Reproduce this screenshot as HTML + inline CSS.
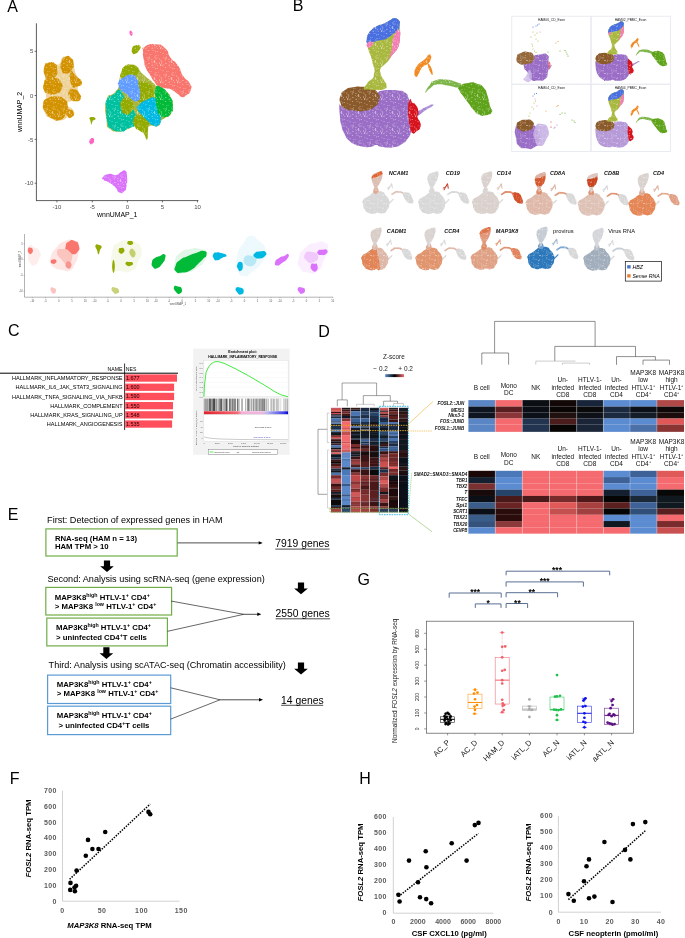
<!DOCTYPE html><html><head><meta charset="utf-8"><title>Figure</title><style>html,body{margin:0;padding:0;background:#fff;width:685px;height:938px;overflow:hidden}svg{display:block;will-change:transform}</style></head><body><svg width="685" height="938" viewBox="0 0 685 938" font-family='"Liberation Sans", sans-serif'>
<rect width="685" height="938" fill="#fff"/>
<defs><pattern id="spk" width="17" height="17" patternUnits="userSpaceOnUse"><g fill="#fff" opacity="0.85"><rect x="7.69" y="9.52" width="0.86" height="0.63"/><rect x="8.63" y="9.99" width="0.49" height="0.66"/><rect x="10.71" y="13.48" width="0.45" height="0.55"/><rect x="1.54" y="13.76" width="0.75" height="0.42"/><rect x="16.70" y="16.40" width="0.73" height="0.71"/><rect x="2.68" y="0.26" width="0.66" height="0.43"/><rect x="3.23" y="4.11" width="0.42" height="0.63"/><rect x="7.49" y="14.32" width="0.66" height="0.72"/><rect x="8.50" y="11.26" width="0.63" height="0.54"/><rect x="16.96" y="16.93" width="0.82" height="0.75"/><rect x="5.36" y="3.90" width="0.54" height="0.44"/><rect x="13.03" y="6.81" width="0.82" height="0.59"/><rect x="16.29" y="14.40" width="0.40" height="0.50"/><rect x="15.47" y="7.99" width="0.89" height="0.60"/><rect x="1.24" y="10.70" width="0.79" height="0.53"/><rect x="1.48" y="5.65" width="0.88" height="0.78"/><rect x="2.01" y="4.19" width="0.45" height="0.43"/><rect x="13.55" y="3.02" width="0.68" height="0.62"/><rect x="3.24" y="12.44" width="0.47" height="0.72"/><rect x="1.98" y="7.15" width="0.51" height="0.53"/><rect x="16.51" y="13.66" width="0.55" height="0.84"/><rect x="3.58" y="6.70" width="0.83" height="0.72"/><rect x="1.71" y="16.82" width="0.51" height="0.53"/><rect x="13.14" y="5.59" width="0.55" height="0.44"/><rect x="1.53" y="9.91" width="0.52" height="0.70"/><rect x="6.32" y="7.70" width="0.88" height="0.64"/><rect x="9.77" y="14.73" width="0.49" height="0.48"/><rect x="15.44" y="13.90" width="0.52" height="0.49"/><rect x="12.57" y="15.99" width="0.50" height="0.88"/><rect x="15.00" y="10.26" width="0.61" height="0.45"/><rect x="0.66" y="16.37" width="0.52" height="0.75"/><rect x="4.37" y="14.00" width="0.70" height="0.55"/><rect x="2.98" y="12.25" width="0.43" height="0.51"/><rect x="9.51" y="14.49" width="0.71" height="0.54"/><rect x="15.60" y="3.47" width="0.41" height="0.53"/><rect x="7.58" y="1.03" width="0.49" height="0.58"/><rect x="9.73" y="2.24" width="0.58" height="0.85"/><rect x="16.67" y="11.17" width="0.75" height="0.69"/><rect x="2.39" y="0.60" width="0.41" height="0.86"/><rect x="11.92" y="16.37" width="0.41" height="0.72"/><rect x="8.20" y="12.42" width="0.56" height="0.90"/><rect x="1.28" y="9.28" width="0.77" height="0.85"/><rect x="12.53" y="11.96" width="0.80" height="0.86"/><rect x="5.98" y="11.65" width="0.85" height="0.84"/><rect x="7.09" y="13.44" width="0.83" height="0.69"/><rect x="10.62" y="6.50" width="0.69" height="0.70"/><rect x="1.36" y="10.87" width="0.90" height="0.84"/><rect x="12.38" y="6.60" width="0.77" height="0.69"/><rect x="7.49" y="14.25" width="0.44" height="0.78"/><rect x="0.51" y="10.22" width="0.64" height="0.52"/><rect x="11.87" y="8.45" width="0.71" height="0.86"/><rect x="4.35" y="0.19" width="0.55" height="0.74"/></g></pattern>
<pattern id="spk2" width="13" height="13" patternUnits="userSpaceOnUse"><g fill="#fff" opacity="0.9"><rect x="6.17" y="8.55" width="0.58" height="0.40"/><rect x="0.14" y="4.87" width="0.45" height="0.63"/><rect x="8.98" y="7.82" width="0.55" height="0.58"/><rect x="1.89" y="5.72" width="0.41" height="0.67"/><rect x="0.76" y="10.64" width="0.38" height="0.59"/><rect x="4.38" y="5.26" width="0.64" height="0.36"/><rect x="0.79" y="11.90" width="0.53" height="0.38"/><rect x="12.83" y="12.31" width="0.39" height="0.50"/><rect x="1.76" y="4.06" width="0.57" height="0.41"/><rect x="9.06" y="0.67" width="0.41" height="0.64"/><rect x="5.21" y="5.44" width="0.56" height="0.52"/><rect x="5.00" y="0.40" width="0.60" height="0.69"/><rect x="12.69" y="8.63" width="0.47" height="0.48"/><rect x="8.97" y="8.76" width="0.39" height="0.43"/><rect x="4.72" y="6.65" width="0.63" height="0.53"/><rect x="0.37" y="10.69" width="0.50" height="0.53"/><rect x="2.89" y="5.55" width="0.49" height="0.62"/><rect x="1.33" y="7.15" width="0.41" height="0.59"/><rect x="0.48" y="3.60" width="0.47" height="0.57"/><rect x="0.68" y="5.97" width="0.42" height="0.45"/><rect x="6.19" y="12.46" width="0.52" height="0.68"/><rect x="2.18" y="12.02" width="0.48" height="0.42"/><rect x="9.73" y="11.86" width="0.35" height="0.44"/><rect x="10.02" y="4.44" width="0.43" height="0.35"/><rect x="0.52" y="8.05" width="0.69" height="0.70"/><rect x="6.55" y="0.31" width="0.46" height="0.63"/><rect x="10.82" y="8.31" width="0.43" height="0.53"/><rect x="6.21" y="8.15" width="0.44" height="0.68"/><rect x="11.63" y="2.11" width="0.45" height="0.66"/><rect x="3.62" y="12.27" width="0.53" height="0.59"/><rect x="9.16" y="2.78" width="0.45" height="0.44"/><rect x="8.88" y="9.02" width="0.40" height="0.66"/><rect x="5.46" y="3.14" width="0.50" height="0.69"/><rect x="7.28" y="8.12" width="0.67" height="0.69"/></g></pattern></defs>
<text x="7.3" y="12" font-size="16.0" text-anchor="start" font-weight="normal" font-style="normal" fill="#000" >A</text>
<text x="292.8" y="11.1" font-size="16.0" text-anchor="start" font-weight="normal" font-style="normal" fill="#000" >B</text>
<text x="8.0" y="336.4" font-size="16.0" text-anchor="start" font-weight="normal" font-style="normal" fill="#000" >C</text>
<text x="318.3" y="336.6" font-size="16.0" text-anchor="start" font-weight="normal" font-style="normal" fill="#000" >D</text>
<text x="7.8" y="520.4" font-size="16.0" text-anchor="start" font-weight="normal" font-style="normal" fill="#000" >E</text>
<text x="9.8" y="784.2" font-size="16.0" text-anchor="start" font-weight="normal" font-style="normal" fill="#000" >F</text>
<text x="357.6" y="585" font-size="16.0" text-anchor="start" font-weight="normal" font-style="normal" fill="#000" >G</text>
<text x="359.2" y="784.2" font-size="16.0" text-anchor="start" font-weight="normal" font-style="normal" fill="#000" >H</text>
<line x1="36.4" y1="23.3" x2="36.4" y2="200.6" stroke="#333" stroke-width="0.8" />
<line x1="36.0" y1="200.6" x2="198.4" y2="200.6" stroke="#333" stroke-width="0.8" />
<line x1="34.6" y1="51.3" x2="36.4" y2="51.3" stroke="#333" stroke-width="0.7" />
<text x="33.4" y="53.4" font-size="6.0" text-anchor="end" font-weight="normal" font-style="normal" fill="#4d4d4d" >5</text>
<line x1="34.6" y1="95.5" x2="36.4" y2="95.5" stroke="#333" stroke-width="0.7" />
<text x="33.4" y="97.6" font-size="6.0" text-anchor="end" font-weight="normal" font-style="normal" fill="#4d4d4d" >0</text>
<line x1="34.6" y1="139.4" x2="36.4" y2="139.4" stroke="#333" stroke-width="0.7" />
<text x="33.4" y="141.5" font-size="6.0" text-anchor="end" font-weight="normal" font-style="normal" fill="#4d4d4d" >-5</text>
<line x1="34.6" y1="183.2" x2="36.4" y2="183.2" stroke="#333" stroke-width="0.7" />
<text x="33.4" y="185.29999999999998" font-size="6.0" text-anchor="end" font-weight="normal" font-style="normal" fill="#4d4d4d" >-10</text>
<line x1="56.9" y1="200.6" x2="56.9" y2="202.4" stroke="#333" stroke-width="0.7" />
<text x="56.9" y="208.6" font-size="6.0" text-anchor="middle" font-weight="normal" font-style="normal" fill="#4d4d4d" >-10</text>
<line x1="92.3" y1="200.6" x2="92.3" y2="202.4" stroke="#333" stroke-width="0.7" />
<text x="92.3" y="208.6" font-size="6.0" text-anchor="middle" font-weight="normal" font-style="normal" fill="#4d4d4d" >-5</text>
<line x1="127.4" y1="200.6" x2="127.4" y2="202.4" stroke="#333" stroke-width="0.7" />
<text x="127.4" y="208.6" font-size="6.0" text-anchor="middle" font-weight="normal" font-style="normal" fill="#4d4d4d" >0</text>
<line x1="162.4" y1="200.6" x2="162.4" y2="202.4" stroke="#333" stroke-width="0.7" />
<text x="162.4" y="208.6" font-size="6.0" text-anchor="middle" font-weight="normal" font-style="normal" fill="#4d4d4d" >5</text>
<line x1="197.5" y1="200.6" x2="197.5" y2="202.4" stroke="#333" stroke-width="0.7" />
<text x="197.5" y="208.6" font-size="6.0" text-anchor="middle" font-weight="normal" font-style="normal" fill="#4d4d4d" >10</text>
<text x="117.2" y="217.0" font-size="6.9" text-anchor="middle" font-weight="normal" font-style="normal" fill="#000" >wnnUMAP_1</text>
<text x="0" y="0" font-size="6.9" text-anchor="middle" transform="translate(22.3,112) rotate(-90)">wnnUMAP_2</text>
<path d="M44.6,66.0 C45.4,63.0 44.5,64.2 47.0,63.0 C49.5,61.8 49.0,62.0 52.0,62.5 C55.0,63.0 53.3,64.3 56.0,64.5 C58.7,64.7 58.0,65.2 60.0,63.0 C62.0,60.8 60.0,60.2 62.0,58.0 C64.0,55.8 63.0,56.5 66.0,56.5 C69.0,56.5 68.5,55.8 71.0,58.0 C73.5,60.2 71.8,57.7 73.5,63.0 C75.2,68.3 73.2,67.5 76.0,74.0 C78.8,80.5 81.1,78.2 81.8,82.5 C82.5,86.8 78.9,83.5 78.0,87.0 C77.1,90.5 78.2,89.0 79.0,93.0 C79.8,97.0 81.8,96.2 80.5,99.0 C79.2,101.8 78.2,100.8 75.0,101.5 C71.8,102.2 73.5,99.8 71.0,101.0 C68.5,102.2 66.8,102.0 67.5,105.0 C68.2,108.0 71.0,106.3 73.0,110.0 C75.0,113.7 75.2,113.7 73.5,116.0 C71.8,118.3 71.5,115.7 68.0,117.0 C64.5,118.3 66.3,119.0 63.0,120.0 C59.7,121.0 62.3,120.7 58.0,120.0 C53.7,119.3 54.3,120.3 50.0,118.0 C45.7,115.7 47.3,117.7 45.0,113.0 C42.7,108.3 42.9,109.3 43.2,104.0 C43.5,98.7 45.7,101.7 46.0,97.0 C46.3,92.3 44.7,94.3 44.0,90.0 C43.3,85.7 43.5,88.0 43.8,84.0 C44.1,80.0 44.8,82.0 45.0,78.0 C45.2,74.0 44.6,76.0 44.5,72.0 C44.4,68.0 43.8,69.0 44.6,66.0Z" fill="#EDD39A" />
<path d="M44.6,66.0 C45.9,61.6 45.5,63.6 49.0,62.8 C52.5,62.0 52.3,61.4 55.0,63.5 C57.7,65.6 56.7,64.8 57.0,69.0 C57.3,73.2 58.3,72.8 56.0,76.0 C53.7,79.2 53.7,78.5 50.0,78.5 C46.3,78.5 46.8,80.2 45.0,76.0 C43.2,71.8 43.3,70.4 44.6,66.0Z" fill="#D39200" />
<path d="M61.5,62.0 C63.0,57.5 62.8,57.8 66.0,56.5 C69.2,55.2 68.5,55.7 71.0,58.0 C73.5,60.3 73.3,59.5 73.5,63.5 C73.7,67.5 74.0,66.7 71.5,70.0 C69.0,73.3 69.3,73.5 66.0,73.5 C62.7,73.5 63.0,73.8 61.5,70.0 C60.0,66.2 60.0,66.5 61.5,62.0Z" fill="#D39200" />
<path d="M70.5,72.0 C72.0,69.0 72.2,72.5 76.0,76.0 C79.8,79.5 81.5,79.0 81.8,82.5 C82.1,86.0 80.4,85.7 77.0,86.5 C73.6,87.3 73.7,89.8 71.5,85.0 C69.3,80.2 69.0,75.0 70.5,72.0Z" fill="#D39200" />
<path d="M43.8,84.0 C44.8,80.3 43.3,81.0 47.0,79.0 C50.7,77.0 50.3,77.0 55.0,78.0 C59.7,79.0 58.8,78.3 61.0,82.0 C63.2,85.7 63.2,85.1 61.5,89.0 C59.8,92.9 60.5,92.3 56.0,93.8 C51.5,95.3 52.0,94.8 48.0,93.5 C44.0,92.2 45.4,93.2 44.0,90.0 C42.6,86.8 42.8,87.7 43.8,84.0Z" fill="#D39200" />
<path d="M69.0,91.0 C70.3,88.1 70.7,88.6 74.0,89.3 C77.3,90.0 76.8,89.8 79.0,93.0 C81.2,96.2 81.8,96.3 80.5,99.0 C79.2,101.7 78.5,101.3 75.0,101.0 C71.5,100.7 72.0,101.3 70.0,98.0 C68.0,94.7 67.7,93.9 69.0,91.0Z" fill="#D39200" />
<path d="M43.2,104.0 C44.0,99.3 43.4,100.5 48.0,98.0 C52.6,95.5 51.7,96.2 57.0,96.5 C62.3,96.8 60.5,96.2 64.0,99.0 C67.5,101.8 66.8,100.3 67.5,105.0 C68.2,109.7 68.3,108.1 66.0,113.0 C63.7,117.9 65.2,118.0 60.5,119.8 C55.8,121.6 57.0,121.1 52.0,118.5 C47.0,115.9 48.4,116.8 45.5,112.0 C42.6,107.2 42.4,108.7 43.2,104.0Z" fill="#D39200" />
<path d="M66.5,111.0 C67.3,108.7 67.7,109.0 70.0,109.5 C72.3,110.0 72.8,110.0 73.5,112.5 C74.2,115.0 74.0,115.7 72.0,117.0 C70.0,118.3 69.3,118.5 67.5,116.5 C65.7,114.5 65.7,113.3 66.5,111.0Z" fill="#D39200" />
<path d="M106.5,100.0 C109.0,91.0 109.8,97.7 114.0,93.0 C118.2,88.3 117.2,90.7 119.0,86.0 C120.8,81.3 118.5,84.0 119.5,79.0 C120.5,74.0 119.8,75.3 122.0,71.0 C124.2,66.7 123.0,68.2 126.0,66.0 C129.0,63.8 127.3,64.3 131.0,64.5 C134.7,64.7 134.0,64.3 137.0,66.5 C140.0,68.7 137.3,67.8 140.0,71.0 C142.7,74.2 141.7,73.0 145.0,76.0 C148.3,79.0 147.0,77.5 150.0,80.0 C153.0,82.5 151.3,81.2 154.0,83.5 C156.7,85.8 154.0,84.5 158.0,87.0 C162.0,89.5 161.7,87.3 166.0,91.0 C170.3,94.7 168.7,93.0 171.0,98.0 C173.3,103.0 173.0,100.7 173.0,106.0 C173.0,111.3 173.7,110.0 171.0,114.0 C168.3,118.0 168.3,115.7 165.0,118.0 C161.7,120.3 163.3,118.3 161.0,121.0 C158.7,123.7 161.7,124.3 158.0,126.0 C154.3,127.7 153.3,124.3 150.0,126.0 C146.7,127.7 149.0,126.7 148.0,131.0 C147.0,135.3 148.5,138.3 147.0,139.0 C145.5,139.7 147.2,137.3 143.5,133.0 C139.8,128.7 141.2,127.3 136.0,126.0 C130.8,124.7 133.3,127.2 128.0,129.0 C122.7,130.8 126.0,131.5 120.0,131.5 C114.0,131.5 114.5,132.8 110.0,129.0 C105.5,125.2 107.7,129.7 106.5,120.0 C105.3,110.3 104.0,109.0 106.5,100.0Z" fill="#A9B63A" />
<path d="M143.0,51.0 C143.2,46.8 140.2,49.2 144.4,46.9 C148.6,44.6 148.6,43.7 155.5,44.2 C162.4,44.7 160.1,43.7 165.2,48.3 C170.3,52.9 166.5,52.4 170.7,58.0 C174.9,63.6 173.5,59.0 177.7,65.0 C181.9,71.0 179.3,70.1 183.2,76.1 C187.1,82.1 187.0,78.4 189.5,83.0 C192.0,87.6 192.0,85.7 190.8,89.9 C189.6,94.1 189.0,93.2 186.0,95.5 C183.0,97.8 184.6,97.4 181.8,96.9 C179.0,96.4 180.9,96.4 177.7,94.1 C174.5,91.8 175.8,91.8 172.1,89.9 C168.4,88.0 170.8,89.4 166.6,88.5 C162.4,87.6 163.8,89.5 159.6,87.2 C155.4,84.9 157.3,85.8 154.1,81.6 C150.9,77.4 152.7,79.3 149.9,74.7 C147.1,70.1 147.9,72.8 145.8,67.7 C143.7,62.6 144.6,65.0 143.7,59.4 C142.8,53.8 142.8,55.2 143.0,51.0Z" fill="#F8766D" />
<path d="M132.0,49.0 C132.8,46.5 132.3,46.5 135.0,45.5 C137.7,44.5 138.7,44.3 140.0,46.0 C141.3,47.7 140.7,47.9 139.0,50.5 C137.3,53.1 137.2,53.0 135.0,53.8 C132.8,54.6 133.5,54.6 132.5,53.0 C131.5,51.4 131.2,51.5 132.0,49.0Z" fill="#93AA00" />
<path d="M121.5,71.9 C122.7,68.4 121.3,68.7 124.3,66.4 C127.3,64.1 126.3,64.8 130.5,65.0 C134.7,65.2 134.0,64.7 136.8,67.0 C139.6,69.3 139.5,68.9 138.8,71.9 C138.1,74.9 138.8,74.3 134.7,76.1 C130.6,77.9 131.0,77.2 126.4,77.4 C121.8,77.6 122.4,78.6 120.8,76.8 C119.2,75.0 120.3,75.4 121.5,71.9Z" fill="#93AA00" />
<path d="M106.9,99.6 C109.5,94.5 109.7,97.3 113.9,94.1 C118.1,90.9 116.2,89.4 119.4,89.9 C122.6,90.4 120.8,90.4 123.6,95.5 C126.4,100.6 124.0,99.7 127.7,105.2 C131.4,110.7 131.9,106.1 134.7,112.1 C137.5,118.1 138.4,117.6 136.1,123.2 C133.8,128.8 132.8,126.0 127.7,128.8 C122.6,131.6 126.3,131.5 120.8,131.5 C115.3,131.5 115.5,131.6 111.1,128.8 C106.7,126.0 109.2,129.7 107.6,123.2 C106.0,116.7 106.4,117.2 106.2,109.3 C106.0,101.4 104.3,104.7 106.9,99.6Z" fill="#00C19F" />
<path d="M133.5,84.0 C135.7,80.2 135.2,81.9 140.0,81.6 C144.8,81.3 143.7,80.2 148.0,83.0 C152.3,85.8 151.7,84.7 153.0,90.0 C154.3,95.3 154.7,94.9 152.0,99.0 C149.3,103.1 150.0,101.7 145.0,102.4 C140.0,103.1 140.8,104.1 137.0,101.0 C133.2,97.9 134.7,98.7 133.5,93.0 C132.3,87.3 131.3,87.8 133.5,84.0Z" fill="#93AA00" />
<path d="M122.0,100.0 C124.3,96.7 124.3,96.7 128.0,98.0 C131.7,99.3 132.0,99.3 133.0,104.0 C134.0,108.7 133.7,108.7 131.0,112.0 C128.3,115.3 128.3,115.3 125.0,114.0 C121.7,112.7 122.0,112.7 121.0,108.0 C120.0,103.3 119.7,103.3 122.0,100.0Z" fill="#93AA00" />
<path d="M134.0,118.0 C135.7,114.0 135.3,115.6 140.0,114.9 C144.7,114.2 144.7,113.6 148.0,116.0 C151.3,118.4 150.0,118.0 150.0,122.0 C150.0,126.0 148.8,123.3 148.0,128.0 C147.2,132.7 148.0,132.2 147.5,136.0 C147.0,139.8 147.7,140.2 146.5,139.5 C145.3,138.8 146.2,136.8 144.0,134.0 C141.8,131.2 143.0,133.3 140.0,131.0 C137.0,128.7 137.0,131.3 135.0,127.0 C133.0,122.7 132.3,122.0 134.0,118.0Z" fill="#93AA00" />
<path d="M118.7,81.6 C120.3,78.8 119.2,79.7 123.6,77.4 C128.0,75.1 127.5,74.2 131.9,74.7 C136.3,75.2 134.5,75.1 136.8,78.8 C139.1,82.5 137.7,80.2 138.8,85.8 C139.9,91.4 140.7,90.4 140.2,95.5 C139.7,100.6 140.2,99.6 137.4,101.0 C134.6,102.4 135.6,101.9 131.9,99.6 C128.2,97.3 130.1,97.3 126.4,94.1 C122.7,90.9 123.4,92.7 120.8,89.9 C118.2,87.1 119.4,88.6 118.7,85.8 C118.0,83.0 117.1,84.4 118.7,81.6Z" fill="#619CFF" />
<path d="M138.8,105.2 C142.1,102.0 141.6,101.9 147.2,99.6 C152.8,97.3 151.4,96.4 155.5,98.3 C159.6,100.2 157.8,98.7 159.6,105.2 C161.4,111.7 161.4,111.0 161.0,117.7 C160.6,124.4 161.1,122.8 158.3,125.3 C155.5,127.8 156.4,126.9 152.7,125.3 C149.0,123.7 150.9,123.9 147.2,120.4 C143.5,116.9 144.9,118.6 141.6,114.9 C138.3,111.2 138.3,112.5 137.4,109.3 C136.5,106.1 135.5,108.4 138.8,105.2Z" fill="#00B9E3" />
<path d="M155.5,88.5 C157.3,84.8 156.4,84.9 161.0,87.2 C165.6,89.5 165.4,89.5 169.3,95.5 C173.2,101.5 172.3,99.2 172.8,105.2 C173.3,111.2 173.2,109.6 170.7,113.5 C168.2,117.4 168.9,116.5 165.2,117.0 C161.5,117.5 162.4,117.9 159.6,114.9 C156.8,111.9 158.3,113.5 156.9,108.0 C155.5,102.5 156.0,104.8 155.5,98.3 C155.0,91.8 153.7,92.2 155.5,88.5Z" fill="#00BA38" />
<path d="M103.0,177.0 C104.8,175.0 104.7,174.7 109.0,174.0 C113.3,173.3 112.0,175.7 116.0,175.0 C120.0,174.3 118.0,173.5 121.0,172.0 C124.0,170.5 123.0,169.2 125.0,170.5 C127.0,171.8 126.5,170.8 127.0,176.0 C127.5,181.2 127.5,180.8 126.5,186.0 C125.5,191.2 126.5,189.4 124.0,191.5 C121.5,193.6 122.0,193.8 119.0,192.3 C116.0,190.8 118.7,190.4 115.0,187.0 C111.3,183.6 111.8,184.3 108.0,182.0 C104.2,179.7 105.2,181.7 103.5,180.0 C101.8,178.3 101.2,179.0 103.0,177.0Z" fill="#DB72FB" />
<path d="M129.5,31.5 C129.8,30.2 130.5,30.2 131.5,31.2 C132.5,32.2 132.8,33.2 132.5,34.5 C132.2,35.8 131.5,36.2 130.5,35.2 C129.5,34.2 129.2,32.8 129.5,31.5Z" fill="#FF61C3" />
<path d="M90.0,117.5 C91.7,116.7 94.7,117.2 95.5,118.5 C96.3,119.8 93.8,119.5 92.5,121.5 C91.2,123.5 92.2,124.7 91.5,124.5 C90.8,124.3 91.0,123.3 90.5,121.0 C90.0,118.7 88.3,118.3 90.0,117.5Z" fill="#93AA00" />
<path d="M89.5,140.5 C90.3,138.7 91.0,137.8 92.5,138.0 C94.0,138.2 94.2,139.0 94.0,141.0 C93.8,143.0 93.3,143.2 92.0,144.0 C90.7,144.8 90.8,144.7 90.0,143.5 C89.2,142.3 88.7,142.3 89.5,140.5Z" fill="#FF61C3" />
<rect x="38" y="24" width="159" height="175.5" fill="url(#spk)"/>
<line x1="24.5" y1="234" x2="24.5" y2="297.2" stroke="#666" stroke-width="0.5" />
<line x1="24.5" y1="297.2" x2="333" y2="297.2" stroke="#666" stroke-width="0.5" />
<line x1="23.5" y1="243.7" x2="24.5" y2="243.7" stroke="#666" stroke-width="0.4" />
<text x="22.8" y="244.6" font-size="2.6" text-anchor="end" font-weight="normal" font-style="normal" fill="#555" >5</text>
<line x1="23.5" y1="259.5" x2="24.5" y2="259.5" stroke="#666" stroke-width="0.4" />
<text x="22.8" y="260.4" font-size="2.6" text-anchor="end" font-weight="normal" font-style="normal" fill="#555" >0</text>
<line x1="23.5" y1="275.5" x2="24.5" y2="275.5" stroke="#666" stroke-width="0.4" />
<text x="22.8" y="276.4" font-size="2.6" text-anchor="end" font-weight="normal" font-style="normal" fill="#555" >-5</text>
<line x1="23.5" y1="291.2" x2="24.5" y2="291.2" stroke="#666" stroke-width="0.4" />
<text x="22.8" y="292.09999999999997" font-size="2.6" text-anchor="end" font-weight="normal" font-style="normal" fill="#555" >-10</text>
<line x1="32.4" y1="297.2" x2="32.4" y2="298.2" stroke="#666" stroke-width="0.4" />
<line x1="45.599999999999994" y1="297.2" x2="45.599999999999994" y2="298.2" stroke="#666" stroke-width="0.4" />
<line x1="58.8" y1="297.2" x2="58.8" y2="298.2" stroke="#666" stroke-width="0.4" />
<line x1="72.0" y1="297.2" x2="72.0" y2="298.2" stroke="#666" stroke-width="0.4" />
<line x1="85.19999999999999" y1="297.2" x2="85.19999999999999" y2="298.2" stroke="#666" stroke-width="0.4" />
<line x1="94.6" y1="297.2" x2="94.6" y2="298.2" stroke="#666" stroke-width="0.4" />
<line x1="107.8" y1="297.2" x2="107.8" y2="298.2" stroke="#666" stroke-width="0.4" />
<line x1="121.0" y1="297.2" x2="121.0" y2="298.2" stroke="#666" stroke-width="0.4" />
<line x1="134.2" y1="297.2" x2="134.2" y2="298.2" stroke="#666" stroke-width="0.4" />
<line x1="147.39999999999998" y1="297.2" x2="147.39999999999998" y2="298.2" stroke="#666" stroke-width="0.4" />
<line x1="155.9" y1="297.2" x2="155.9" y2="298.2" stroke="#666" stroke-width="0.4" />
<line x1="169.1" y1="297.2" x2="169.1" y2="298.2" stroke="#666" stroke-width="0.4" />
<line x1="182.3" y1="297.2" x2="182.3" y2="298.2" stroke="#666" stroke-width="0.4" />
<line x1="195.5" y1="297.2" x2="195.5" y2="298.2" stroke="#666" stroke-width="0.4" />
<line x1="208.7" y1="297.2" x2="208.7" y2="298.2" stroke="#666" stroke-width="0.4" />
<line x1="218.0" y1="297.2" x2="218.0" y2="298.2" stroke="#666" stroke-width="0.4" />
<line x1="231.2" y1="297.2" x2="231.2" y2="298.2" stroke="#666" stroke-width="0.4" />
<line x1="244.4" y1="297.2" x2="244.4" y2="298.2" stroke="#666" stroke-width="0.4" />
<line x1="257.6" y1="297.2" x2="257.6" y2="298.2" stroke="#666" stroke-width="0.4" />
<line x1="270.8" y1="297.2" x2="270.8" y2="298.2" stroke="#666" stroke-width="0.4" />
<line x1="280.0" y1="297.2" x2="280.0" y2="298.2" stroke="#666" stroke-width="0.4" />
<line x1="293.2" y1="297.2" x2="293.2" y2="298.2" stroke="#666" stroke-width="0.4" />
<line x1="306.4" y1="297.2" x2="306.4" y2="298.2" stroke="#666" stroke-width="0.4" />
<line x1="319.6" y1="297.2" x2="319.6" y2="298.2" stroke="#666" stroke-width="0.4" />
<line x1="332.8" y1="297.2" x2="332.8" y2="298.2" stroke="#666" stroke-width="0.4" />
<text x="32.4" y="301.5" font-size="2.6" text-anchor="middle" font-weight="normal" font-style="normal" fill="#555" >-10</text>
<text x="45.599999999999994" y="301.5" font-size="2.6" text-anchor="middle" font-weight="normal" font-style="normal" fill="#555" >-5</text>
<text x="58.8" y="301.5" font-size="2.6" text-anchor="middle" font-weight="normal" font-style="normal" fill="#555" >0</text>
<text x="72.0" y="301.5" font-size="2.6" text-anchor="middle" font-weight="normal" font-style="normal" fill="#555" >5</text>
<text x="85.19999999999999" y="301.5" font-size="2.6" text-anchor="middle" font-weight="normal" font-style="normal" fill="#555" >10</text>
<text x="94.6" y="301.5" font-size="2.6" text-anchor="middle" font-weight="normal" font-style="normal" fill="#555" >-10</text>
<text x="107.8" y="301.5" font-size="2.6" text-anchor="middle" font-weight="normal" font-style="normal" fill="#555" >-5</text>
<text x="121.0" y="301.5" font-size="2.6" text-anchor="middle" font-weight="normal" font-style="normal" fill="#555" >0</text>
<text x="134.2" y="301.5" font-size="2.6" text-anchor="middle" font-weight="normal" font-style="normal" fill="#555" >5</text>
<text x="147.39999999999998" y="301.5" font-size="2.6" text-anchor="middle" font-weight="normal" font-style="normal" fill="#555" >10</text>
<text x="155.9" y="301.5" font-size="2.6" text-anchor="middle" font-weight="normal" font-style="normal" fill="#555" >-10</text>
<text x="169.1" y="301.5" font-size="2.6" text-anchor="middle" font-weight="normal" font-style="normal" fill="#555" >-5</text>
<text x="182.3" y="301.5" font-size="2.6" text-anchor="middle" font-weight="normal" font-style="normal" fill="#555" >0</text>
<text x="195.5" y="301.5" font-size="2.6" text-anchor="middle" font-weight="normal" font-style="normal" fill="#555" >5</text>
<text x="208.7" y="301.5" font-size="2.6" text-anchor="middle" font-weight="normal" font-style="normal" fill="#555" >10</text>
<text x="218.0" y="301.5" font-size="2.6" text-anchor="middle" font-weight="normal" font-style="normal" fill="#555" >-10</text>
<text x="231.2" y="301.5" font-size="2.6" text-anchor="middle" font-weight="normal" font-style="normal" fill="#555" >-5</text>
<text x="244.4" y="301.5" font-size="2.6" text-anchor="middle" font-weight="normal" font-style="normal" fill="#555" >0</text>
<text x="257.6" y="301.5" font-size="2.6" text-anchor="middle" font-weight="normal" font-style="normal" fill="#555" >5</text>
<text x="270.8" y="301.5" font-size="2.6" text-anchor="middle" font-weight="normal" font-style="normal" fill="#555" >10</text>
<text x="280.0" y="301.5" font-size="2.6" text-anchor="middle" font-weight="normal" font-style="normal" fill="#555" >-10</text>
<text x="293.2" y="301.5" font-size="2.6" text-anchor="middle" font-weight="normal" font-style="normal" fill="#555" >-5</text>
<text x="306.4" y="301.5" font-size="2.6" text-anchor="middle" font-weight="normal" font-style="normal" fill="#555" >0</text>
<text x="319.6" y="301.5" font-size="2.6" text-anchor="middle" font-weight="normal" font-style="normal" fill="#555" >5</text>
<text x="332.8" y="301.5" font-size="2.6" text-anchor="middle" font-weight="normal" font-style="normal" fill="#555" >10</text>
<text x="178" y="305" font-size="2.8" text-anchor="middle" font-weight="normal" font-style="normal" fill="#555" >wnnUMAP_1</text>
<text x="0" y="0" font-size="2.8" text-anchor="middle" fill="#555" transform="translate(20.5,259) rotate(-90)">wnnUMAP_2</text>
<path d="M29.0,246.0 C31.0,243.3 30.3,245.0 34.0,247.0 C37.7,249.0 38.3,248.0 40.0,252.0 C41.7,256.0 40.7,254.7 39.0,259.0 C37.3,263.3 38.0,263.7 35.0,265.0 C32.0,266.3 32.3,266.3 30.0,263.0 C27.7,259.7 28.3,260.7 28.0,255.0 C27.7,249.3 27.0,248.7 29.0,246.0Z" fill="#FDEEED" />
<path d="M28.0,249.0 C28.5,247.1 29.0,247.6 30.5,247.7 C32.0,247.8 32.1,247.5 32.6,249.3 C33.1,251.1 33.2,251.7 32.0,253.0 C30.8,254.3 30.3,254.6 29.0,253.3 C27.7,252.0 27.5,250.9 28.0,249.0Z" fill="#F8766D" />
<path d="M51.0,256.0 C52.7,251.0 51.7,252.8 56.0,248.0 C60.3,243.2 58.0,244.0 64.0,241.5 C70.0,239.0 69.0,239.3 74.0,240.5 C79.0,241.7 77.7,239.8 79.0,245.0 C80.3,250.2 79.3,249.7 78.0,256.0 C76.7,262.3 77.7,259.2 75.0,264.0 C72.3,268.8 74.3,268.5 70.0,270.5 C65.7,272.5 67.0,270.8 62.0,270.0 C57.0,269.2 58.7,270.3 55.0,268.0 C51.3,265.7 52.1,267.0 50.8,263.0 C49.5,259.0 49.3,261.0 51.0,256.0Z" fill="#FDE6E4" />
<path d="M65.7,246.0 C66.4,242.5 66.1,243.2 69.0,241.5 C71.9,239.8 71.2,239.7 74.5,241.0 C77.8,242.3 77.8,241.8 78.8,245.5 C79.8,249.2 79.8,249.1 77.5,252.0 C75.2,254.9 75.5,254.2 72.0,254.2 C68.5,254.2 69.1,254.7 67.0,252.0 C64.9,249.3 65.0,249.5 65.7,246.0Z" fill="#F8766D" />
<path d="M50.8,261.0 C51.1,259.6 51.3,259.7 53.0,259.4 C54.7,259.1 55.2,258.8 56.0,260.0 C56.8,261.2 56.8,261.8 55.5,263.0 C54.2,264.2 53.6,264.2 52.0,263.5 C50.4,262.8 50.5,262.4 50.8,261.0Z" fill="#F8766D" />
<path d="M57.0,252.0 C57.3,248.3 58.7,249.0 63.0,249.0 C67.3,249.0 67.0,249.0 70.0,252.0 C73.0,255.0 72.7,254.0 72.0,258.0 C71.3,262.0 71.3,263.3 68.0,264.0 C64.7,264.7 65.7,264.0 62.0,260.0 C58.3,256.0 56.7,255.7 57.0,252.0Z" fill="#FAC4BF" />
<path d="M66.0,263.0 C67.0,261.0 68.3,260.7 70.0,262.0 C71.7,263.3 72.0,265.0 71.0,267.0 C70.0,269.0 68.7,269.3 67.0,268.0 C65.3,266.7 65.0,265.0 66.0,263.0Z" fill="#F8958E" />
<path d="M50.5,288.5 C50.8,286.7 52.2,287.2 54.0,288.0 C55.8,288.8 56.3,289.2 56.0,291.0 C55.7,292.8 54.8,294.3 53.0,293.5 C51.2,292.7 50.2,290.3 50.5,288.5Z" fill="#FBC4C0" />
<path d="M95.5,245.4 C96.2,243.7 97.0,244.5 99.0,245.0 C101.0,245.5 101.3,245.3 101.6,247.0 C101.9,248.7 101.0,247.6 100.0,250.0 C99.0,252.4 99.5,254.2 98.5,254.2 C97.5,254.2 98.0,252.9 97.0,250.0 C96.0,247.1 94.8,247.1 95.5,245.4Z" fill="#93AA00" />
<path d="M112.6,250.0 C114.4,241.7 113.2,246.2 118.0,243.0 C122.8,239.8 121.3,240.8 127.0,240.5 C132.7,240.2 130.2,238.8 135.0,242.0 C139.8,245.2 140.5,243.3 141.5,250.0 C142.5,256.7 141.2,255.1 138.0,262.0 C134.8,268.9 138.0,267.8 132.0,270.8 C126.0,273.8 126.5,271.9 120.0,271.0 C113.5,270.1 115.1,275.0 112.6,268.0 C110.1,261.0 110.8,258.3 112.6,250.0Z" fill="#F6F8EA" />
<path d="M118.8,249.5 C119.1,247.7 119.3,248.2 121.0,248.0 C122.7,247.8 123.2,247.5 124.0,249.0 C124.8,250.5 124.8,251.1 123.5,252.5 C122.2,253.9 121.6,254.3 120.0,253.3 C118.4,252.3 118.5,251.3 118.8,249.5Z" fill="#93AA00" />
<path d="M127.5,242.0 C128.0,240.8 128.2,241.0 130.0,241.0 C131.8,241.0 132.1,240.8 132.8,242.0 C133.5,243.2 133.4,243.7 132.0,244.5 C130.6,245.3 130.0,245.3 128.5,244.5 C127.0,243.7 127.0,243.2 127.5,242.0Z" fill="#93AA00" />
<path d="M112.6,262.0 C113.2,259.1 113.8,259.1 114.4,262.0 C115.0,264.9 115.0,267.9 114.4,270.8 C113.8,273.7 113.2,273.7 112.6,270.8 C112.0,267.9 112.0,264.9 112.6,262.0Z" fill="#93AA00" />
<path d="M125.8,262.5 C126.5,261.3 126.7,261.8 129.0,262.0 C131.3,262.2 132.1,261.8 132.8,263.0 C133.5,264.2 132.9,264.7 131.0,265.5 C129.1,266.3 128.7,266.5 127.0,265.5 C125.3,264.5 125.1,263.7 125.8,262.5Z" fill="#93AA00" />
<path d="M130.0,250.0 C131.0,248.0 132.3,248.0 134.0,250.0 C135.7,252.0 136.0,254.0 135.0,256.0 C134.0,258.0 132.7,258.0 131.0,256.0 C129.3,254.0 129.0,252.0 130.0,250.0Z" fill="#C5CF6E" />
<path d="M111.8,288.0 C112.5,286.5 112.7,286.8 115.0,287.5 C117.3,288.2 118.1,288.0 118.8,290.0 C119.5,292.0 118.9,292.9 117.0,293.6 C115.1,294.3 114.7,293.9 113.0,292.0 C111.3,290.1 111.1,289.5 111.8,288.0Z" fill="#C9D27A" />
<path d="M152.0,262.0 C152.7,259.0 152.3,260.0 155.0,258.0 C157.7,256.0 157.0,257.3 160.0,256.0 C163.0,254.7 162.3,253.5 164.0,254.2 C165.7,254.9 165.9,254.7 165.2,258.0 C164.5,261.3 164.7,260.6 162.0,264.0 C159.3,267.4 160.0,267.2 157.0,268.2 C154.0,269.2 154.7,269.1 153.0,267.0 C151.3,264.9 151.3,265.0 152.0,262.0Z" fill="#00BA38" />
<path d="M174.8,262.0 C176.1,255.7 174.9,257.3 180.0,253.0 C185.1,248.7 183.3,250.4 190.0,249.0 C196.7,247.6 194.5,247.9 200.0,248.9 C205.5,249.9 204.7,248.3 206.4,252.0 C208.1,255.7 208.1,254.7 205.0,260.0 C201.9,265.3 203.3,263.8 197.0,268.0 C190.7,272.2 193.0,271.3 186.0,272.6 C179.0,273.9 179.7,275.5 176.0,272.0 C172.3,268.5 173.5,268.3 174.8,262.0Z" fill="#E2F6E8" />
<path d="M175.5,266.0 C176.8,262.2 175.8,263.3 180.0,260.0 C184.2,256.7 182.7,258.3 188.0,256.0 C193.3,253.7 190.7,254.7 196.0,253.0 C201.3,251.3 200.5,250.3 204.0,251.0 C207.5,251.7 206.7,252.3 206.4,255.0 C206.1,257.7 205.8,256.0 203.0,259.0 C200.2,262.0 202.0,260.3 198.0,264.0 C194.0,267.7 196.3,267.1 191.0,270.0 C185.7,272.9 187.0,272.1 182.0,272.6 C177.0,273.1 178.2,273.7 176.0,271.5 C173.8,269.3 174.2,269.8 175.5,266.0Z" fill="#00BA38" />
<path d="M174.0,287.0 C174.7,285.2 175.4,285.9 178.0,286.6 C180.6,287.3 181.1,286.7 181.8,289.0 C182.5,291.3 181.9,292.6 180.0,293.6 C178.1,294.6 178.0,294.2 176.0,292.0 C174.0,289.8 173.3,288.8 174.0,287.0Z" fill="#00BA38" />
<path d="M213.4,254.0 C214.5,252.0 214.5,252.7 217.0,252.4 C219.5,252.1 217.8,252.0 221.0,253.0 C224.2,254.0 226.2,253.8 226.5,255.5 C226.8,257.2 225.2,256.4 222.0,258.0 C218.8,259.6 219.7,260.1 217.0,260.3 C214.3,260.5 215.0,260.6 213.8,258.5 C212.6,256.4 212.3,256.0 213.4,254.0Z" fill="#00B9E3" />
<path d="M237.5,255.0 C239.2,246.3 238.8,250.3 243.0,244.0 C247.2,237.7 245.0,237.3 250.0,236.0 C255.0,234.7 252.8,235.3 258.0,240.0 C263.2,244.7 264.2,242.7 265.5,250.0 C266.8,257.3 266.5,254.7 262.0,262.0 C257.5,269.3 258.0,267.3 252.0,272.0 C246.0,276.7 248.7,276.7 244.0,276.0 C239.3,275.3 240.2,277.0 238.0,270.0 C235.8,263.0 235.8,263.7 237.5,255.0Z" fill="#EDF9FD" />
<path d="M255.0,253.0 C257.0,251.2 256.5,251.8 260.0,251.5 C263.5,251.2 264.0,250.3 265.5,252.0 C267.0,253.7 267.0,254.3 264.5,256.5 C262.0,258.7 261.5,258.3 258.0,258.5 C254.5,258.7 255.0,258.8 254.0,257.0 C253.0,255.2 253.0,254.8 255.0,253.0Z" fill="#00B9E3" />
<path d="M237.5,264.0 C238.5,261.7 239.2,261.3 241.0,262.0 C242.8,262.7 242.8,263.1 242.8,266.0 C242.8,268.9 242.6,269.8 241.0,270.8 C239.4,271.8 239.2,271.3 238.0,269.0 C236.8,266.7 236.5,266.3 237.5,264.0Z" fill="#00B9E3" />
<path d="M244.0,258.0 C245.3,254.7 248.0,254.7 252.0,256.0 C256.0,257.3 257.3,258.7 256.0,262.0 C254.7,265.3 252.0,267.3 248.0,266.0 C244.0,264.7 242.7,261.3 244.0,258.0Z" fill="#B8E8F6" />
<path d="M236.0,288.0 C237.0,286.5 237.4,286.7 240.0,287.5 C242.6,288.3 243.4,288.2 243.7,290.5 C244.0,292.8 243.2,294.0 241.0,294.5 C238.8,295.0 238.7,294.2 237.0,292.0 C235.3,289.8 235.0,289.5 236.0,288.0Z" fill="#00B9E3" />
<path d="M275.2,262.0 C275.9,259.5 276.1,260.0 279.0,258.0 C281.9,256.0 280.9,257.3 284.0,256.0 C287.1,254.7 287.3,253.2 288.3,254.2 C289.3,255.2 289.1,256.1 287.0,259.0 C284.9,261.9 285.3,260.8 282.0,263.0 C278.7,265.2 279.3,265.8 277.0,265.5 C274.7,265.2 274.5,264.5 275.2,262.0Z" fill="#DB72FB" />
<path d="M298.8,258.0 C300.5,251.3 299.6,253.0 305.0,248.0 C310.4,243.0 308.3,244.7 315.0,243.0 C321.7,241.3 320.8,240.7 325.0,243.0 C329.2,245.3 328.0,244.3 327.7,250.0 C327.4,255.7 327.2,253.0 324.0,260.0 C320.8,267.0 323.3,266.8 318.0,271.0 C312.7,275.2 314.0,273.6 308.0,272.6 C302.0,271.6 303.1,272.9 300.0,268.0 C296.9,263.1 297.1,264.7 298.8,258.0Z" fill="#FBEEFE" />
<path d="M318.0,251.0 C319.3,249.6 319.0,250.1 322.0,249.8 C325.0,249.5 325.6,248.6 326.9,250.0 C328.2,251.4 328.0,252.3 326.0,254.0 C324.0,255.7 323.7,255.0 321.0,255.0 C318.3,255.0 319.0,255.3 318.0,254.0 C317.0,252.7 316.7,252.4 318.0,251.0Z" fill="#DB72FB" />
<path d="M311.0,265.0 C311.7,262.9 311.9,263.8 314.0,263.8 C316.1,263.8 316.4,262.7 317.2,265.0 C318.0,267.3 318.2,269.1 316.5,270.8 C314.8,272.5 313.8,271.9 312.0,270.0 C310.2,268.1 310.3,267.1 311.0,265.0Z" fill="#DB72FB" />
<path d="M305.0,254.0 C306.7,251.0 307.7,251.3 312.0,252.0 C316.3,252.7 317.3,252.7 318.0,256.0 C318.7,259.3 317.7,260.3 314.0,262.0 C310.3,263.7 310.0,263.7 307.0,261.0 C304.0,258.3 303.3,257.0 305.0,254.0Z" fill="#F0C8FC" />
<path d="M298.0,288.0 C299.0,286.5 299.7,286.8 302.0,287.5 C304.3,288.2 304.8,288.0 305.0,290.0 C305.2,292.0 304.5,292.9 302.5,293.6 C300.5,294.3 300.5,293.9 299.0,292.0 C297.5,290.1 297.0,289.5 298.0,288.0Z" fill="#DB72FB" />
<path d="M339.6,104.0 C339.2,107.0 339.2,107.7 339.8,115.0 C340.4,122.3 339.9,119.7 341.5,126.0 C343.1,132.3 342.0,129.2 344.5,134.0 C347.0,138.8 345.5,137.0 349.0,140.5 C352.5,144.0 350.7,142.5 355.0,144.5 C359.3,146.5 357.0,145.7 362.0,146.5 C367.0,147.3 365.3,147.5 370.0,147.0 C374.7,146.5 372.7,145.2 376.0,145.0 C379.3,144.8 376.3,145.7 380.0,146.5 C383.7,147.3 382.0,147.3 387.0,147.5 C392.0,147.7 390.0,148.2 395.0,147.0 C400.0,145.8 397.8,146.7 402.0,144.0 C406.2,141.3 404.5,143.0 407.5,139.0 C410.5,135.0 409.4,137.0 411.0,132.0 C412.6,127.0 412.1,129.7 412.3,124.0 C412.5,118.3 412.3,121.0 411.5,115.0 C410.7,109.0 411.0,111.7 410.0,106.0 C409.0,100.3 410.2,102.5 408.5,98.0 C406.8,93.5 408.5,95.0 405.0,92.5 C401.5,90.0 403.0,91.3 398.0,90.5 C393.0,89.7 395.0,90.0 390.0,90.0 C385.0,90.0 387.3,89.5 383.0,90.5 C378.7,91.5 380.7,90.2 377.0,93.0 C373.3,95.8 376.0,95.2 372.0,99.0 C368.0,102.8 370.7,101.0 365.0,104.5 C359.3,108.0 361.3,108.2 355.0,109.5 C348.7,110.8 350.7,109.7 346.0,108.5 C341.3,107.3 343.1,107.5 341.0,106.0 C338.9,104.5 340.0,101.0 339.6,104.0Z" fill="#9A6EC6" />
<path d="M408.0,116.0 C410.7,112.7 411.3,114.3 418.0,111.0 C424.7,107.7 423.3,108.2 428.0,106.0 C432.7,103.8 430.5,104.5 432.0,104.5 C433.5,104.5 434.5,104.2 432.5,106.0 C430.5,107.8 430.8,106.7 426.0,110.0 C421.2,113.3 423.3,112.3 418.0,116.0 C412.7,119.7 413.3,121.0 410.0,121.0 C406.7,121.0 405.3,119.3 408.0,116.0Z" fill="#A88AD6" />
<path d="M340.5,96.0 C342.0,91.7 340.8,92.9 345.0,90.0 C349.2,87.1 347.3,88.3 353.0,87.2 C358.7,86.1 356.0,86.4 362.0,86.8 C368.0,87.2 365.7,86.4 371.0,88.5 C376.3,90.6 375.3,89.2 378.0,93.0 C380.7,96.8 380.0,95.5 379.0,100.0 C378.0,104.5 379.3,103.0 375.0,106.5 C370.7,110.0 372.7,109.1 366.0,110.5 C359.3,111.9 362.0,111.5 355.0,110.8 C348.0,110.1 349.8,111.1 345.0,108.5 C340.2,105.9 342.0,107.2 340.5,103.0 C339.0,98.8 339.0,100.3 340.5,96.0Z" fill="#8B5A2B" />
<path d="M409.7,99.8 C411.1,97.2 410.3,100.7 412.3,102.4 C414.3,104.1 413.7,101.8 415.8,105.0 C417.9,108.2 417.9,107.9 418.5,112.0 C419.1,116.1 417.0,113.8 417.6,117.3 C418.2,120.8 419.3,119.1 420.2,122.6 C421.1,126.1 421.4,124.9 420.2,127.8 C419.0,130.7 419.3,129.5 416.7,131.3 C414.1,133.1 414.6,134.8 412.3,133.1 C410.0,131.4 410.9,130.8 409.7,126.1 C408.5,121.4 409.4,124.4 408.8,119.1 C408.2,113.8 407.7,116.7 408.0,110.3 C408.3,103.9 408.3,102.4 409.7,99.8Z" fill="#D7141E" />
<path d="M366.9,38.5 C367.2,34.7 366.7,37.0 368.3,34.1 C369.9,31.2 368.9,32.4 371.8,29.7 C374.7,27.0 373.0,28.2 377.1,26.1 C381.2,24.0 379.8,25.5 384.2,23.5 C388.6,21.5 386.9,21.8 390.4,20.0 C393.9,18.2 391.9,17.9 394.8,18.2 C397.7,18.5 397.6,19.0 399.2,20.8 C400.8,22.6 399.3,20.4 399.6,23.5 C399.9,26.6 399.9,25.6 400.1,30.0 C400.3,34.4 400.4,32.2 400.1,36.8 C399.8,41.4 400.4,39.4 399.2,43.8 C398.0,48.2 399.0,46.2 396.6,50.0 C394.2,53.8 394.8,51.8 392.1,55.3 C389.4,58.8 391.2,57.4 388.6,60.6 C386.0,63.8 386.9,62.3 384.2,65.0 C381.5,67.7 381.8,65.9 380.6,68.6 C379.4,71.3 380.0,70.2 380.5,73.0 C381.0,75.8 380.7,74.3 382.0,77.0 C383.3,79.7 383.0,78.2 384.5,81.0 C386.0,83.8 386.6,82.8 386.5,85.5 C386.4,88.2 387.7,87.5 384.2,89.0 C380.7,90.5 381.4,89.8 376.0,90.0 C370.6,90.2 372.1,89.9 368.0,89.5 C363.9,89.1 364.3,90.6 363.8,88.9 C363.3,87.2 364.7,87.1 366.5,84.5 C368.3,81.9 367.0,83.1 369.1,81.0 C371.2,78.9 371.1,80.7 372.7,78.3 C374.3,75.9 373.4,76.8 374.0,73.9 C374.6,71.0 374.8,72.5 374.5,69.5 C374.2,66.5 374.1,68.8 373.1,65.0 C372.1,61.2 372.7,62.4 371.4,58.0 C370.1,53.6 370.4,55.9 369.1,51.8 C367.8,47.7 368.1,50.0 367.4,45.6 C366.7,41.2 366.6,42.3 366.9,38.5Z" fill="#A9B83F" />
<path d="M366.9,38.5 C367.2,35.5 366.7,37.0 368.3,34.1 C369.9,31.2 368.9,32.4 371.8,29.7 C374.7,27.0 373.0,28.2 377.1,26.1 C381.2,24.0 379.8,25.5 384.2,23.5 C388.6,21.5 386.9,21.8 390.4,20.0 C393.9,18.2 391.9,17.9 394.8,18.2 C397.7,18.5 397.6,18.7 399.2,20.8 C400.8,22.9 399.9,21.4 399.6,24.4 C399.3,27.4 400.5,26.5 398.3,29.7 C396.1,32.9 396.8,31.2 393.0,34.1 C389.2,37.0 391.2,36.4 386.8,38.5 C382.4,40.6 384.5,39.1 379.8,40.3 C375.1,41.5 376.8,41.2 372.7,42.1 C368.6,43.0 369.3,44.2 367.4,43.0 C365.5,41.8 366.6,41.5 366.9,38.5Z" fill="#4A6FE0" />
<path d="M398.3,29.7 C399.7,29.7 399.5,29.6 400.1,32.0 C400.7,34.4 400.4,32.9 400.1,36.8 C399.8,40.7 400.4,39.4 399.2,43.8 C398.0,48.2 399.0,46.2 396.6,50.0 C394.2,53.8 394.6,52.1 392.1,55.3 C389.6,58.5 389.5,59.9 389.0,59.5 C388.5,59.1 389.5,57.8 390.5,54.0 C391.5,50.2 391.3,52.0 392.0,48.0 C392.7,44.0 391.8,46.0 392.5,42.0 C393.2,38.0 392.8,39.3 394.0,36.0 C395.2,32.7 394.6,34.1 396.0,32.0 C397.4,29.9 396.9,29.7 398.3,29.7Z" fill="#F47FB6" />
<path d="M367.4,43.0 C369.0,41.2 371.2,41.3 372.7,42.1 C374.2,42.9 373.6,43.7 372.0,45.5 C370.4,47.3 369.5,48.3 368.0,47.5 C366.5,46.7 365.8,44.8 367.4,43.0Z" fill="#F47FB6" />
<path d="M414.5,72.0 C414.8,68.4 415.5,68.8 417.0,66.0 C418.5,63.2 417.2,65.2 419.0,63.5 C420.8,61.8 420.2,62.8 422.5,61.0 C424.8,59.2 424.0,60.1 426.0,58.0 C428.0,55.9 426.9,55.6 428.5,54.8 C430.1,54.0 430.1,53.8 430.8,55.5 C431.5,57.2 431.6,57.2 430.5,60.0 C429.4,62.8 429.7,62.0 427.5,64.0 C425.3,66.0 426.2,64.3 424.0,66.0 C421.8,67.7 422.8,66.3 421.0,69.0 C419.2,71.7 420.2,71.4 418.5,74.0 C416.8,76.6 417.3,77.5 416.0,76.8 C414.7,76.1 414.2,75.6 414.5,72.0Z" fill="#F28A24" />
<path d="M427.5,64.0 C427.0,61.0 427.8,61.8 429.5,64.5 C431.2,67.2 432.0,69.0 432.5,72.0 C433.0,75.0 432.7,76.2 431.0,73.5 C429.3,70.8 428.0,67.0 427.5,64.0Z" fill="#F28A24" />
<path d="M425.4,92.6 C425.1,91.6 426.8,88.5 430.0,84.5 C433.2,80.5 429.8,82.2 435.0,80.6 C440.2,79.0 438.5,79.1 445.5,79.6 C452.5,80.1 450.7,80.3 456.0,82.0 C461.3,83.7 460.5,82.9 461.3,84.7 C462.1,86.5 463.2,87.2 458.5,87.5 C453.8,87.8 454.5,86.6 447.3,85.6 C440.1,84.6 442.4,83.9 437.0,84.5 C431.6,85.1 434.9,84.8 431.0,87.5 C427.1,90.2 425.7,93.6 425.4,92.6Z" fill="#7DB548" />
<path d="M459.6,86.4 C462.5,83.8 462.5,83.8 468.3,82.9 C474.1,82.0 471.8,82.0 477.1,83.8 C482.4,85.6 480.6,84.1 484.1,88.2 C487.6,92.3 485.6,90.0 487.6,96.1 C489.6,102.2 488.7,101.4 490.2,106.6 C491.7,111.8 493.5,108.9 492.0,111.8 C490.5,114.7 490.2,114.4 485.8,115.3 C481.4,116.2 482.9,116.2 478.8,114.5 C474.7,112.8 477.1,113.9 473.6,110.1 C470.1,106.3 471.8,107.8 468.3,103.1 C464.8,98.4 466.0,100.2 463.1,96.1 C460.2,92.0 460.8,94.0 459.6,90.8 C458.4,87.6 456.7,89.0 459.6,86.4Z" fill="#5FA31B" />
<rect x="336" y="14" width="160" height="136" fill="url(#spk)"/>
<rect x="511.8" y="16.2" width="79" height="68" fill="none" stroke="#E6E9EF" stroke-width="0.9"/>
<rect x="591.2" y="16.2" width="79.2" height="68" fill="none" stroke="#E6E9EF" stroke-width="0.9"/>
<rect x="511.8" y="84.2" width="79" height="67.3" fill="none" stroke="#E6E9EF" stroke-width="0.9"/>
<rect x="591.2" y="84.2" width="79.2" height="67.3" fill="none" stroke="#E6E9EF" stroke-width="0.9"/>
<text x="551.5" y="20.8" font-size="3.3" text-anchor="middle" font-weight="normal" font-style="normal" fill="#222" >HAM06_CD_Exon</text>
<text x="630.5" y="20.8" font-size="3.3" text-anchor="middle" font-weight="normal" font-style="normal" fill="#222" >HAM02_PBMC_Exon</text>
<text x="551.5" y="88.6" font-size="3.3" text-anchor="middle" font-weight="normal" font-style="normal" fill="#222" >HAM04_CD_Exon</text>
<text x="630.5" y="88.6" font-size="3.3" text-anchor="middle" font-weight="normal" font-style="normal" fill="#222" >HAM04_PBMC_Exon</text>
<path d="M526.0,60.0 C528.7,56.5 527.3,58.3 532.0,56.5 C536.7,54.7 534.8,55.0 540.0,54.5 C545.2,54.0 544.7,52.5 547.5,55.0 C550.3,57.5 548.3,56.3 548.5,62.0 C548.7,67.7 549.2,66.3 548.0,72.0 C546.8,77.7 548.3,76.2 545.0,79.0 C541.7,81.8 542.7,80.3 538.0,80.5 C533.3,80.7 534.3,82.0 531.0,79.5 C527.7,77.0 530.3,77.2 528.0,73.0 C525.7,68.8 524.7,71.3 524.0,67.0 C523.3,62.7 523.3,63.5 526.0,60.0Z" fill="#9A6EC6" />
<path d="M516.8,57.0 C517.5,53.5 517.3,54.7 521.0,53.0 C524.7,51.3 523.8,51.3 528.0,52.0 C532.2,52.7 531.8,52.0 533.5,55.0 C535.2,58.0 535.2,58.0 533.0,61.0 C530.8,64.0 531.7,63.2 527.0,64.0 C522.3,64.8 522.4,65.8 519.0,63.5 C515.6,61.2 516.1,60.5 516.8,57.0Z" fill="#96693C" />
<path d="M548.5,63.0 C548.8,60.8 549.3,61.2 550.0,62.5 C550.7,63.8 550.8,64.8 550.5,67.0 C550.2,69.2 549.7,70.3 549.0,69.0 C548.3,67.7 548.2,65.2 548.5,63.0Z" fill="#D7141E" opacity="0.6"/>
<polyline points="545,73 552,65" stroke="#9A6EC6" stroke-width="0.9" fill="none"/>
<circle cx="536" cy="26" r="0.55" fill="#4A6FE0"/>
<circle cx="537.5" cy="25" r="0.55" fill="#4A6FE0"/>
<circle cx="539" cy="24" r="0.55" fill="#4A6FE0"/>
<circle cx="533" cy="32" r="0.55" fill="#A9B83F"/>
<circle cx="535" cy="35" r="0.55" fill="#A9B83F"/>
<circle cx="537" cy="33" r="0.55" fill="#A9B83F"/>
<circle cx="536" cy="39" r="0.55" fill="#A9B83F"/>
<circle cx="538" cy="41" r="0.55" fill="#A9B83F"/>
<circle cx="531" cy="37" r="0.55" fill="#A9B83F"/>
<circle cx="540" cy="32" r="0.55" fill="#F47FB6"/>
<circle cx="533" cy="49" r="0.55" fill="#A9B83F"/>
<circle cx="534.5" cy="51" r="0.55" fill="#A9B83F"/>
<circle cx="536" cy="52.5" r="0.55" fill="#A9B83F"/>
<circle cx="532.5" cy="46" r="0.55" fill="#A9B83F"/>
<circle cx="533" cy="27" r="0.55" fill="#4A6FE0"/>
<circle cx="532" cy="44" r="0.55" fill="#A9B83F"/>
<circle cx="533" cy="96" r="0.55" fill="#4A6FE0"/>
<circle cx="534.5" cy="94" r="0.55" fill="#4A6FE0"/>
<circle cx="536.5" cy="93.5" r="0.55" fill="#4A6FE0"/>
<circle cx="535" cy="99" r="0.55" fill="#F47FB6"/>
<circle cx="534" cy="103" r="0.55" fill="#A9B83F"/>
<circle cx="535.5" cy="101" r="0.55" fill="#A9B83F"/>
<circle cx="532" cy="107" r="0.55" fill="#A9B83F"/>
<circle cx="533.5" cy="109" r="0.55" fill="#A9B83F"/>
<circle cx="530" cy="113" r="0.55" fill="#A9B83F"/>
<circle cx="529" cy="116" r="0.55" fill="#A9B83F"/>
<circle cx="537" cy="106" r="0.55" fill="#F47FB6"/>
<circle cx="546" cy="111" r="0.55" fill="#F28A24"/>
<circle cx="557" cy="106.5" r="0.55" fill="#F28A24"/>
<circle cx="558" cy="105.5" r="0.55" fill="#F28A24"/>
<circle cx="560" cy="114.5" r="0.55" fill="#5FA31B"/>
<circle cx="562" cy="113" r="0.55" fill="#5FA31B"/>
<circle cx="565" cy="113" r="0.55" fill="#5FA31B"/>
<circle cx="572" cy="120" r="0.55" fill="#5FA31B"/>
<circle cx="574" cy="121" r="0.55" fill="#5FA31B"/>
<circle cx="575" cy="122.5" r="0.55" fill="#5FA31B"/>
<circle cx="556" cy="43" r="0.55" fill="#F28A24"/>
<circle cx="558" cy="41.5" r="0.55" fill="#F28A24"/>
<circle cx="548" cy="52" r="0.55" fill="#5FA31B"/>
<circle cx="560" cy="51" r="0.55" fill="#5FA31B"/>
<circle cx="565" cy="50.5" r="0.55" fill="#5FA31B"/>
<circle cx="566" cy="52" r="0.55" fill="#5FA31B"/>
<circle cx="568" cy="56" r="0.55" fill="#5FA31B"/>
<circle cx="567" cy="54" r="0.55" fill="#5FA31B"/>
<circle cx="551" cy="122" r="0.55" fill="#D7141E"/>
<circle cx="551" cy="127" r="0.55" fill="#D7141E"/>
<circle cx="554" cy="128" r="0.55" fill="#9A6EC6"/>
<circle cx="555" cy="127" r="0.55" fill="#9A6EC6"/>
<circle cx="557" cy="125" r="0.55" fill="#9A6EC6"/>
<path d="M530.0,70.0 C528.3,68.5 528.0,72.7 526.0,76.0 C524.0,79.3 522.3,78.5 524.0,80.0 C525.7,81.5 529.0,83.8 531.0,80.5 C533.0,77.2 531.7,71.5 530.0,70.0Z" fill="#C9B5E6" opacity="0.8"/>
<path d="M595.5,60.8 C595.3,62.2 595.3,62.5 595.6,65.9 C595.9,69.2 595.7,68.0 596.4,70.9 C597.1,73.8 596.6,72.4 597.8,74.6 C599.0,76.8 598.3,76.0 599.9,77.6 C601.6,79.2 600.7,78.5 602.7,79.4 C604.8,80.4 603.7,80.0 606.0,80.4 C608.4,80.7 607.6,80.8 609.8,80.6 C612.0,80.4 611.0,79.7 612.6,79.7 C614.2,79.6 612.8,80.0 614.5,80.4 C616.2,80.7 615.4,80.7 617.8,80.8 C620.1,80.9 619.2,81.1 621.5,80.6 C623.9,80.0 622.9,80.4 624.8,79.2 C626.8,78.0 626.0,78.7 627.4,76.9 C628.8,75.1 628.3,76.0 629.1,73.7 C629.8,71.4 629.6,72.6 629.7,70.0 C629.7,67.4 629.7,68.6 629.3,65.9 C628.9,63.1 629.1,64.3 628.6,61.7 C628.1,59.1 628.7,60.1 627.9,58.0 C627.1,56.0 627.9,56.7 626.2,55.5 C624.6,54.4 625.3,55.0 622.9,54.6 C620.6,54.2 621.5,54.4 619.2,54.4 C616.8,54.4 617.9,54.1 615.9,54.6 C613.9,55.1 614.8,54.4 613.1,55.7 C611.4,57.0 612.6,56.7 610.7,58.5 C608.8,60.3 610.1,59.4 607.4,61.0 C604.8,62.6 605.7,62.7 602.7,63.3 C599.8,63.9 600.7,63.4 598.5,62.9 C596.3,62.3 597.2,62.4 596.2,61.7 C595.2,61.0 595.7,59.4 595.5,60.8Z" fill="#9A6EC6" />
<path d="M627.6,66.3 C628.9,64.8 629.2,65.6 632.3,64.0 C635.5,62.5 634.9,62.7 637.0,61.7 C639.2,60.7 638.2,61.0 638.9,61.0 C639.6,61.0 640.1,60.9 639.2,61.7 C638.2,62.6 638.4,62.0 636.1,63.6 C633.8,65.1 634.9,64.6 632.3,66.3 C629.8,68.0 630.2,68.6 628.6,68.6 C627.0,68.6 626.4,67.9 627.6,66.3Z" fill="#A88AD6" />
<path d="M595.9,57.1 C596.6,55.1 596.1,55.7 598.0,54.4 C600.0,53.0 599.1,53.6 601.8,53.1 C604.5,52.6 603.2,52.7 606.0,52.9 C608.8,53.1 607.8,52.7 610.3,53.7 C612.8,54.6 612.3,54.0 613.5,55.7 C614.8,57.5 614.5,56.9 614.0,59.0 C613.5,61.0 614.2,60.3 612.1,62.0 C610.1,63.6 611.0,63.1 607.9,63.8 C604.8,64.5 606.0,64.2 602.7,63.9 C599.4,63.6 600.3,64.1 598.0,62.9 C595.8,61.7 596.6,62.3 595.9,60.3 C595.2,58.4 595.2,59.1 595.9,57.1Z" fill="#8B5A2B" />
<path d="M628.4,58.9 C629.1,57.7 628.7,59.3 629.7,60.1 C630.6,60.9 630.3,59.8 631.3,61.3 C632.3,62.7 632.3,62.6 632.6,64.5 C632.9,66.4 631.9,65.3 632.2,66.9 C632.4,68.5 633.0,67.8 633.4,69.4 C633.8,71.0 633.9,70.4 633.4,71.8 C632.8,73.1 633.0,72.6 631.7,73.4 C630.5,74.2 630.8,75.0 629.7,74.2 C628.6,73.4 629.0,73.1 628.4,71.0 C627.9,68.8 628.3,70.2 628.0,67.8 C627.8,65.3 627.5,66.7 627.6,63.7 C627.8,60.7 627.8,60.1 628.4,58.9Z" fill="#D7141E" />
<path d="M608.3,30.7 C608.5,28.9 608.2,30.0 609.0,28.7 C609.8,27.3 609.3,27.9 610.6,26.6 C612.0,25.4 611.2,25.9 613.1,25.0 C615.1,24.0 614.4,24.7 616.5,23.8 C618.5,22.8 617.7,23.0 619.4,22.2 C621.0,21.4 620.1,21.2 621.4,21.3 C622.8,21.5 622.8,21.7 623.5,22.5 C624.3,23.3 623.6,22.4 623.7,23.8 C623.8,25.2 623.9,24.7 623.9,26.8 C624.0,28.8 624.1,27.8 623.9,29.9 C623.8,32.0 624.1,31.1 623.5,33.1 C623.0,35.1 623.4,34.2 622.3,36.0 C621.2,37.7 621.4,36.8 620.2,38.4 C618.9,40.0 619.8,39.4 618.5,40.8 C617.3,42.3 617.7,41.6 616.5,42.9 C615.2,44.1 615.3,43.3 614.8,44.5 C614.2,45.7 614.5,45.3 614.7,46.5 C614.9,47.8 614.8,47.2 615.4,48.4 C616.1,49.6 615.9,48.9 616.6,50.2 C617.3,51.5 617.6,51.1 617.5,52.3 C617.5,53.5 618.1,53.2 616.5,53.9 C614.8,54.6 615.1,54.3 612.6,54.4 C610.1,54.4 610.8,54.3 608.8,54.1 C606.9,54.0 607.1,54.6 606.9,53.9 C606.6,53.1 607.3,53.0 608.1,51.8 C609.0,50.6 608.4,51.2 609.4,50.2 C610.3,49.3 610.3,50.1 611.1,49.0 C611.8,47.9 611.4,48.3 611.7,47.0 C612.0,45.6 612.0,46.3 611.9,44.9 C611.8,43.6 611.7,44.6 611.2,42.9 C610.8,41.1 611.1,41.7 610.4,39.6 C609.8,37.6 610.0,38.7 609.4,36.8 C608.7,34.9 608.9,36.0 608.6,33.9 C608.2,31.9 608.2,32.4 608.3,30.7Z" fill="#A9B83F" />
<path d="M608.3,30.7 C608.5,29.3 608.2,30.0 609.0,28.7 C609.8,27.3 609.3,27.9 610.6,26.6 C612.0,25.4 611.2,25.9 613.1,25.0 C615.1,24.0 614.4,24.7 616.5,23.8 C618.5,22.8 617.7,23.0 619.4,22.2 C621.0,21.4 620.1,21.2 621.4,21.3 C622.8,21.5 622.8,21.6 623.5,22.5 C624.3,23.5 623.8,22.8 623.7,24.2 C623.6,25.6 624.1,25.1 623.1,26.6 C622.1,28.1 622.4,27.3 620.6,28.7 C618.8,30.0 619.8,29.7 617.7,30.7 C615.6,31.6 616.6,31.0 614.4,31.5 C612.2,32.1 613.0,31.9 611.1,32.3 C609.1,32.7 609.5,33.3 608.6,32.7 C607.7,32.2 608.2,32.0 608.3,30.7Z" fill="#4A6FE0" />
<path d="M623.1,26.6 C623.7,26.6 623.7,26.6 623.9,27.7 C624.2,28.8 624.1,28.1 623.9,29.9 C623.8,31.7 624.1,31.1 623.5,33.1 C623.0,35.1 623.4,34.2 622.3,36.0 C621.2,37.7 621.4,36.9 620.2,38.4 C619.0,39.9 619.0,40.5 618.7,40.3 C618.5,40.1 619.0,39.6 619.4,37.8 C619.9,36.0 619.8,36.9 620.1,35.0 C620.4,33.2 620.0,34.1 620.4,32.3 C620.7,30.4 620.5,31.1 621.1,29.5 C621.6,28.0 621.3,28.7 622.0,27.7 C622.7,26.7 622.4,26.6 623.1,26.6Z" fill="#F47FB6" />
<path d="M608.6,32.7 C609.3,31.9 610.3,31.9 611.1,32.3 C611.8,32.7 611.5,33.1 610.7,33.9 C610.0,34.7 609.6,35.2 608.8,34.8 C608.1,34.4 607.8,33.6 608.6,32.7Z" fill="#F47FB6" />
<path d="M630.7,46.1 C630.9,44.4 631.2,44.6 631.9,43.3 C632.6,42.0 632.0,42.9 632.8,42.2 C633.7,41.4 633.4,41.9 634.5,41.0 C635.6,40.2 635.2,40.6 636.1,39.6 C637.0,38.7 636.5,38.6 637.3,38.2 C638.0,37.8 638.1,37.7 638.4,38.5 C638.7,39.3 638.7,39.3 638.2,40.6 C637.7,41.9 637.8,41.5 636.8,42.4 C635.8,43.3 636.2,42.6 635.2,43.3 C634.1,44.1 634.6,43.5 633.8,44.7 C632.9,45.9 633.4,45.8 632.6,47.0 C631.8,48.2 632.0,48.6 631.4,48.3 C630.8,48.0 630.5,47.7 630.7,46.1Z" fill="#F28A24" />
<path d="M636.8,42.4 C636.6,41.0 637.0,41.4 637.8,42.6 C638.5,43.9 638.9,44.7 639.2,46.1 C639.4,47.5 639.2,48.0 638.5,46.8 C637.7,45.5 637.0,43.8 636.8,42.4Z" fill="#F28A24" />
<path d="M635.8,55.6 C635.7,55.1 636.5,53.7 638.0,51.8 C639.5,50.0 637.9,50.8 640.3,50.0 C642.8,49.3 642.0,49.4 645.3,49.6 C648.6,49.8 647.7,49.9 650.2,50.7 C652.7,51.5 652.3,51.1 652.7,51.9 C653.1,52.8 653.6,53.1 651.4,53.2 C649.2,53.4 649.5,52.8 646.1,52.3 C642.8,51.9 643.8,51.5 641.3,51.8 C638.7,52.1 640.3,52.0 638.5,53.2 C636.6,54.5 636.0,56.0 635.8,55.6Z" fill="#7DB548" />
<path d="M651.9,52.7 C653.3,51.5 653.2,51.5 656.0,51.1 C658.7,50.7 657.6,50.7 660.1,51.5 C662.6,52.3 661.8,51.7 663.4,53.5 C665.1,55.4 664.1,54.4 665.1,57.2 C666.0,60.0 665.6,59.6 666.3,62.0 C667.0,64.4 667.8,63.1 667.1,64.4 C666.4,65.7 666.3,65.6 664.2,66.0 C662.1,66.4 662.8,66.4 660.9,65.6 C659.0,64.8 660.1,65.4 658.5,63.6 C656.8,61.9 657.6,62.5 656.0,60.4 C654.3,58.2 654.9,59.1 653.5,57.2 C652.2,55.3 652.4,56.2 651.9,54.7 C651.4,53.2 650.5,53.9 651.9,52.7Z" fill="#5FA31B" />
<path d="M515.5,128.0 C516.8,123.2 515.8,125.1 520.0,123.5 C524.2,121.9 523.0,122.5 528.0,123.3 C533.0,124.1 531.7,123.1 535.0,126.0 C538.3,128.9 536.3,127.3 538.0,132.0 C539.7,136.7 541.3,134.8 540.0,140.0 C538.7,145.2 538.7,144.7 534.0,147.5 C529.3,150.3 531.0,148.8 526.0,148.3 C521.0,147.8 522.3,149.4 519.0,146.0 C515.7,142.6 517.2,144.0 516.0,138.0 C514.8,132.0 514.2,132.8 515.5,128.0Z" fill="#9A6EC6" />
<path d="M535.0,128.0 C537.3,122.7 537.5,123.3 542.0,124.0 C546.5,124.7 547.1,124.7 548.4,130.0 C549.7,135.3 548.8,134.7 546.0,140.0 C543.2,145.3 543.7,146.0 540.0,146.0 C536.3,146.0 536.7,146.0 535.0,140.0 C533.3,134.0 532.7,133.3 535.0,128.0Z" fill="#C7B0E3" opacity="0.9"/>
<path d="M516.8,125.0 C516.8,122.0 516.9,122.7 520.0,121.0 C523.1,119.3 522.0,119.8 526.0,119.8 C530.0,119.8 529.6,118.9 532.0,121.0 C534.4,123.1 534.5,122.8 533.2,126.0 C531.9,129.2 532.4,129.3 528.0,130.6 C523.6,131.9 523.7,131.9 520.0,130.0 C516.3,128.1 516.8,128.0 516.8,125.0Z" fill="#8B5A2B" />
<path d="M595.5,127.9 C595.3,129.3 595.3,129.6 595.6,132.9 C595.9,136.2 595.7,135.0 596.4,137.8 C597.1,140.7 596.6,139.3 597.8,141.4 C599.0,143.6 598.3,142.8 599.9,144.4 C601.6,145.9 600.7,145.3 602.7,146.2 C604.8,147.1 603.7,146.7 606.0,147.1 C608.4,147.4 607.6,147.5 609.8,147.3 C612.0,147.1 611.0,146.5 612.6,146.4 C614.2,146.3 612.8,146.7 614.5,147.1 C616.2,147.4 615.4,147.4 617.8,147.5 C620.1,147.6 619.2,147.8 621.5,147.3 C623.9,146.8 622.9,147.1 624.8,145.9 C626.8,144.7 626.0,145.5 627.4,143.7 C628.8,141.9 628.3,142.8 629.1,140.5 C629.8,138.3 629.6,139.5 629.7,136.9 C629.7,134.4 629.7,135.6 629.3,132.9 C628.9,130.2 629.1,131.4 628.6,128.8 C628.1,126.3 628.7,127.3 627.9,125.2 C627.1,123.2 627.9,123.9 626.2,122.8 C624.6,121.6 625.3,122.2 622.9,121.9 C620.6,121.5 621.5,121.6 619.2,121.6 C616.8,121.6 617.9,121.4 615.9,121.9 C613.9,122.3 614.8,121.7 613.1,123.0 C611.4,124.3 612.6,124.0 610.7,125.7 C608.8,127.4 610.1,126.6 607.4,128.2 C604.8,129.7 605.7,129.8 602.7,130.4 C599.8,131.0 600.7,130.5 598.5,130.0 C596.3,129.4 597.2,129.5 596.2,128.8 C595.2,128.2 595.7,126.6 595.5,127.9Z" fill="#B69AD8" />
<path d="M595.9,124.3 C596.6,122.4 596.1,123.0 598.0,121.6 C600.0,120.3 599.1,120.9 601.8,120.4 C604.5,119.9 603.2,120.0 606.0,120.2 C608.8,120.4 607.8,120.0 610.3,121.0 C612.8,121.9 612.3,121.3 613.5,123.0 C614.8,124.7 614.5,124.1 614.0,126.1 C613.5,128.2 614.2,127.5 612.1,129.1 C610.1,130.6 611.0,130.2 607.9,130.9 C604.8,131.5 606.0,131.3 602.7,131.0 C599.4,130.7 600.3,131.1 598.0,130.0 C595.8,128.8 596.6,129.4 595.9,127.5 C595.2,125.6 595.2,126.3 595.9,124.3Z" fill="#8B5A2B" />
<path d="M628.4,126.1 C629.1,124.9 628.7,126.4 629.7,127.2 C630.6,128.0 630.3,127.0 631.3,128.4 C632.3,129.8 632.3,129.7 632.6,131.5 C632.9,133.4 631.9,132.3 632.2,133.9 C632.4,135.5 633.0,134.7 633.4,136.3 C633.8,137.9 633.9,137.3 633.4,138.7 C632.8,140.0 633.0,139.4 631.7,140.2 C630.5,141.0 630.8,141.8 629.7,141.0 C628.6,140.3 629.0,140.0 628.4,137.9 C627.9,135.8 628.3,137.1 628.0,134.7 C627.8,132.4 627.5,133.7 627.6,130.8 C627.8,127.9 627.8,127.2 628.4,126.1Z" fill="#D7141E" />
<path d="M608.3,98.5 C608.5,96.7 608.2,97.8 609.0,96.5 C609.8,95.2 609.3,95.7 610.6,94.5 C612.0,93.3 611.2,93.8 613.1,92.9 C615.1,92.0 614.4,92.6 616.5,91.7 C618.5,90.8 617.7,90.9 619.4,90.1 C621.0,89.4 620.1,89.2 621.4,89.3 C622.8,89.5 622.8,89.7 623.5,90.5 C624.3,91.3 623.6,90.3 623.7,91.7 C623.8,93.1 623.9,92.7 623.9,94.6 C624.0,96.6 624.1,95.6 623.9,97.7 C623.8,99.8 624.1,98.9 623.5,100.9 C623.0,102.8 623.4,101.9 622.3,103.6 C621.2,105.4 621.4,104.4 620.2,106.0 C618.9,107.6 619.8,107.0 618.5,108.4 C617.3,109.9 617.7,109.2 616.5,110.4 C615.2,111.6 615.3,110.8 614.8,112.0 C614.2,113.2 614.5,112.7 614.7,114.0 C614.9,115.3 614.8,114.6 615.4,115.8 C616.1,117.0 615.9,116.3 616.6,117.6 C617.3,118.9 617.6,118.4 617.5,119.6 C617.5,120.8 618.1,120.5 616.5,121.2 C614.8,121.9 615.1,121.6 612.6,121.6 C610.1,121.7 610.8,121.6 608.8,121.4 C606.9,121.3 607.1,121.9 606.9,121.2 C606.6,120.4 607.3,120.4 608.1,119.2 C609.0,118.0 608.4,118.5 609.4,117.6 C610.3,116.7 610.3,117.4 611.1,116.4 C611.8,115.3 611.4,115.7 611.7,114.4 C612.0,113.1 612.0,113.8 611.9,112.4 C611.8,111.1 611.7,112.1 611.2,110.4 C610.8,108.7 611.1,109.2 610.4,107.2 C609.8,105.3 610.0,106.3 609.4,104.5 C608.7,102.6 608.9,103.7 608.6,101.7 C608.2,99.7 608.2,100.2 608.3,98.5Z" fill="#A9B83F" />
<path d="M608.3,98.5 C608.5,97.1 608.2,97.8 609.0,96.5 C609.8,95.2 609.3,95.7 610.6,94.5 C612.0,93.3 611.2,93.8 613.1,92.9 C615.1,92.0 614.4,92.6 616.5,91.7 C618.5,90.8 617.7,90.9 619.4,90.1 C621.0,89.4 620.1,89.2 621.4,89.3 C622.8,89.5 622.8,89.6 623.5,90.5 C624.3,91.4 623.8,90.8 623.7,92.1 C623.6,93.5 624.1,93.1 623.1,94.5 C622.1,96.0 622.4,95.2 620.6,96.5 C618.8,97.8 619.8,97.5 617.7,98.5 C615.6,99.4 616.6,98.7 614.4,99.3 C612.2,99.8 613.0,99.7 611.1,100.1 C609.1,100.5 609.5,101.0 608.6,100.5 C607.7,100.0 608.2,99.8 608.3,98.5Z" fill="#4A6FE0" />
<path d="M623.1,94.5 C623.7,94.5 623.7,94.5 623.9,95.5 C624.2,96.6 624.1,95.9 623.9,97.7 C623.8,99.5 624.1,98.9 623.5,100.9 C623.0,102.8 623.4,101.9 622.3,103.6 C621.2,105.4 621.4,104.6 620.2,106.0 C619.0,107.5 619.0,108.1 618.7,107.9 C618.5,107.7 619.0,107.2 619.4,105.4 C619.9,103.7 619.8,104.5 620.1,102.7 C620.4,100.9 620.0,101.8 620.4,100.0 C620.7,98.2 620.5,98.8 621.1,97.3 C621.6,95.8 621.3,96.5 622.0,95.5 C622.7,94.6 622.4,94.5 623.1,94.5Z" fill="#F47FB6" />
<path d="M630.7,113.5 C630.9,111.9 631.2,112.1 631.9,110.8 C632.6,109.6 632.0,110.5 632.8,109.7 C633.7,109.0 633.4,109.4 634.5,108.6 C635.6,107.8 635.2,108.2 636.1,107.2 C637.0,106.3 636.5,106.2 637.3,105.8 C638.0,105.4 638.1,105.3 638.4,106.1 C638.7,106.9 638.7,106.9 638.2,108.1 C637.7,109.4 637.8,109.0 636.8,109.9 C635.8,110.8 636.2,110.1 635.2,110.8 C634.1,111.6 634.6,111.0 633.8,112.2 C632.9,113.4 633.4,113.3 632.6,114.4 C631.8,115.6 632.0,116.0 631.4,115.7 C630.8,115.4 630.5,115.2 630.7,113.5Z" fill="#F28A24" />
<path d="M636.8,109.9 C636.6,108.6 637.0,109.0 637.8,110.2 C638.5,111.4 638.9,112.2 639.2,113.5 C639.4,114.9 639.2,115.4 638.5,114.2 C637.7,113.0 637.0,111.3 636.8,109.9Z" fill="#F28A24" />
<path d="M635.8,122.8 C635.7,122.4 636.5,121.0 638.0,119.2 C639.5,117.4 637.9,118.2 640.3,117.4 C642.8,116.7 642.0,116.8 645.3,117.0 C648.6,117.2 647.7,117.3 650.2,118.0 C652.7,118.8 652.3,118.4 652.7,119.3 C653.1,120.1 653.6,120.4 651.4,120.5 C649.2,120.7 649.5,120.1 646.1,119.7 C642.8,119.2 643.8,118.9 641.3,119.2 C638.7,119.5 640.3,119.3 638.5,120.5 C636.6,121.7 636.0,123.3 635.8,122.8Z" fill="#7DB548" />
<path d="M651.9,120.0 C653.3,118.8 653.2,118.8 656.0,118.5 C658.7,118.1 657.6,118.1 660.1,118.9 C662.6,119.7 661.8,119.0 663.4,120.8 C665.1,122.7 664.1,121.6 665.1,124.4 C666.0,127.2 665.6,126.8 666.3,129.1 C667.0,131.5 667.8,130.2 667.1,131.5 C666.4,132.8 666.3,132.6 664.2,133.0 C662.1,133.4 662.8,133.5 660.9,132.7 C659.0,131.9 660.1,132.4 658.5,130.7 C656.8,129.0 657.6,129.6 656.0,127.5 C654.3,125.4 654.9,126.2 653.5,124.4 C652.2,122.5 652.4,123.5 651.9,122.0 C651.4,120.6 650.5,121.2 651.9,120.0Z" fill="#5FA31B" />
<rect x="512.5" y="23" width="78" height="60.5" fill="url(#spk2)"/>
<rect x="592" y="23" width="78" height="60.5" fill="url(#spk2)"/>
<rect x="512.5" y="91" width="78" height="59.5" fill="url(#spk2)"/>
<rect x="592" y="91" width="78" height="59.5" fill="url(#spk2)"/>
<polyline points="388.0,204.5 393.0,199.5" fill="none" stroke="#D8D8D8" stroke-width="1.3" stroke-linecap="round" stroke-linejoin="round"/>
<polyline points="388.2,189.6 391.7,183.7 392.4,188.0" fill="none" stroke="#D8D8D8" stroke-width="1.1" stroke-linecap="round" stroke-linejoin="round"/>
<polyline points="389.6,186.9 387.4,188.0" fill="none" stroke="#D8D8D8" stroke-width="1.0" stroke-linecap="round" stroke-linejoin="round"/>
<polyline points="392.1,194.3 396.1,191.7 400.8,192.0 403.8,193.6" fill="none" stroke="#E0C4B8" stroke-width="1.7" stroke-linecap="round" stroke-linejoin="round"/>
<path d="M403.3,193.4 C404.4,191.7 405.0,192.3 407.4,192.6 C409.8,192.9 408.9,192.6 410.4,194.2 C411.9,195.8 411.0,194.7 412.0,197.4 C413.0,200.1 414.0,200.3 413.3,202.3 C412.6,204.3 412.1,203.7 409.8,203.3 C407.5,202.9 408.3,203.1 406.4,201.2 C404.5,199.3 405.1,200.2 404.1,197.6 C403.1,195.0 402.2,195.1 403.3,193.4Z" fill="#D8D8D8" />
<path d="M368.1,196.5 C370.9,194.5 369.4,195.4 371.6,193.8 C373.8,192.2 372.9,192.4 374.8,191.6 C376.7,190.8 374.6,191.1 377.3,191.3 C380.0,191.5 380.3,191.0 382.9,192.1 C385.5,193.2 383.3,192.4 385.2,194.7 C387.1,197.0 387.2,195.9 388.6,199.1 C390.0,202.3 389.7,200.7 389.3,204.3 C388.9,207.9 389.3,206.8 387.3,209.8 C385.3,212.8 386.7,212.3 383.3,213.3 C379.9,214.3 380.0,212.7 377.2,212.8 C374.4,212.9 377.6,213.5 375.0,213.6 C372.4,213.7 372.7,214.5 369.3,213.2 C365.9,211.9 367.0,212.8 364.9,209.8 C362.8,206.8 363.7,207.6 363.1,204.3 C362.5,201.0 361.5,202.5 363.2,199.9 C364.9,197.3 365.3,198.5 368.1,196.5Z" fill="#D8D8D8" />
<path d="M374.4,188.0 C375.6,186.2 376.0,186.0 377.3,187.5 C378.6,189.0 379.4,190.7 378.2,192.5 C377.0,194.3 374.9,194.3 373.6,192.8 C372.3,191.3 373.2,189.8 374.4,188.0Z" fill="#E0A68E" />
<path d="M381.6,171.3 C380.3,170.9 380.9,171.2 378.8,171.8 C376.7,172.4 377.3,172.0 375.3,173.0 C373.3,174.0 374.0,173.3 372.8,174.8 C371.6,176.3 372.0,175.4 371.7,177.5 C371.4,179.6 371.5,178.6 372.0,181.0 C372.5,183.4 372.5,182.5 373.3,184.8 C374.1,187.1 373.8,185.9 374.4,187.8 C375.0,189.7 374.2,189.6 375.0,190.5 C375.8,191.4 376.0,191.5 376.8,190.5 C377.6,189.5 376.6,189.7 377.4,187.5 C378.2,185.3 378.1,186.3 379.3,184.0 C380.5,181.7 380.1,183.1 381.1,180.5 C382.1,177.9 381.9,178.8 382.4,176.3 C382.9,173.8 382.9,174.7 382.6,173.0 C382.3,171.3 382.9,171.7 381.6,171.3Z" fill="#DCBEB2" />
<path d="M381.6,171.5 C380.7,171.2 381.3,171.2 379.4,171.9 C377.5,172.6 378.2,172.4 375.9,173.7 C373.6,175.0 373.8,174.4 372.4,175.9 C371.0,177.4 370.7,177.7 371.8,178.2 C372.9,178.7 373.1,178.2 375.8,177.3 C378.5,176.4 377.7,176.6 379.8,175.6 C381.9,174.6 381.4,175.3 382.2,174.4 C383.0,173.5 382.4,173.8 382.2,172.8 C382.0,171.8 382.5,171.8 381.6,171.5Z" fill="#E0642F" />
<polyline points="443.8,204.6 448.8,199.6" fill="none" stroke="#D8D8D8" stroke-width="1.3" stroke-linecap="round" stroke-linejoin="round"/>
<polyline points="444.0,189.7 447.5,183.8 448.2,188.1" fill="none" stroke="#C83A2A" stroke-width="1.1" stroke-linecap="round" stroke-linejoin="round"/>
<polyline points="445.4,187.0 443.2,188.1" fill="none" stroke="#C83A2A" stroke-width="1.0" stroke-linecap="round" stroke-linejoin="round"/>
<polyline points="447.9,194.4 451.9,191.8 456.6,192.1 459.6,193.7" fill="none" stroke="#D8D8D8" stroke-width="1.7" stroke-linecap="round" stroke-linejoin="round"/>
<path d="M459.1,193.5 C460.2,191.8 460.8,192.4 463.2,192.7 C465.6,193.0 464.7,192.7 466.2,194.3 C467.7,195.9 466.8,194.8 467.8,197.5 C468.8,200.2 469.8,200.4 469.1,202.4 C468.4,204.4 467.9,203.8 465.6,203.4 C463.3,203.0 464.1,203.2 462.2,201.3 C460.3,199.4 460.9,200.3 459.9,197.7 C458.9,195.1 458.0,195.2 459.1,193.5Z" fill="#D8D8D8" />
<path d="M423.9,196.6 C426.7,194.6 425.2,195.5 427.4,193.9 C429.6,192.3 428.7,192.5 430.6,191.7 C432.5,190.9 430.4,191.2 433.1,191.4 C435.8,191.6 436.1,191.1 438.7,192.2 C441.3,193.3 439.1,192.5 441.0,194.8 C442.9,197.1 443.0,196.0 444.4,199.2 C445.8,202.4 445.5,200.8 445.1,204.4 C444.7,208.0 445.1,206.9 443.1,209.9 C441.1,212.9 442.5,212.4 439.1,213.4 C435.7,214.4 435.8,212.8 433.0,212.9 C430.2,213.0 433.4,213.6 430.8,213.7 C428.2,213.8 428.5,214.6 425.1,213.3 C421.7,212.0 422.8,212.9 420.7,209.9 C418.6,206.9 419.5,207.7 418.9,204.4 C418.3,201.1 417.3,202.6 419.0,200.0 C420.7,197.4 421.1,198.6 423.9,196.6Z" fill="#D8D8D8" />
<path d="M430.2,188.1 C431.4,186.3 431.8,186.1 433.1,187.6 C434.4,189.1 435.2,190.8 434.0,192.6 C432.8,194.4 430.7,194.4 429.4,192.9 C428.1,191.4 429.0,189.9 430.2,188.1Z" fill="#D8D8D8" />
<path d="M437.4,171.4 C436.1,171.0 436.7,171.3 434.6,171.9 C432.5,172.5 433.1,172.1 431.1,173.1 C429.1,174.1 429.8,173.4 428.6,174.9 C427.4,176.4 427.8,175.5 427.5,177.6 C427.2,179.7 427.3,178.7 427.8,181.1 C428.3,183.5 428.3,182.6 429.1,184.9 C429.9,187.2 429.6,186.0 430.2,187.9 C430.8,189.8 430.0,189.7 430.8,190.6 C431.6,191.5 431.8,191.6 432.6,190.6 C433.4,189.6 432.4,189.8 433.2,187.6 C434.0,185.4 433.9,186.4 435.1,184.1 C436.3,181.8 435.9,183.2 436.9,180.6 C437.9,178.0 437.7,178.9 438.2,176.4 C438.7,173.9 438.7,174.8 438.4,173.1 C438.1,171.4 438.7,171.8 437.4,171.4Z" fill="#D8D8D8" />
<polyline points="497.6,204.6 502.6,199.6" fill="none" stroke="#D8D8D8" stroke-width="1.3" stroke-linecap="round" stroke-linejoin="round"/>
<polyline points="497.8,189.7 501.3,183.8 502.0,188.1" fill="none" stroke="#DEC0B2" stroke-width="1.1" stroke-linecap="round" stroke-linejoin="round"/>
<polyline points="499.2,187.0 497.0,188.1" fill="none" stroke="#DEC0B2" stroke-width="1.0" stroke-linecap="round" stroke-linejoin="round"/>
<polyline points="501.7,194.4 505.7,191.8 510.4,192.1 513.4,193.7" fill="none" stroke="#E08A68" stroke-width="1.7" stroke-linecap="round" stroke-linejoin="round"/>
<path d="M512.9,193.5 C514.0,191.8 514.6,192.4 517.0,192.7 C519.4,193.0 518.5,192.7 520.0,194.3 C521.5,195.9 520.6,194.8 521.6,197.5 C522.6,200.2 523.6,200.4 522.9,202.4 C522.2,204.4 521.7,203.8 519.4,203.4 C517.1,203.0 517.9,203.2 516.0,201.3 C514.1,199.4 514.7,200.3 513.7,197.7 C512.7,195.1 511.8,195.2 512.9,193.5Z" fill="#D2502A" />
<path d="M477.7,196.6 C480.5,194.6 479.0,195.5 481.2,193.9 C483.4,192.3 482.5,192.5 484.4,191.7 C486.3,190.9 484.2,191.2 486.9,191.4 C489.6,191.6 489.9,191.1 492.5,192.2 C495.1,193.3 492.9,192.5 494.8,194.8 C496.7,197.1 496.8,196.0 498.2,199.2 C499.6,202.4 499.3,200.8 498.9,204.4 C498.5,208.0 498.9,206.9 496.9,209.9 C494.9,212.9 496.3,212.4 492.9,213.4 C489.5,214.4 489.6,212.8 486.8,212.9 C484.0,213.0 487.2,213.6 484.6,213.7 C482.0,213.8 482.3,214.6 478.9,213.3 C475.5,212.0 476.6,212.9 474.5,209.9 C472.4,206.9 473.3,207.7 472.7,204.4 C472.1,201.1 471.1,202.6 472.8,200.0 C474.5,197.4 474.9,198.6 477.7,196.6Z" fill="#DAD0CC" />
<path d="M484.0,188.1 C485.2,186.3 485.6,186.1 486.9,187.6 C488.2,189.1 489.0,190.8 487.8,192.6 C486.6,194.4 484.5,194.4 483.2,192.9 C481.9,191.4 482.8,189.9 484.0,188.1Z" fill="#D8D8D8" />
<path d="M491.2,171.4 C489.9,171.0 490.5,171.3 488.4,171.9 C486.3,172.5 486.9,172.1 484.9,173.1 C482.9,174.1 483.6,173.4 482.4,174.9 C481.2,176.4 481.6,175.5 481.3,177.6 C481.0,179.7 481.1,178.7 481.6,181.1 C482.1,183.5 482.1,182.6 482.9,184.9 C483.7,187.2 483.4,186.0 484.0,187.9 C484.6,189.8 483.8,189.7 484.6,190.6 C485.4,191.5 485.6,191.6 486.4,190.6 C487.2,189.6 486.2,189.8 487.0,187.6 C487.8,185.4 487.7,186.4 488.9,184.1 C490.1,181.8 489.7,183.2 490.7,180.6 C491.7,178.0 491.5,178.9 492.0,176.4 C492.5,173.9 492.5,174.8 492.2,173.1 C491.9,171.4 492.5,171.8 491.2,171.4Z" fill="#D9D1CE" />
<polyline points="551.2,205.5 556.2,200.5" fill="none" stroke="#D8D8D8" stroke-width="1.3" stroke-linecap="round" stroke-linejoin="round"/>
<polyline points="551.4,190.6 554.9,184.7 555.6,189.0" fill="none" stroke="#DEB4A4" stroke-width="1.1" stroke-linecap="round" stroke-linejoin="round"/>
<polyline points="552.8,187.9 550.6,189.0" fill="none" stroke="#DEB4A4" stroke-width="1.0" stroke-linecap="round" stroke-linejoin="round"/>
<polyline points="555.3,195.3 559.3,192.7 564.0,193.0 567.0,194.6" fill="none" stroke="#DF9A7E" stroke-width="1.7" stroke-linecap="round" stroke-linejoin="round"/>
<path d="M566.5,194.4 C567.6,192.7 568.2,193.3 570.6,193.6 C573.0,193.9 572.1,193.6 573.6,195.2 C575.1,196.8 574.2,195.7 575.2,198.4 C576.2,201.1 577.2,201.3 576.5,203.3 C575.8,205.3 575.3,204.7 573.0,204.3 C570.7,203.9 571.5,204.1 569.6,202.2 C567.7,200.3 568.3,201.2 567.3,198.6 C566.3,196.0 565.4,196.1 566.5,194.4Z" fill="#D8D8D8" />
<path d="M531.3,197.5 C534.1,195.5 532.6,196.4 534.8,194.8 C537.0,193.2 536.1,193.4 538.0,192.6 C539.9,191.8 537.8,192.1 540.5,192.3 C543.2,192.5 543.5,192.0 546.1,193.1 C548.7,194.2 546.5,193.4 548.4,195.7 C550.3,198.0 550.4,196.9 551.8,200.1 C553.2,203.3 552.9,201.7 552.5,205.3 C552.1,208.9 552.5,207.8 550.5,210.8 C548.5,213.8 549.9,213.3 546.5,214.3 C543.1,215.3 543.2,213.7 540.4,213.8 C537.6,213.9 540.8,214.5 538.2,214.6 C535.6,214.7 535.9,215.5 532.5,214.2 C529.1,212.9 530.2,213.8 528.1,210.8 C526.0,207.8 526.9,208.6 526.3,205.3 C525.7,202.0 524.7,203.5 526.4,200.9 C528.1,198.3 528.5,199.5 531.3,197.5Z" fill="#DFBAAA" />
<path d="M537.6,189.0 C538.8,187.2 539.2,187.0 540.5,188.5 C541.8,190.0 542.6,191.7 541.4,193.5 C540.2,195.3 538.1,195.3 536.8,193.8 C535.5,192.3 536.4,190.8 537.6,189.0Z" fill="#DE8E6C" />
<path d="M544.8,172.3 C543.5,171.9 544.1,172.2 542.0,172.8 C539.9,173.4 540.5,173.0 538.5,174.0 C536.5,175.0 537.2,174.3 536.0,175.8 C534.8,177.3 535.2,176.4 534.9,178.5 C534.6,180.6 534.7,179.6 535.2,182.0 C535.7,184.4 535.7,183.5 536.5,185.8 C537.3,188.1 537.0,186.9 537.6,188.8 C538.2,190.7 537.4,190.6 538.2,191.5 C539.0,192.4 539.2,192.5 540.0,191.5 C540.8,190.5 539.8,190.7 540.6,188.5 C541.4,186.3 541.3,187.3 542.5,185.0 C543.7,182.7 543.3,184.1 544.3,181.5 C545.3,178.9 545.1,179.8 545.6,177.3 C546.1,174.8 546.1,175.7 545.8,174.0 C545.5,172.3 546.1,172.7 544.8,172.3Z" fill="#DEB0A0" />
<path d="M535.3,178.8 C536.5,177.5 536.4,178.7 539.0,178.0 C541.6,177.3 540.9,177.1 543.0,176.6 C545.1,176.1 544.8,175.0 545.3,176.6 C545.8,178.2 545.5,178.8 544.6,181.5 C543.7,184.2 544.3,183.2 542.5,184.8 C540.7,186.4 541.2,186.1 539.2,186.2 C537.2,186.3 537.9,186.6 536.6,185.2 C535.3,183.8 535.8,184.1 535.4,182.0 C535.0,179.9 534.1,180.1 535.3,178.8Z" fill="#D65A30" />
<polyline points="603.3,206.3 608.3,201.3" fill="none" stroke="#D8D8D8" stroke-width="1.3" stroke-linecap="round" stroke-linejoin="round"/>
<polyline points="603.5,191.4 607.0,185.5 607.7,189.8" fill="none" stroke="#D8D8D8" stroke-width="1.1" stroke-linecap="round" stroke-linejoin="round"/>
<polyline points="604.9,188.7 602.7,189.8" fill="none" stroke="#D8D8D8" stroke-width="1.0" stroke-linecap="round" stroke-linejoin="round"/>
<polyline points="607.4,196.1 611.4,193.5 616.1,193.8 619.1,195.4" fill="none" stroke="#E08E6E" stroke-width="1.7" stroke-linecap="round" stroke-linejoin="round"/>
<path d="M618.6,195.2 C619.7,193.5 620.3,194.1 622.7,194.4 C625.1,194.7 624.2,194.4 625.7,196.0 C627.2,197.6 626.3,196.5 627.3,199.2 C628.3,201.9 629.3,202.1 628.6,204.1 C627.9,206.1 627.4,205.5 625.1,205.1 C622.8,204.7 623.6,204.9 621.7,203.0 C619.8,201.1 620.4,202.0 619.4,199.4 C618.4,196.8 617.5,196.9 618.6,195.2Z" fill="#D8D8D8" />
<path d="M583.4,198.3 C586.2,196.3 584.7,197.2 586.9,195.6 C589.1,194.0 588.2,194.2 590.1,193.4 C592.0,192.6 589.9,192.9 592.6,193.1 C595.3,193.3 595.6,192.8 598.2,193.9 C600.8,195.0 598.6,194.2 600.5,196.5 C602.4,198.8 602.5,197.7 603.9,200.9 C605.3,204.1 605.0,202.5 604.6,206.1 C604.2,209.7 604.6,208.6 602.6,211.6 C600.6,214.6 602.0,214.1 598.6,215.1 C595.2,216.1 595.3,214.5 592.5,214.6 C589.7,214.7 592.9,215.3 590.3,215.4 C587.7,215.5 588.0,216.3 584.6,215.0 C581.2,213.7 582.3,214.6 580.2,211.6 C578.1,208.6 579.0,209.4 578.4,206.1 C577.8,202.8 576.8,204.3 578.5,201.7 C580.2,199.1 580.6,200.3 583.4,198.3Z" fill="#DEC2B6" />
<path d="M589.7,189.8 C590.9,188.0 591.3,187.8 592.6,189.3 C593.9,190.8 594.7,192.5 593.5,194.3 C592.3,196.1 590.2,196.1 588.9,194.6 C587.6,193.1 588.5,191.6 589.7,189.8Z" fill="#DE9478" />
<path d="M596.9,173.1 C595.6,172.7 596.2,173.0 594.1,173.6 C592.0,174.2 592.6,173.8 590.6,174.8 C588.6,175.8 589.3,175.1 588.1,176.6 C586.9,178.1 587.3,177.2 587.0,179.3 C586.7,181.4 586.8,180.4 587.3,182.8 C587.8,185.2 587.8,184.3 588.6,186.6 C589.4,188.9 589.1,187.7 589.7,189.6 C590.3,191.5 589.5,191.4 590.3,192.3 C591.1,193.2 591.3,193.3 592.1,192.3 C592.9,191.3 591.9,191.5 592.7,189.3 C593.5,187.1 593.4,188.1 594.6,185.8 C595.8,183.5 595.4,184.9 596.4,182.3 C597.4,179.7 597.2,180.6 597.7,178.1 C598.2,175.6 598.2,176.5 597.9,174.8 C597.6,173.1 598.2,173.5 596.9,173.1Z" fill="#DCC6BE" />
<path d="M587.4,179.6 C588.6,178.3 588.5,179.5 591.1,178.8 C593.7,178.1 593.0,177.9 595.1,177.4 C597.2,176.9 596.9,175.8 597.4,177.4 C597.9,179.0 597.6,179.6 596.7,182.3 C595.8,185.0 596.4,184.0 594.6,185.6 C592.8,187.2 593.3,186.9 591.3,187.0 C589.3,187.1 590.0,187.4 588.7,186.0 C587.4,184.6 587.9,184.9 587.5,182.8 C587.1,180.7 586.2,180.9 587.4,179.6Z" fill="#C9441F" />
<polyline points="654.1,206.3 659.1,201.3" fill="none" stroke="#D8D8D8" stroke-width="1.3" stroke-linecap="round" stroke-linejoin="round"/>
<polyline points="654.3,191.4 657.8,185.5 658.5,189.8" fill="none" stroke="#E0B6A4" stroke-width="1.1" stroke-linecap="round" stroke-linejoin="round"/>
<polyline points="655.7,188.7 653.5,189.8" fill="none" stroke="#E0B6A4" stroke-width="1.0" stroke-linecap="round" stroke-linejoin="round"/>
<polyline points="658.2,196.1 662.2,193.5 666.9,193.8 669.9,195.4" fill="none" stroke="#E2A688" stroke-width="1.7" stroke-linecap="round" stroke-linejoin="round"/>
<path d="M669.4,195.2 C670.5,193.5 671.1,194.1 673.5,194.4 C675.9,194.7 675.0,194.4 676.5,196.0 C678.0,197.6 677.1,196.5 678.1,199.2 C679.1,201.9 680.1,202.1 679.4,204.1 C678.7,206.1 678.2,205.5 675.9,205.1 C673.6,204.7 674.4,204.9 672.5,203.0 C670.6,201.1 671.2,202.0 670.2,199.4 C669.2,196.8 668.3,196.9 669.4,195.2Z" fill="#E2A086" />
<path d="M634.2,198.3 C637.0,196.3 635.5,197.2 637.7,195.6 C639.9,194.0 639.0,194.2 640.9,193.4 C642.8,192.6 640.7,192.9 643.4,193.1 C646.1,193.3 646.4,192.8 649.0,193.9 C651.6,195.0 649.4,194.2 651.3,196.5 C653.2,198.8 653.3,197.7 654.7,200.9 C656.1,204.1 655.8,202.5 655.4,206.1 C655.0,209.7 655.4,208.6 653.4,211.6 C651.4,214.6 652.8,214.1 649.4,215.1 C646.0,216.1 646.1,214.5 643.3,214.6 C640.5,214.7 643.7,215.3 641.1,215.4 C638.5,215.5 638.8,216.3 635.4,215.0 C632.0,213.7 633.1,214.6 631.0,211.6 C628.9,208.6 629.8,209.4 629.2,206.1 C628.6,202.8 627.6,204.3 629.3,201.7 C631.0,199.1 631.4,200.3 634.2,198.3Z" fill="#E48656" />
<path d="M640.5,189.8 C641.7,188.0 642.1,187.8 643.4,189.3 C644.7,190.8 645.5,192.5 644.3,194.3 C643.1,196.1 641.0,196.1 639.7,194.6 C638.4,193.1 639.3,191.6 640.5,189.8Z" fill="#E0A88E" />
<path d="M647.7,173.1 C646.4,172.7 647.0,173.0 644.9,173.6 C642.8,174.2 643.4,173.8 641.4,174.8 C639.4,175.8 640.1,175.1 638.9,176.6 C637.7,178.1 638.1,177.2 637.8,179.3 C637.5,181.4 637.6,180.4 638.1,182.8 C638.6,185.2 638.6,184.3 639.4,186.6 C640.2,188.9 639.9,187.7 640.5,189.6 C641.1,191.5 640.3,191.4 641.1,192.3 C641.9,193.2 642.1,193.3 642.9,192.3 C643.7,191.3 642.7,191.5 643.5,189.3 C644.3,187.1 644.2,188.1 645.4,185.8 C646.6,183.5 646.2,184.9 647.2,182.3 C648.2,179.7 648.0,180.6 648.5,178.1 C649.0,175.6 649.0,176.5 648.7,174.8 C648.4,173.1 649.0,173.5 647.7,173.1Z" fill="#DAD2CF" />
<polyline points="386.9,260.8 391.9,255.8" fill="none" stroke="#D8D8D8" stroke-width="1.3" stroke-linecap="round" stroke-linejoin="round"/>
<polyline points="387.1,245.9 390.6,240.0 391.3,244.3" fill="none" stroke="#D8D8D8" stroke-width="1.1" stroke-linecap="round" stroke-linejoin="round"/>
<polyline points="388.5,243.2 386.3,244.3" fill="none" stroke="#D8D8D8" stroke-width="1.0" stroke-linecap="round" stroke-linejoin="round"/>
<polyline points="391.0,250.6 395.0,248.0 399.7,248.3 402.7,249.9" fill="none" stroke="#E0B4A0" stroke-width="1.7" stroke-linecap="round" stroke-linejoin="round"/>
<path d="M402.2,249.7 C403.3,248.0 403.9,248.6 406.3,248.9 C408.7,249.2 407.8,248.9 409.3,250.5 C410.8,252.1 409.9,251.0 410.9,253.7 C411.9,256.4 412.9,256.6 412.2,258.6 C411.5,260.6 411.0,260.0 408.7,259.6 C406.4,259.2 407.2,259.4 405.3,257.5 C403.4,255.6 404.0,256.5 403.0,253.9 C402.0,251.3 401.1,251.4 402.2,249.7Z" fill="#D8D8D8" />
<path d="M367.0,252.8 C369.8,250.8 368.3,251.7 370.5,250.1 C372.7,248.5 371.8,248.7 373.7,247.9 C375.6,247.1 373.5,247.4 376.2,247.6 C378.9,247.8 379.2,247.3 381.8,248.4 C384.4,249.5 382.2,248.7 384.1,251.0 C386.0,253.3 386.1,252.2 387.5,255.4 C388.9,258.6 388.6,257.0 388.2,260.6 C387.8,264.2 388.2,263.1 386.2,266.1 C384.2,269.1 385.6,268.6 382.2,269.6 C378.8,270.6 378.9,269.0 376.1,269.1 C373.3,269.2 376.5,269.8 373.9,269.9 C371.3,270.0 371.6,270.8 368.2,269.5 C364.8,268.2 365.9,269.1 363.8,266.1 C361.7,263.1 362.6,263.9 362.0,260.6 C361.4,257.3 360.4,258.8 362.1,256.2 C363.8,253.6 364.2,254.8 367.0,252.8Z" fill="#DDB8A8" />
<path d="M367.0,252.8 C369.8,250.8 368.3,251.7 370.5,250.1 C372.7,248.5 371.8,248.3 373.7,247.9 C375.6,247.5 374.9,246.7 376.2,248.8 C377.5,250.9 376.7,250.1 377.7,254.3 C378.7,258.5 378.5,256.3 379.2,261.3 C379.9,266.3 380.7,266.8 379.7,269.4 C378.7,272.0 378.0,268.9 376.1,269.1 C374.2,269.3 376.5,269.8 373.9,269.9 C371.3,270.0 371.6,270.8 368.2,269.5 C364.8,268.2 365.9,269.1 363.8,266.1 C361.7,263.1 362.6,263.9 362.0,260.6 C361.4,257.3 360.4,258.8 362.1,256.2 C363.8,253.6 364.2,254.8 367.0,252.8Z" fill="#E18558" />
<path d="M373.3,244.3 C374.5,242.5 374.9,242.3 376.2,243.8 C377.5,245.3 378.3,247.0 377.1,248.8 C375.9,250.6 373.8,250.6 372.5,249.1 C371.2,247.6 372.1,246.1 373.3,244.3Z" fill="#E0B8A6" />
<path d="M380.5,227.6 C379.2,227.2 379.8,227.5 377.7,228.1 C375.6,228.7 376.2,228.3 374.2,229.3 C372.2,230.3 372.9,229.6 371.7,231.1 C370.5,232.6 370.9,231.7 370.6,233.8 C370.3,235.9 370.4,234.9 370.9,237.3 C371.4,239.7 371.4,238.8 372.2,241.1 C373.0,243.4 372.7,242.2 373.3,244.1 C373.9,246.0 373.1,245.9 373.9,246.8 C374.7,247.7 374.9,247.8 375.7,246.8 C376.5,245.8 375.5,246.0 376.3,243.8 C377.1,241.6 377.0,242.6 378.2,240.3 C379.4,238.0 379.0,239.4 380.0,236.8 C381.0,234.2 380.8,235.1 381.3,232.6 C381.8,230.1 381.8,231.0 381.5,229.3 C381.2,227.6 381.8,228.0 380.5,227.6Z" fill="#D9CDC8" />
<polyline points="440.9,260.8 445.9,255.8" fill="none" stroke="#D8D8D8" stroke-width="1.3" stroke-linecap="round" stroke-linejoin="round"/>
<polyline points="441.1,245.9 444.6,240.0 445.3,244.3" fill="none" stroke="#D8D8D8" stroke-width="1.1" stroke-linecap="round" stroke-linejoin="round"/>
<polyline points="442.5,243.2 440.3,244.3" fill="none" stroke="#D8D8D8" stroke-width="1.0" stroke-linecap="round" stroke-linejoin="round"/>
<polyline points="445.0,250.6 449.0,248.0 453.7,248.3 456.7,249.9" fill="none" stroke="#E0B8A6" stroke-width="1.7" stroke-linecap="round" stroke-linejoin="round"/>
<path d="M456.2,249.7 C457.3,248.0 457.9,248.6 460.3,248.9 C462.7,249.2 461.8,248.9 463.3,250.5 C464.8,252.1 463.9,251.0 464.9,253.7 C465.9,256.4 466.9,256.6 466.2,258.6 C465.5,260.6 465.0,260.0 462.7,259.6 C460.4,259.2 461.2,259.4 459.3,257.5 C457.4,255.6 458.0,256.5 457.0,253.9 C456.0,251.3 455.1,251.4 456.2,249.7Z" fill="#D8D8D8" />
<path d="M421.0,252.8 C423.8,250.8 422.3,251.7 424.5,250.1 C426.7,248.5 425.8,248.7 427.7,247.9 C429.6,247.1 427.5,247.4 430.2,247.6 C432.9,247.8 433.2,247.3 435.8,248.4 C438.4,249.5 436.2,248.7 438.1,251.0 C440.0,253.3 440.1,252.2 441.5,255.4 C442.9,258.6 442.6,257.0 442.2,260.6 C441.8,264.2 442.2,263.1 440.2,266.1 C438.2,269.1 439.6,268.6 436.2,269.6 C432.8,270.6 432.9,269.0 430.1,269.1 C427.3,269.2 430.5,269.8 427.9,269.9 C425.3,270.0 425.6,270.8 422.2,269.5 C418.8,268.2 419.9,269.1 417.8,266.1 C415.7,263.1 416.6,263.9 416.0,260.6 C415.4,257.3 414.4,258.8 416.1,256.2 C417.8,253.6 418.2,254.8 421.0,252.8Z" fill="#E1956E" />
<path d="M427.3,244.3 C428.5,242.5 428.9,242.3 430.2,243.8 C431.5,245.3 432.3,247.0 431.1,248.8 C429.9,250.6 427.8,250.6 426.5,249.1 C425.2,247.6 426.1,246.1 427.3,244.3Z" fill="#E0A88E" />
<path d="M434.5,227.6 C433.2,227.2 433.8,227.5 431.7,228.1 C429.6,228.7 430.2,228.3 428.2,229.3 C426.2,230.3 426.9,229.6 425.7,231.1 C424.5,232.6 424.9,231.7 424.6,233.8 C424.3,235.9 424.4,234.9 424.9,237.3 C425.4,239.7 425.4,238.8 426.2,241.1 C427.0,243.4 426.7,242.2 427.3,244.1 C427.9,246.0 427.1,245.9 427.9,246.8 C428.7,247.7 428.9,247.8 429.7,246.8 C430.5,245.8 429.5,246.0 430.3,243.8 C431.1,241.6 431.0,242.6 432.2,240.3 C433.4,238.0 433.0,239.4 434.0,236.8 C435.0,234.2 434.8,235.1 435.3,232.6 C435.8,230.1 435.8,231.0 435.5,229.3 C435.2,227.6 435.8,228.0 434.5,227.6Z" fill="#D9D3D1" />
<polyline points="496.2,260.3 501.2,255.3" fill="none" stroke="#D8D8D8" stroke-width="1.3" stroke-linecap="round" stroke-linejoin="round"/>
<polyline points="496.4,245.4 499.9,239.5 500.6,243.8" fill="none" stroke="#E2A080" stroke-width="1.1" stroke-linecap="round" stroke-linejoin="round"/>
<polyline points="497.8,242.7 495.6,243.8" fill="none" stroke="#E2A080" stroke-width="1.0" stroke-linecap="round" stroke-linejoin="round"/>
<polyline points="500.3,250.1 504.3,247.5 509.0,247.8 512.0,249.4" fill="none" stroke="#E0926E" stroke-width="1.7" stroke-linecap="round" stroke-linejoin="round"/>
<path d="M511.5,249.2 C512.6,247.5 513.2,248.1 515.6,248.4 C518.0,248.7 517.1,248.4 518.6,250.0 C520.1,251.6 519.2,250.5 520.2,253.2 C521.2,255.9 522.2,256.1 521.5,258.1 C520.8,260.1 520.3,259.5 518.0,259.1 C515.7,258.7 516.5,258.9 514.6,257.0 C512.7,255.1 513.3,256.0 512.3,253.4 C511.3,250.8 510.4,250.9 511.5,249.2Z" fill="#E28460" />
<path d="M476.3,252.3 C479.1,250.3 477.6,251.2 479.8,249.6 C482.0,248.0 481.1,248.2 483.0,247.4 C484.9,246.6 482.8,246.9 485.5,247.1 C488.2,247.3 488.5,246.8 491.1,247.9 C493.7,249.0 491.5,248.2 493.4,250.5 C495.3,252.8 495.4,251.7 496.8,254.9 C498.2,258.1 497.9,256.5 497.5,260.1 C497.1,263.7 497.5,262.6 495.5,265.6 C493.5,268.6 494.9,268.1 491.5,269.1 C488.1,270.1 488.2,268.5 485.4,268.6 C482.6,268.7 485.8,269.3 483.2,269.4 C480.6,269.5 480.9,270.3 477.5,269.0 C474.1,267.7 475.2,268.6 473.1,265.6 C471.0,262.6 471.9,263.4 471.3,260.1 C470.7,256.8 469.7,258.3 471.4,255.7 C473.1,253.1 473.5,254.3 476.3,252.3Z" fill="#E0A286" />
<path d="M482.6,243.8 C483.8,242.0 484.2,241.8 485.5,243.3 C486.8,244.8 487.6,246.5 486.4,248.3 C485.2,250.1 483.1,250.1 481.8,248.6 C480.5,247.1 481.4,245.6 482.6,243.8Z" fill="#E08860" />
<path d="M489.8,227.1 C488.5,226.7 489.1,227.0 487.0,227.6 C484.9,228.2 485.5,227.8 483.5,228.8 C481.5,229.8 482.2,229.1 481.0,230.6 C479.8,232.1 480.2,231.2 479.9,233.3 C479.6,235.4 479.7,234.4 480.2,236.8 C480.7,239.2 480.7,238.3 481.5,240.6 C482.3,242.9 482.0,241.7 482.6,243.6 C483.2,245.5 482.4,245.4 483.2,246.3 C484.0,247.2 484.2,247.3 485.0,246.3 C485.8,245.3 484.8,245.5 485.6,243.3 C486.4,241.1 486.3,242.1 487.5,239.8 C488.7,237.5 488.3,238.9 489.3,236.3 C490.3,233.7 490.1,234.6 490.6,232.1 C491.1,229.6 491.1,230.5 490.8,228.8 C490.5,227.1 491.1,227.5 489.8,227.1Z" fill="#E0977A" />
<path d="M489.8,227.3 C488.9,227.0 489.5,227.0 487.6,227.7 C485.7,228.4 486.4,228.2 484.1,229.5 C481.8,230.8 482.0,230.2 480.6,231.7 C479.2,233.2 478.9,233.5 480.0,234.0 C481.1,234.5 481.3,234.0 484.0,233.1 C486.7,232.2 485.9,232.4 488.0,231.4 C490.1,230.4 489.6,231.1 490.4,230.2 C491.2,229.3 490.6,229.6 490.4,228.6 C490.2,227.6 490.7,227.6 489.8,227.3Z" fill="#E07248" />
<polyline points="552.9,259.9 557.9,254.9" fill="none" stroke="#3A82C0" stroke-width="1.3" stroke-linecap="round" stroke-linejoin="round"/>
<polyline points="553.1,245.0 556.6,239.1 557.3,243.4" fill="none" stroke="#A0B8D2" stroke-width="1.1" stroke-linecap="round" stroke-linejoin="round"/>
<polyline points="554.5,242.3 552.3,243.4" fill="none" stroke="#A0B8D2" stroke-width="1.0" stroke-linecap="round" stroke-linejoin="round"/>
<polyline points="557.0,249.7 561.0,247.1 565.7,247.4 568.7,249.0" fill="none" stroke="#7EA6D0" stroke-width="1.7" stroke-linecap="round" stroke-linejoin="round"/>
<path d="M568.2,248.8 C569.3,247.1 569.9,247.7 572.3,248.0 C574.7,248.3 573.8,248.0 575.3,249.6 C576.8,251.2 575.9,250.1 576.9,252.8 C577.9,255.5 578.9,255.7 578.2,257.7 C577.5,259.7 577.0,259.1 574.7,258.7 C572.4,258.3 573.2,258.5 571.3,256.6 C569.4,254.7 570.0,255.6 569.0,253.0 C568.0,250.4 567.1,250.5 568.2,248.8Z" fill="#D8D8D8" />
<path d="M533.0,251.9 C535.8,249.9 534.3,250.8 536.5,249.2 C538.7,247.6 537.8,247.8 539.7,247.0 C541.6,246.2 539.5,246.5 542.2,246.7 C544.9,246.9 545.2,246.4 547.8,247.5 C550.4,248.6 548.2,247.8 550.1,250.1 C552.0,252.4 552.1,251.3 553.5,254.5 C554.9,257.7 554.6,256.1 554.2,259.7 C553.8,263.3 554.2,262.2 552.2,265.2 C550.2,268.2 551.6,267.7 548.2,268.7 C544.8,269.7 544.9,268.1 542.1,268.2 C539.3,268.3 542.5,268.9 539.9,269.0 C537.3,269.1 537.6,269.9 534.2,268.6 C530.8,267.3 531.9,268.2 529.8,265.2 C527.7,262.2 528.6,263.0 528.0,259.7 C527.4,256.4 526.4,257.9 528.1,255.3 C529.8,252.7 530.2,253.9 533.0,251.9Z" fill="#2C78BA" />
<path d="M539.3,243.4 C540.5,241.6 540.9,241.4 542.2,242.9 C543.5,244.4 544.3,246.1 543.1,247.9 C541.9,249.7 539.8,249.7 538.5,248.2 C537.2,246.7 538.1,245.2 539.3,243.4Z" fill="#6A98C8" />
<path d="M546.5,226.7 C545.2,226.3 545.8,226.6 543.7,227.2 C541.6,227.8 542.2,227.4 540.2,228.4 C538.2,229.4 538.9,228.7 537.7,230.2 C536.5,231.7 536.9,230.8 536.6,232.9 C536.3,235.0 536.4,234.0 536.9,236.4 C537.4,238.8 537.4,237.9 538.2,240.2 C539.0,242.5 538.7,241.3 539.3,243.2 C539.9,245.1 539.1,245.0 539.9,245.9 C540.7,246.8 540.9,246.9 541.7,245.9 C542.5,244.9 541.5,245.1 542.3,242.9 C543.1,240.7 543.0,241.7 544.2,239.4 C545.4,237.1 545.0,238.5 546.0,235.9 C547.0,233.3 546.8,234.2 547.3,231.7 C547.8,229.2 547.8,230.1 547.5,228.4 C547.2,226.7 547.8,227.1 546.5,226.7Z" fill="#C6CCD4" />
<polyline points="608.9,261.2 613.9,256.2" fill="none" stroke="#D8D8D8" stroke-width="1.3" stroke-linecap="round" stroke-linejoin="round"/>
<polyline points="609.1,246.3 612.6,240.4 613.3,244.7" fill="none" stroke="#D8D8D8" stroke-width="1.1" stroke-linecap="round" stroke-linejoin="round"/>
<polyline points="610.5,243.6 608.3,244.7" fill="none" stroke="#D8D8D8" stroke-width="1.0" stroke-linecap="round" stroke-linejoin="round"/>
<polyline points="613.0,251.0 617.0,248.4 621.7,248.7 624.7,250.3" fill="none" stroke="#C4CCD4" stroke-width="1.7" stroke-linecap="round" stroke-linejoin="round"/>
<path d="M624.2,250.1 C625.3,248.4 625.9,249.0 628.3,249.3 C630.7,249.6 629.8,249.3 631.3,250.9 C632.8,252.5 631.9,251.4 632.9,254.1 C633.9,256.8 634.9,257.0 634.2,259.0 C633.5,261.0 633.0,260.4 630.7,260.0 C628.4,259.6 629.2,259.8 627.3,257.9 C625.4,256.0 626.0,256.9 625.0,254.3 C624.0,251.7 623.1,251.8 624.2,250.1Z" fill="#D8D8D8" />
<path d="M589.0,253.2 C591.8,251.2 590.3,252.1 592.5,250.5 C594.7,248.9 593.8,249.1 595.7,248.3 C597.6,247.5 595.5,247.8 598.2,248.0 C600.9,248.2 601.2,247.7 603.8,248.8 C606.4,249.9 604.2,249.1 606.1,251.4 C608.0,253.7 608.1,252.6 609.5,255.8 C610.9,259.0 610.6,257.4 610.2,261.0 C609.8,264.6 610.2,263.5 608.2,266.5 C606.2,269.5 607.6,269.0 604.2,270.0 C600.8,271.0 600.9,269.4 598.1,269.5 C595.3,269.6 598.5,270.2 595.9,270.3 C593.3,270.4 593.6,271.2 590.2,269.9 C586.8,268.6 587.9,269.5 585.8,266.5 C583.7,263.5 584.6,264.3 584.0,261.0 C583.4,257.7 582.4,259.2 584.1,256.6 C585.8,254.0 586.2,255.2 589.0,253.2Z" fill="#A2AEBC" />
<path d="M595.3,244.7 C596.5,242.9 596.9,242.7 598.2,244.2 C599.5,245.7 600.3,247.4 599.1,249.2 C597.9,251.0 595.8,251.0 594.5,249.5 C593.2,248.0 594.1,246.5 595.3,244.7Z" fill="#B8C0CA" />
<path d="M602.5,228.0 C601.2,227.6 601.8,227.9 599.7,228.5 C597.6,229.1 598.2,228.7 596.2,229.7 C594.2,230.7 594.9,230.0 593.7,231.5 C592.5,233.0 592.9,232.1 592.6,234.2 C592.3,236.3 592.4,235.3 592.9,237.7 C593.4,240.1 593.4,239.2 594.2,241.5 C595.0,243.8 594.7,242.6 595.3,244.5 C595.9,246.4 595.1,246.3 595.9,247.2 C596.7,248.1 596.9,248.2 597.7,247.2 C598.5,246.2 597.5,246.4 598.3,244.2 C599.1,242.0 599.0,243.0 600.2,240.7 C601.4,238.4 601.0,239.8 602.0,237.2 C603.0,234.6 602.8,235.5 603.3,233.0 C603.8,230.5 603.8,231.4 603.5,229.7 C603.2,228.0 603.8,228.4 602.5,228.0Z" fill="#D4D6DA" />
<rect x="355" y="165" width="330" height="110" fill="url(#spk2)"/>
<text x="388.7" y="174.6" font-size="5.57" text-anchor="start" font-weight="bold" font-style="italic" fill="#111" >NCAM1</text>
<text x="445.7" y="174.6" font-size="5.57" text-anchor="start" font-weight="bold" font-style="italic" fill="#111" >CD19</text>
<text x="496.8" y="174.6" font-size="5.57" text-anchor="start" font-weight="bold" font-style="italic" fill="#111" >CD14</text>
<text x="550.0" y="174.6" font-size="5.57" text-anchor="start" font-weight="bold" font-style="italic" fill="#111" >CD8A</text>
<text x="604.1" y="174.6" font-size="5.57" text-anchor="start" font-weight="bold" font-style="italic" fill="#111" >CD8B</text>
<text x="652.9" y="174.6" font-size="5.57" text-anchor="start" font-weight="bold" font-style="italic" fill="#111" >CD4</text>
<text x="386.7" y="232.8" font-size="5.57" text-anchor="start" font-weight="bold" font-style="italic" fill="#111" >CADM1</text>
<text x="444.2" y="232.8" font-size="5.57" text-anchor="start" font-weight="bold" font-style="italic" fill="#111" >CCR4</text>
<text x="495.8" y="232.8" font-size="5.57" text-anchor="start" font-weight="bold" font-style="italic" fill="#111" >MAP3K8</text>
<text x="553.1" y="232.8" font-size="5.77" text-anchor="start" font-weight="normal" font-style="normal" fill="#111" >provirus</text>
<text x="608.2" y="232.8" font-size="5.77" text-anchor="start" font-weight="normal" font-style="normal" fill="#111" >Virus RNA</text>
<rect x="625.3" y="261.5" width="36.3" height="19.6" fill="#fff" stroke="#111" stroke-width="0.7"/>
<rect x="627.2" y="265.2" width="3.4" height="3.3" fill="#4472C4" />
<rect x="627.2" y="274.2" width="3.4" height="3.3" fill="#ED7D31" />
<text x="632.4" y="268.9" font-size="5.23" text-anchor="start" font-weight="normal" font-style="italic" fill="#000" >HBZ</text>
<text x="632.4" y="277.9" font-size="5.23" text-anchor="start" font-weight="normal" font-style="italic" fill="#000" >Sense RNA</text>
<line x1="0" y1="373.2" x2="178" y2="373.2" stroke="#000" stroke-width="1.0" />
<line x1="124.6" y1="363.5" x2="124.6" y2="430" stroke="#000" stroke-width="0.8" />
<text x="122.6" y="370.8" font-size="5.2" text-anchor="end" font-weight="normal" font-style="normal" fill="#000" >NAME</text>
<text x="125.7" y="370.8" font-size="5.2" text-anchor="start" font-weight="normal" font-style="normal" fill="#000" >NES</text>
<rect x="125.2" y="374.4" width="51.8" height="7.3" fill="#FF4F5C" />
<text x="122.6" y="380.09999999999997" font-size="5.57" text-anchor="end" font-weight="normal" font-style="normal" fill="#000" >HALLMARK_INFLAMMATORY_RESPONSE</text>
<text x="125.9" y="380.0" font-size="5.45" text-anchor="start" font-weight="normal" font-style="normal" fill="#220000" >1.677</text>
<rect x="125.2" y="383.59999999999997" width="48.89999999999999" height="7.3" fill="#FF4F5C" />
<text x="122.6" y="389.29999999999995" font-size="5.57" text-anchor="end" font-weight="normal" font-style="normal" fill="#000" >HALLMARK_IL6_JAK_STAT3_SIGNALING</text>
<text x="125.9" y="389.2" font-size="5.45" text-anchor="start" font-weight="normal" font-style="normal" fill="#220000" >1.600</text>
<rect x="125.2" y="392.79999999999995" width="48.89999999999999" height="7.3" fill="#FF4F5C" />
<text x="122.6" y="398.49999999999994" font-size="5.57" text-anchor="end" font-weight="normal" font-style="normal" fill="#000" >HALLMARK_TNFA_SIGNALING_VIA_NFKB</text>
<text x="125.9" y="398.4" font-size="5.45" text-anchor="start" font-weight="normal" font-style="normal" fill="#220000" >1.590</text>
<rect x="125.2" y="402.0" width="47.8" height="7.3" fill="#FF4F5C" />
<text x="122.6" y="407.7" font-size="5.57" text-anchor="end" font-weight="normal" font-style="normal" fill="#000" >HALLMARK_COMPLEMENT</text>
<text x="125.9" y="407.6" font-size="5.45" text-anchor="start" font-weight="normal" font-style="normal" fill="#220000" >1.550</text>
<rect x="125.2" y="411.2" width="47.8" height="7.3" fill="#FF4F5C" />
<text x="122.6" y="416.9" font-size="5.57" text-anchor="end" font-weight="normal" font-style="normal" fill="#000" >HALLMARK_KRAS_SIGNALING_UP</text>
<text x="125.9" y="416.8" font-size="5.45" text-anchor="start" font-weight="normal" font-style="normal" fill="#220000" >1.548</text>
<rect x="125.2" y="420.4" width="46.89999999999999" height="7.3" fill="#FF4F5C" />
<text x="122.6" y="426.09999999999997" font-size="5.57" text-anchor="end" font-weight="normal" font-style="normal" fill="#000" >HALLMARK_ANGIOGENESIS</text>
<text x="125.9" y="426.0" font-size="5.45" text-anchor="start" font-weight="normal" font-style="normal" fill="#220000" >1.535</text>
<rect x="193.2" y="348.6" width="96.5" height="106.2" fill="#F2F2F2" />
<text x="242.6" y="353.2" font-size="3.6" text-anchor="middle" font-weight="bold" font-style="normal" fill="#000" >Enrichment plot:</text>
<text x="242.8" y="357.8" font-size="3.4" text-anchor="middle" font-weight="bold" font-style="normal" fill="#000" >HALLMARK_INFLAMMATORY_RESPONSE</text>
<rect x="203.9" y="360.3" width="84.2" height="36.5" fill="#fff" stroke="#ccc" stroke-width="0.3"/>
<line x1="203.9" y1="392.0" x2="288.1" y2="392.0" stroke="#eee" stroke-width="0.3" />
<line x1="203.9" y1="387.2" x2="288.1" y2="387.2" stroke="#eee" stroke-width="0.3" />
<line x1="203.9" y1="382.40000000000003" x2="288.1" y2="382.40000000000003" stroke="#eee" stroke-width="0.3" />
<line x1="203.9" y1="377.6" x2="288.1" y2="377.6" stroke="#eee" stroke-width="0.3" />
<line x1="203.9" y1="372.8" x2="288.1" y2="372.8" stroke="#eee" stroke-width="0.3" />
<line x1="203.9" y1="368.0" x2="288.1" y2="368.0" stroke="#eee" stroke-width="0.3" />
<line x1="203.9" y1="363.2" x2="288.1" y2="363.2" stroke="#eee" stroke-width="0.3" />
<polyline points="203.9,396.8 204.5,385.0 206.0,372.7 208.5,367.0 211.0,364.0 213.4,362.3 216.0,361.6 219.2,361.8 224.0,363.3 228.0,365.2 236.0,369.0 248.4,375.7 260.0,382.5 270.3,388.8 275.0,391.8 280.5,394.6 284.0,395.6 288.1,396.8" fill="none" stroke="#2EE82E" stroke-width="0.9"/>
<text x="202.8" y="397.6" font-size="2.4" text-anchor="end" font-weight="normal" font-style="normal" fill="#555" >0.0</text>
<text x="202.8" y="392.8" font-size="2.4" text-anchor="end" font-weight="normal" font-style="normal" fill="#555" >0.1</text>
<text x="202.8" y="388.0" font-size="2.4" text-anchor="end" font-weight="normal" font-style="normal" fill="#555" >0.2</text>
<text x="202.8" y="383.20000000000005" font-size="2.4" text-anchor="end" font-weight="normal" font-style="normal" fill="#555" >0.3</text>
<text x="202.8" y="378.40000000000003" font-size="2.4" text-anchor="end" font-weight="normal" font-style="normal" fill="#555" >0.4</text>
<text x="202.8" y="373.6" font-size="2.4" text-anchor="end" font-weight="normal" font-style="normal" fill="#555" >0.5</text>
<text x="202.8" y="368.8" font-size="2.4" text-anchor="end" font-weight="normal" font-style="normal" fill="#555" >0.6</text>
<text x="202.8" y="364.0" font-size="2.4" text-anchor="end" font-weight="normal" font-style="normal" fill="#555" >0.7</text>
<text x="0" y="0" font-size="2.4" text-anchor="middle" fill="#444" transform="translate(197.3,378.5) rotate(-90)">Enrichment score (ES)</text>
<rect x="203.9" y="398.7" width="84.2" height="12.7" fill="#fff" />
<line x1="204.2" y1="398.7" x2="204.2" y2="411.0" stroke="rgb(59,59,59)" stroke-width="0.39" />
<line x1="204.97" y1="398.7" x2="204.97" y2="411.0" stroke="rgb(72,72,72)" stroke-width="0.38" />
<line x1="205.73" y1="398.7" x2="205.73" y2="411.0" stroke="rgb(20,20,20)" stroke-width="0.4" />
<line x1="206.95" y1="398.7" x2="206.95" y2="411.0" stroke="rgb(39,39,39)" stroke-width="0.66" />
<line x1="207.97" y1="398.7" x2="207.97" y2="411.0" stroke="rgb(0,0,0)" stroke-width="0.37" />
<line x1="208.94" y1="398.7" x2="208.94" y2="411.0" stroke="rgb(94,94,94)" stroke-width="0.42" />
<line x1="209.46" y1="398.7" x2="209.46" y2="411.0" stroke="rgb(46,46,46)" stroke-width="0.64" />
<line x1="210.29" y1="398.7" x2="210.29" y2="411.0" stroke="rgb(18,18,18)" stroke-width="0.62" />
<line x1="210.78" y1="398.7" x2="210.78" y2="411.0" stroke="rgb(54,54,54)" stroke-width="0.56" />
<line x1="211.42" y1="398.7" x2="211.42" y2="411.0" stroke="rgb(91,91,91)" stroke-width="0.58" />
<line x1="212.92" y1="398.7" x2="212.92" y2="411.0" stroke="rgb(4,4,4)" stroke-width="0.79" />
<line x1="213.81" y1="398.7" x2="213.81" y2="411.0" stroke="rgb(24,24,24)" stroke-width="0.84" />
<line x1="214.33" y1="398.7" x2="214.33" y2="411.0" stroke="rgb(45,45,45)" stroke-width="0.59" />
<line x1="214.8" y1="398.7" x2="214.8" y2="411.0" stroke="rgb(25,25,25)" stroke-width="0.73" />
<line x1="216.23" y1="398.7" x2="216.23" y2="411.0" stroke="rgb(9,9,9)" stroke-width="0.58" />
<line x1="217.92" y1="398.7" x2="217.92" y2="411.0" stroke="rgb(24,24,24)" stroke-width="0.38" />
<line x1="218.79" y1="398.7" x2="218.79" y2="411.0" stroke="rgb(116,116,116)" stroke-width="0.49" />
<line x1="219.47" y1="398.7" x2="219.47" y2="411.0" stroke="rgb(49,49,49)" stroke-width="0.36" />
<line x1="220.2" y1="398.7" x2="220.2" y2="411.0" stroke="rgb(62,62,62)" stroke-width="0.73" />
<line x1="220.73" y1="398.7" x2="220.73" y2="411.0" stroke="rgb(62,62,62)" stroke-width="0.55" />
<line x1="221.7" y1="398.7" x2="221.7" y2="411.0" stroke="rgb(13,13,13)" stroke-width="0.79" />
<line x1="223.26" y1="398.7" x2="223.26" y2="411.0" stroke="rgb(71,71,71)" stroke-width="0.53" />
<line x1="224.78" y1="398.7" x2="224.78" y2="411.0" stroke="rgb(62,62,62)" stroke-width="0.59" />
<line x1="225.58" y1="398.7" x2="225.58" y2="411.0" stroke="rgb(86,86,86)" stroke-width="0.35" />
<line x1="226.29" y1="398.7" x2="226.29" y2="411.0" stroke="rgb(0,0,0)" stroke-width="0.7" />
<line x1="227.04" y1="398.7" x2="227.04" y2="411.0" stroke="rgb(27,27,27)" stroke-width="0.69" />
<line x1="229.37" y1="398.7" x2="229.37" y2="411.0" stroke="rgb(53,53,53)" stroke-width="0.67" />
<line x1="229.86" y1="398.7" x2="229.86" y2="411.0" stroke="rgb(76,76,76)" stroke-width="0.45" />
<line x1="230.41" y1="398.7" x2="230.41" y2="411.0" stroke="rgb(68,68,68)" stroke-width="0.43" />
<line x1="230.92" y1="398.7" x2="230.92" y2="411.0" stroke="rgb(68,68,68)" stroke-width="0.36" />
<line x1="231.89" y1="398.7" x2="231.89" y2="411.0" stroke="rgb(85,85,85)" stroke-width="0.52" />
<line x1="232.56" y1="398.7" x2="232.56" y2="411.0" stroke="rgb(92,92,92)" stroke-width="0.77" />
<line x1="233.61" y1="398.7" x2="233.61" y2="411.0" stroke="rgb(57,57,57)" stroke-width="0.4" />
<line x1="234.26" y1="398.7" x2="234.26" y2="411.0" stroke="rgb(74,74,74)" stroke-width="0.76" />
<line x1="234.81" y1="398.7" x2="234.81" y2="411.0" stroke="rgb(114,114,114)" stroke-width="0.42" />
<line x1="235.59" y1="398.7" x2="235.59" y2="411.0" stroke="rgb(62,62,62)" stroke-width="0.61" />
<line x1="237.49" y1="398.7" x2="237.49" y2="411.0" stroke="rgb(63,63,63)" stroke-width="0.74" />
<line x1="238.91" y1="398.7" x2="238.91" y2="411.0" stroke="rgb(95,95,95)" stroke-width="0.76" />
<line x1="241.78" y1="398.7" x2="241.78" y2="411.0" stroke="rgb(51,51,51)" stroke-width="0.36" />
<line x1="242.24" y1="398.7" x2="242.24" y2="411.0" stroke="rgb(81,81,81)" stroke-width="0.48" />
<line x1="245.54" y1="398.7" x2="245.54" y2="411.0" stroke="rgb(92,92,92)" stroke-width="0.45" />
<line x1="247.32" y1="398.7" x2="247.32" y2="411.0" stroke="rgb(114,114,114)" stroke-width="0.68" />
<line x1="248.25" y1="398.7" x2="248.25" y2="411.0" stroke="rgb(52,52,52)" stroke-width="0.74" />
<line x1="249.15" y1="398.7" x2="249.15" y2="411.0" stroke="rgb(29,29,29)" stroke-width="0.44" />
<line x1="250.07" y1="398.7" x2="250.07" y2="411.0" stroke="rgb(125,125,125)" stroke-width="0.55" />
<line x1="251.65" y1="398.7" x2="251.65" y2="411.0" stroke="rgb(9,9,9)" stroke-width="0.41" />
<line x1="253.12" y1="398.7" x2="253.12" y2="411.0" stroke="rgb(145,145,145)" stroke-width="0.68" />
<line x1="253.78" y1="398.7" x2="253.78" y2="411.0" stroke="rgb(14,14,14)" stroke-width="0.42" />
<line x1="255.08" y1="398.7" x2="255.08" y2="411.0" stroke="rgb(137,137,137)" stroke-width="0.79" />
<line x1="256.03" y1="398.7" x2="256.03" y2="411.0" stroke="rgb(89,89,89)" stroke-width="0.48" />
<line x1="256.65" y1="398.7" x2="256.65" y2="411.0" stroke="rgb(81,81,81)" stroke-width="0.56" />
<line x1="257.84" y1="398.7" x2="257.84" y2="411.0" stroke="rgb(92,92,92)" stroke-width="0.64" />
<line x1="258.84" y1="398.7" x2="258.84" y2="411.0" stroke="rgb(144,144,144)" stroke-width="0.62" />
<line x1="259.6" y1="398.7" x2="259.6" y2="411.0" stroke="rgb(89,89,89)" stroke-width="0.57" />
<line x1="260.16" y1="398.7" x2="260.16" y2="411.0" stroke="rgb(116,116,116)" stroke-width="0.59" />
<line x1="261.04" y1="398.7" x2="261.04" y2="411.0" stroke="rgb(90,90,90)" stroke-width="0.51" />
<line x1="261.81" y1="398.7" x2="261.81" y2="411.0" stroke="rgb(116,116,116)" stroke-width="0.63" />
<line x1="262.4" y1="398.7" x2="262.4" y2="411.0" stroke="rgb(97,97,97)" stroke-width="0.74" />
<line x1="263.16" y1="398.7" x2="263.16" y2="411.0" stroke="rgb(119,119,119)" stroke-width="0.57" />
<line x1="263.98" y1="398.7" x2="263.98" y2="411.0" stroke="rgb(38,38,38)" stroke-width="0.61" />
<line x1="264.84" y1="398.7" x2="264.84" y2="411.0" stroke="rgb(77,77,77)" stroke-width="0.82" />
<line x1="266.73" y1="398.7" x2="266.73" y2="411.0" stroke="rgb(111,111,111)" stroke-width="0.63" />
<line x1="268.28" y1="398.7" x2="268.28" y2="411.0" stroke="rgb(109,109,109)" stroke-width="0.47" />
<line x1="271.08" y1="398.7" x2="271.08" y2="411.0" stroke="rgb(130,130,130)" stroke-width="0.79" />
<line x1="272.11" y1="398.7" x2="272.11" y2="411.0" stroke="rgb(161,161,161)" stroke-width="0.59" />
<line x1="273.7" y1="398.7" x2="273.7" y2="411.0" stroke="rgb(119,119,119)" stroke-width="0.61" />
<line x1="274.35" y1="398.7" x2="274.35" y2="411.0" stroke="rgb(107,107,107)" stroke-width="0.36" />
<line x1="275.14" y1="398.7" x2="275.14" y2="411.0" stroke="rgb(182,182,182)" stroke-width="0.36" />
<line x1="276.54" y1="398.7" x2="276.54" y2="411.0" stroke="rgb(195,195,195)" stroke-width="0.84" />
<line x1="277.05" y1="398.7" x2="277.05" y2="411.0" stroke="rgb(128,128,128)" stroke-width="0.37" />
<line x1="277.97" y1="398.7" x2="277.97" y2="411.0" stroke="rgb(160,160,160)" stroke-width="0.81" />
<line x1="278.91" y1="398.7" x2="278.91" y2="411.0" stroke="rgb(163,163,163)" stroke-width="0.42" />
<line x1="280.79" y1="398.7" x2="280.79" y2="411.0" stroke="rgb(189,189,189)" stroke-width="0.56" />
<line x1="283.82" y1="398.7" x2="283.82" y2="411.0" stroke="rgb(162,162,162)" stroke-width="0.63" />
<line x1="284.83" y1="398.7" x2="284.83" y2="411.0" stroke="rgb(174,174,174)" stroke-width="0.47" />
<line x1="285.34" y1="398.7" x2="285.34" y2="411.0" stroke="rgb(177,177,177)" stroke-width="0.38" />
<line x1="285.91" y1="398.7" x2="285.91" y2="411.0" stroke="rgb(127,127,127)" stroke-width="0.49" />
<line x1="286.66" y1="398.7" x2="286.66" y2="411.0" stroke="rgb(200,200,200)" stroke-width="0.52" />
<line x1="287.13" y1="398.7" x2="287.13" y2="411.0" stroke="rgb(200,200,200)" stroke-width="0.63" />
<line x1="287.69" y1="398.7" x2="287.69" y2="411.0" stroke="rgb(155,155,155)" stroke-width="0.82" />
<defs><linearGradient id="gsbar" x1="0" x2="1" y1="0" y2="0"><stop offset="0" stop-color="#E0202A"/><stop offset="0.4" stop-color="#F36A75"/><stop offset="0.45" stop-color="#F3B0D8"/><stop offset="0.7" stop-color="#EDB8E0"/><stop offset="0.75" stop-color="#B8B8F0"/><stop offset="0.95" stop-color="#4040E8"/><stop offset="1" stop-color="#0000D0"/></linearGradient></defs>
<rect x="203.9" y="411.3" width="84.2" height="3.0" fill="url(#gsbar)" />
<text x="205" y="416.6" font-size="1.9" text-anchor="start" font-weight="normal" font-style="normal" fill="#E03030" >'HAM' (positively correlated)</text>
<rect x="203.9" y="414.8" width="84.2" height="26.6" fill="#fff" stroke="#ccc" stroke-width="0.3"/>
<text x="202.8" y="438.8" font-size="2.2" text-anchor="end" font-weight="normal" font-style="normal" fill="#555" >0</text>
<text x="202.8" y="433.2" font-size="2.2" text-anchor="end" font-weight="normal" font-style="normal" fill="#555" >20</text>
<text x="202.8" y="427.6" font-size="2.2" text-anchor="end" font-weight="normal" font-style="normal" fill="#555" >40</text>
<text x="202.8" y="422.0" font-size="2.2" text-anchor="end" font-weight="normal" font-style="normal" fill="#555" >60</text>
<polyline points="204,437 210,438.2 220,439 240,439.5 288,439.8" fill="none" stroke="#999" stroke-width="0.5"/>
<text x="262" y="438.2" font-size="2.0" text-anchor="middle" font-weight="normal" font-style="normal" fill="#4040C0" >Zero score at 9345</text>
<text x="263" y="427.8" font-size="2.0" text-anchor="middle" font-weight="normal" font-style="normal" fill="#333" >Zero cross at 9345</text>
<text x="0" y="0" font-size="2.2" text-anchor="middle" fill="#444" transform="translate(197.3,428) rotate(-90)">Ranked list metric (Diff_of_Classes)</text>
<text x="204.0" y="444.0" font-size="2.0" text-anchor="middle" font-weight="normal" font-style="normal" fill="#555" >0</text>
<text x="217.2" y="444.0" font-size="2.0" text-anchor="middle" font-weight="normal" font-style="normal" fill="#555" >2,500</text>
<text x="230.4" y="444.0" font-size="2.0" text-anchor="middle" font-weight="normal" font-style="normal" fill="#555" >5,000</text>
<text x="243.6" y="444.0" font-size="2.0" text-anchor="middle" font-weight="normal" font-style="normal" fill="#555" >7,500</text>
<text x="256.8" y="444.0" font-size="2.0" text-anchor="middle" font-weight="normal" font-style="normal" fill="#555" >10,000</text>
<text x="270.0" y="444.0" font-size="2.0" text-anchor="middle" font-weight="normal" font-style="normal" fill="#555" >12,500</text>
<text x="283.2" y="444.0" font-size="2.0" text-anchor="middle" font-weight="normal" font-style="normal" fill="#555" >15,000</text>
<text x="246" y="447.3" font-size="2.3" text-anchor="middle" font-weight="normal" font-style="normal" fill="#333" >Rank in Ordered Dataset</text>
<rect x="208.2" y="449.8" width="69.4" height="4.4" fill="#fff" stroke="#666" stroke-width="0.4"/>
<line x1="209.5" y1="452" x2="213.5" y2="452" stroke="#2EE82E" stroke-width="0.8" />
<text x="214.5" y="452.8" font-size="1.9" text-anchor="start" font-weight="normal" font-style="normal" fill="#444" >Enrichment profile</text>
<text x="236" y="452.8" font-size="1.9" text-anchor="start" font-weight="normal" font-style="normal" fill="#444" >Hits</text>
<text x="252" y="452.8" font-size="1.9" text-anchor="start" font-weight="normal" font-style="normal" fill="#444" >Ranking metric scores</text>
<text x="393.9" y="358.9" font-size="6.37" text-anchor="middle" font-weight="normal" font-style="normal" fill="#222" >Z-score</text>
<text x="380.6" y="371.0" font-size="6.44" text-anchor="middle" font-weight="normal" font-style="normal" fill="#222" >− 0.2</text>
<text x="405.6" y="371.0" font-size="6.44" text-anchor="middle" font-weight="normal" font-style="normal" fill="#222" >+ 0.2</text>
<defs><linearGradient id="zbar" x1="0" x2="1"><stop offset="0" stop-color="#5A8AD0"/><stop offset="0.5" stop-color="#000"/><stop offset="1" stop-color="#F26A6E"/></linearGradient></defs>
<rect x="385.2" y="374.2" width="18.8" height="2.9" fill="url(#zbar)" />
<polyline points="342.1,399.9 342.1,383.0 376.6,383.0 376.6,395.6" fill="none" stroke="#444" stroke-width="0.5"/>
<polyline points="337.3,406.3 337.3,399.9 347.3,399.9 347.3,406.3" fill="none" stroke="#444" stroke-width="0.5"/>
<polyline points="363.3,404.5 363.3,395.6 390.3,395.6 390.3,401.2" fill="none" stroke="#444" stroke-width="0.5"/>
<polyline points="356.6,406.3 356.6,404.3 374.2,404.3 374.2,406.3" fill="none" stroke="#999" stroke-width="0.5"/>
<polyline points="383.6,406.3 383.6,401.2 397.5,401.2 397.5,403.5" fill="none" stroke="#444" stroke-width="0.5"/>
<polyline points="393.5,406.3 393.5,403.5 403.5,403.5 403.5,406.3" fill="none" stroke="#999" stroke-width="0.5"/>
<polyline points="327.3,429.3 318.0,429.3 318.0,494.3 327.3,494.3" fill="none" stroke="#444" stroke-width="0.5"/>
<polyline points="329.5,413.0 327.3,413.0 327.3,442.4 329.5,442.4" fill="none" stroke="#888" stroke-width="0.4"/>
<polyline points="329.5,450.0 327.5,450.0 327.5,508.0 329.5,508.0" fill="none" stroke="#999" stroke-width="0.4"/>
<rect x="331.0" y="407.8" width="10.2" height="2.25" fill="#D05050" />
<rect x="331.0" y="410" width="10.2" height="1.85" fill="#E06060" />
<rect x="331.0" y="411.8" width="10.2" height="1.25" fill="#3A1414" />
<rect x="331.0" y="413" width="10.2" height="1.25" fill="#C84C50" />
<rect x="331.0" y="414.2" width="10.2" height="1.25" fill="#201018" />
<rect x="331.0" y="415.4" width="10.2" height="1.25" fill="#203050" />
<rect x="331.0" y="416.6" width="10.2" height="1.85" fill="#1E2E48" />
<rect x="331.0" y="418.4" width="10.2" height="3.05" fill="#4A74B0" />
<rect x="331.0" y="421.4" width="10.2" height="1.25" fill="#1E2E48" />
<rect x="331.0" y="422.6" width="10.2" height="1.25" fill="#5A88C8" />
<rect x="331.0" y="423.8" width="10.2" height="1.75" fill="#14181E" />
<rect x="331.0" y="425.5" width="10.2" height="2.55" fill="#203050" />
<rect x="331.0" y="428" width="10.2" height="1.75" fill="#1E2E48" />
<rect x="331.0" y="429.7" width="10.2" height="2.45" fill="#4A74B0" />
<rect x="331.0" y="432.1" width="10.2" height="3.05" fill="#101820" />
<rect x="331.0" y="435.1" width="10.2" height="1.85" fill="#6A2828" />
<rect x="331.0" y="436.9" width="10.2" height="1.85" fill="#C84C50" />
<rect x="331.0" y="438.7" width="10.2" height="0.55" fill="#6A4A5A" />
<rect x="331.0" y="439.2" width="10.2" height="2.45" fill="#3A1414" />
<rect x="331.0" y="441.6" width="10.2" height="1.85" fill="#14181E" />
<rect x="331.0" y="443.4" width="10.2" height="1.85" fill="#3A1414" />
<rect x="331.0" y="445.2" width="10.2" height="2.45" fill="#4A74B0" />
<rect x="331.0" y="447.6" width="10.2" height="1.85" fill="#14181E" />
<rect x="331.0" y="449.4" width="10.2" height="1.85" fill="#8A3434" />
<rect x="331.0" y="451.2" width="10.2" height="1.25" fill="#3A1414" />
<rect x="331.0" y="452.4" width="10.2" height="1.85" fill="#E06060" />
<rect x="331.0" y="454.2" width="10.2" height="3.05" fill="#101820" />
<rect x="331.0" y="457.2" width="10.2" height="2.35" fill="#1E2E48" />
<rect x="331.0" y="459.5" width="10.2" height="2.45" fill="#3A1414" />
<rect x="331.0" y="461.9" width="10.2" height="1.85" fill="#0A0A0C" />
<rect x="331.0" y="463.7" width="10.2" height="3.05" fill="#4A1818" />
<rect x="331.0" y="466.7" width="10.2" height="1.85" fill="#8A3434" />
<rect x="331.0" y="468.5" width="10.2" height="1.85" fill="#1E2E48" />
<rect x="331.0" y="470.3" width="10.2" height="2.45" fill="#14181E" />
<rect x="331.0" y="472.7" width="10.2" height="2.55" fill="#4A74B0" />
<rect x="331.0" y="475.2" width="10.2" height="3.65" fill="#7A2C2C" />
<rect x="331.0" y="478.8" width="10.2" height="4.85" fill="#C85050" />
<rect x="331.0" y="483.6" width="10.2" height="2.45" fill="#3A1414" />
<rect x="331.0" y="486" width="10.2" height="3.65" fill="#6A2828" />
<rect x="331.0" y="489.6" width="10.2" height="2.45" fill="#4A1818" />
<rect x="331.0" y="492" width="10.2" height="2.35" fill="#141C28" />
<rect x="331.0" y="494.3" width="10.2" height="3.65" fill="#180C0C" />
<rect x="331.0" y="497.9" width="10.2" height="1.85" fill="#1E2E48" />
<rect x="331.0" y="499.7" width="10.2" height="5.45" fill="#0A0A0C" />
<rect x="331.0" y="505.1" width="10.2" height="1.85" fill="#1E2E48" />
<rect x="331.0" y="506.9" width="10.2" height="1.85" fill="#3A1414" />
<rect x="331.0" y="508.7" width="10.2" height="3.65" fill="#A04040" />
<rect x="341.8" y="407.8" width="8.7" height="1.65" fill="#1A1418" />
<rect x="341.8" y="409.4" width="8.7" height="1.85" fill="#401818" />
<rect x="341.8" y="411.2" width="8.7" height="2.45" fill="#6A2828" />
<rect x="341.8" y="413.6" width="8.7" height="2.45" fill="#401818" />
<rect x="341.8" y="416" width="8.7" height="2.45" fill="#101828" />
<rect x="341.8" y="418.4" width="8.7" height="3.05" fill="#8A3434" />
<rect x="341.8" y="421.4" width="8.7" height="6.65" fill="#F26A6E" />
<rect x="341.8" y="428" width="8.7" height="1.75" fill="#D05858" />
<rect x="341.8" y="429.7" width="8.7" height="1.85" fill="#F26A6E" />
<rect x="341.8" y="431.5" width="8.7" height="3.65" fill="#C05050" />
<rect x="341.8" y="435.1" width="8.7" height="6.55" fill="#F26A6E" />
<rect x="341.8" y="441.6" width="8.7" height="1.85" fill="#D05050" />
<rect x="341.8" y="443.4" width="8.7" height="1.85" fill="#F26A6E" />
<rect x="341.8" y="445.2" width="8.7" height="1.85" fill="#E06060" />
<rect x="341.8" y="447" width="8.7" height="2.45" fill="#F26A6E" />
<rect x="341.8" y="449.4" width="8.7" height="1.85" fill="#D05858" />
<rect x="341.8" y="451.2" width="8.7" height="1.25" fill="#C04848" />
<rect x="341.8" y="452.4" width="8.7" height="4.85" fill="#5A88C8" />
<rect x="341.8" y="457.2" width="8.7" height="1.15" fill="#4E7CBC" />
<rect x="341.8" y="458.3" width="8.7" height="9.05" fill="#5A88C8" />
<rect x="341.8" y="467.3" width="8.7" height="2.45" fill="#142030" />
<rect x="341.8" y="469.7" width="8.7" height="5.55" fill="#4A78B8" />
<rect x="341.8" y="475.2" width="8.7" height="8.45" fill="#5A88C8" />
<rect x="341.8" y="483.6" width="8.7" height="2.45" fill="#3A5888" />
<rect x="341.8" y="486" width="8.7" height="8.35" fill="#5A88C8" />
<rect x="341.8" y="494.3" width="8.7" height="2.45" fill="#3A5888" />
<rect x="341.8" y="496.7" width="8.7" height="8.45" fill="#5A88C8" />
<rect x="341.8" y="505.1" width="8.7" height="2.45" fill="#142030" />
<rect x="341.8" y="507.5" width="8.7" height="4.85" fill="#2A4468" />
<rect x="351.0" y="407.8" width="9.1" height="1.65" fill="#3A1818" />
<rect x="351.0" y="409.4" width="9.1" height="1.85" fill="#14181E" />
<rect x="351.0" y="411.2" width="9.1" height="4.85" fill="#4A74B0" />
<rect x="351.0" y="416" width="9.1" height="2.45" fill="#2A4468" />
<rect x="351.0" y="418.4" width="9.1" height="3.65" fill="#3A6094" />
<rect x="351.0" y="422" width="9.1" height="1.85" fill="#2A4468" />
<rect x="351.0" y="423.8" width="9.1" height="2.35" fill="#14181E" />
<rect x="351.0" y="426.1" width="9.1" height="1.95" fill="#4A74B0" />
<rect x="351.0" y="428" width="9.1" height="3.55" fill="#141C28" />
<rect x="351.0" y="431.5" width="9.1" height="2.45" fill="#101418" />
<rect x="351.0" y="433.9" width="9.1" height="1.25" fill="#203050" />
<rect x="351.0" y="435.1" width="9.1" height="3.65" fill="#101418" />
<rect x="351.0" y="438.7" width="9.1" height="1.15" fill="#1E2E48" />
<rect x="351.0" y="439.8" width="9.1" height="4.25" fill="#180C0C" />
<rect x="351.0" y="444" width="9.1" height="3.05" fill="#7A2C2C" />
<rect x="351.0" y="447" width="9.1" height="1.85" fill="#3A1414" />
<rect x="351.0" y="448.8" width="9.1" height="2.45" fill="#A04040" />
<rect x="351.0" y="451.2" width="9.1" height="3.05" fill="#14181E" />
<rect x="351.0" y="454.2" width="9.1" height="2.45" fill="#141C28" />
<rect x="351.0" y="456.6" width="9.1" height="2.95" fill="#3A1414" />
<rect x="351.0" y="459.5" width="9.1" height="2.45" fill="#8A3434" />
<rect x="351.0" y="461.9" width="9.1" height="2.45" fill="#A04040" />
<rect x="351.0" y="464.3" width="9.1" height="3.05" fill="#4A1818" />
<rect x="351.0" y="467.3" width="9.1" height="2.15" fill="#3A6094" />
<rect x="351.0" y="469.4" width="9.1" height="3.35" fill="#3A1414" />
<rect x="351.0" y="472.7" width="9.1" height="2.55" fill="#8A3434" />
<rect x="351.0" y="475.2" width="9.1" height="6.05" fill="#C04848" />
<rect x="351.0" y="481.2" width="9.1" height="3.65" fill="#8A3434" />
<rect x="351.0" y="484.8" width="9.1" height="3.65" fill="#B04848" />
<rect x="351.0" y="488.4" width="9.1" height="3.65" fill="#8A3434" />
<rect x="351.0" y="492" width="9.1" height="4.75" fill="#D05858" />
<rect x="351.0" y="496.7" width="9.1" height="4.85" fill="#C04848" />
<rect x="351.0" y="501.5" width="9.1" height="4.85" fill="#8A3434" />
<rect x="351.0" y="506.3" width="9.1" height="6.05" fill="#B04848" />
<rect x="360.6" y="407.8" width="8.7" height="3.45" fill="#1E2E48" />
<rect x="360.6" y="411.2" width="8.7" height="3.65" fill="#2A4468" />
<rect x="360.6" y="414.8" width="8.7" height="3.65" fill="#1E2E48" />
<rect x="360.6" y="418.4" width="8.7" height="3.65" fill="#3A6094" />
<rect x="360.6" y="422" width="8.7" height="2.95" fill="#1E2E48" />
<rect x="360.6" y="424.9" width="8.7" height="1.65" fill="#141C28" />
<rect x="360.6" y="426.5" width="8.7" height="1.05" fill="#2A4468" />
<rect x="360.6" y="427.5" width="8.7" height="2.05" fill="#141C28" />
<rect x="360.6" y="429.5" width="8.7" height="1.05" fill="#2A4468" />
<rect x="360.6" y="430.5" width="8.7" height="8.25" fill="#141C28" />
<rect x="360.6" y="438.7" width="8.7" height="1.15" fill="#2A4468" />
<rect x="360.6" y="439.8" width="8.7" height="1.85" fill="#3A6094" />
<rect x="360.6" y="441.6" width="8.7" height="1.85" fill="#1E2E48" />
<rect x="360.6" y="443.4" width="8.7" height="1.85" fill="#2A4468" />
<rect x="360.6" y="445.2" width="8.7" height="3.65" fill="#3A1414" />
<rect x="360.6" y="448.8" width="8.7" height="2.45" fill="#6A2828" />
<rect x="360.6" y="451.2" width="8.7" height="4.85" fill="#180C0C" />
<rect x="360.6" y="456" width="8.7" height="5.95" fill="#3A1414" />
<rect x="360.6" y="461.9" width="8.7" height="5.45" fill="#5A2020" />
<rect x="360.6" y="467.3" width="8.7" height="2.15" fill="#2A4468" />
<rect x="360.6" y="469.4" width="8.7" height="5.85" fill="#3A1414" />
<rect x="360.6" y="475.2" width="8.7" height="6.05" fill="#8A3434" />
<rect x="360.6" y="481.2" width="8.7" height="4.85" fill="#6A2828" />
<rect x="360.6" y="486" width="8.7" height="3.65" fill="#4A1818" />
<rect x="360.6" y="489.6" width="8.7" height="4.75" fill="#7A2C2C" />
<rect x="360.6" y="494.3" width="8.7" height="7.25" fill="#8A3434" />
<rect x="360.6" y="501.5" width="8.7" height="4.85" fill="#6A2828" />
<rect x="360.6" y="506.3" width="8.7" height="6.05" fill="#A04040" />
<rect x="369.9" y="407.8" width="9.0" height="2.25" fill="#101418" />
<rect x="369.9" y="410" width="9.0" height="2.45" fill="#1E2E48" />
<rect x="369.9" y="412.4" width="9.0" height="3.65" fill="#2A4468" />
<rect x="369.9" y="416" width="9.0" height="6.05" fill="#1E2E48" />
<rect x="369.9" y="422" width="9.0" height="4.05" fill="#101418" />
<rect x="369.9" y="426" width="9.0" height="2.05" fill="#1E2E48" />
<rect x="369.9" y="428" width="9.0" height="10.05" fill="#101418" />
<rect x="369.9" y="438" width="9.0" height="3.65" fill="#1E2E48" />
<rect x="369.9" y="441.6" width="9.0" height="3.65" fill="#141C28" />
<rect x="369.9" y="445.2" width="9.0" height="6.05" fill="#2A1010" />
<rect x="369.9" y="451.2" width="9.0" height="6.05" fill="#180C0C" />
<rect x="369.9" y="457.2" width="9.0" height="9.55" fill="#3A1414" />
<rect x="369.9" y="466.7" width="9.0" height="2.75" fill="#1E2E48" />
<rect x="369.9" y="469.4" width="9.0" height="5.85" fill="#0A0A0C" />
<rect x="369.9" y="475.2" width="9.0" height="6.05" fill="#6A2828" />
<rect x="369.9" y="481.2" width="9.0" height="9.65" fill="#4A1818" />
<rect x="369.9" y="490.8" width="9.0" height="10.75" fill="#5A2020" />
<rect x="369.9" y="501.5" width="9.0" height="4.85" fill="#3A1414" />
<rect x="369.9" y="506.3" width="9.0" height="6.05" fill="#8A3434" />
<rect x="379.7" y="407.8" width="8.7" height="1.05" fill="#C04848" />
<rect x="379.7" y="408.8" width="8.7" height="1.85" fill="#D05050" />
<rect x="379.7" y="410.6" width="8.7" height="1.25" fill="#14181E" />
<rect x="379.7" y="411.8" width="8.7" height="1.85" fill="#C04848" />
<rect x="379.7" y="413.6" width="8.7" height="1.85" fill="#3A1414" />
<rect x="379.7" y="415.4" width="8.7" height="1.85" fill="#8A3434" />
<rect x="379.7" y="417.2" width="8.7" height="4.85" fill="#1E2E48" />
<rect x="379.7" y="422" width="8.7" height="2.35" fill="#3A6094" />
<rect x="379.7" y="424.3" width="8.7" height="3.75" fill="#1E2E48" />
<rect x="379.7" y="428" width="8.7" height="3.55" fill="#14181E" />
<rect x="379.7" y="431.5" width="8.7" height="3.65" fill="#2A4468" />
<rect x="379.7" y="435.1" width="8.7" height="2.95" fill="#141C28" />
<rect x="379.7" y="438" width="8.7" height="3.65" fill="#2A4468" />
<rect x="379.7" y="441.6" width="8.7" height="2.45" fill="#14181E" />
<rect x="379.7" y="444" width="8.7" height="2.45" fill="#3A1414" />
<rect x="379.7" y="446.4" width="8.7" height="1.85" fill="#1E2E48" />
<rect x="379.7" y="448.2" width="8.7" height="3.05" fill="#3A6094" />
<rect x="379.7" y="451.2" width="8.7" height="3.05" fill="#3A1414" />
<rect x="379.7" y="454.2" width="8.7" height="3.05" fill="#7A2C2C" />
<rect x="379.7" y="457.2" width="8.7" height="4.75" fill="#B04848" />
<rect x="379.7" y="461.9" width="8.7" height="5.45" fill="#C85050" />
<rect x="379.7" y="467.3" width="8.7" height="2.15" fill="#3A1414" />
<rect x="379.7" y="469.4" width="8.7" height="3.35" fill="#1E2E48" />
<rect x="379.7" y="472.7" width="8.7" height="3.75" fill="#7A2C2C" />
<rect x="379.7" y="476.4" width="8.7" height="3.65" fill="#B04848" />
<rect x="379.7" y="480" width="8.7" height="3.65" fill="#D85A5A" />
<rect x="379.7" y="483.6" width="8.7" height="3.65" fill="#B04848" />
<rect x="379.7" y="487.2" width="8.7" height="4.85" fill="#7A2C2C" />
<rect x="379.7" y="492" width="8.7" height="2.35" fill="#14181E" />
<rect x="379.7" y="494.3" width="8.7" height="4.85" fill="#6A2828" />
<rect x="379.7" y="499.1" width="8.7" height="3.65" fill="#A04040" />
<rect x="379.7" y="502.7" width="8.7" height="3.65" fill="#3A1414" />
<rect x="379.7" y="506.3" width="8.7" height="2.45" fill="#7A2C2C" />
<rect x="379.7" y="508.7" width="8.7" height="3.65" fill="#2A3A58" />
<rect x="389.0" y="407.8" width="9.0" height="1.65" fill="#1A1010" />
<rect x="389.0" y="409.4" width="9.0" height="1.85" fill="#3A1414" />
<rect x="389.0" y="411.2" width="9.0" height="3.05" fill="#6A2828" />
<rect x="389.0" y="414.2" width="9.0" height="1.85" fill="#3A1414" />
<rect x="389.0" y="416" width="9.0" height="3.65" fill="#5A2020" />
<rect x="389.0" y="419.6" width="9.0" height="2.45" fill="#3A1414" />
<rect x="389.0" y="422" width="9.0" height="1.85" fill="#4A74B0" />
<rect x="389.0" y="423.8" width="9.0" height="7.75" fill="#1E2E48" />
<rect x="389.0" y="431.5" width="9.0" height="4.25" fill="#4A74B0" />
<rect x="389.0" y="435.7" width="9.0" height="2.35" fill="#2A4468" />
<rect x="389.0" y="438" width="9.0" height="3.05" fill="#4A74B0" />
<rect x="389.0" y="441" width="9.0" height="2.45" fill="#2A4468" />
<rect x="389.0" y="443.4" width="9.0" height="3.05" fill="#1E2E48" />
<rect x="389.0" y="446.4" width="9.0" height="4.85" fill="#3A6094" />
<rect x="389.0" y="451.2" width="9.0" height="2.45" fill="#3A1414" />
<rect x="389.0" y="453.6" width="9.0" height="3.65" fill="#7A2C2C" />
<rect x="389.0" y="457.2" width="9.0" height="4.75" fill="#6A2828" />
<rect x="389.0" y="461.9" width="9.0" height="4.85" fill="#8A3434" />
<rect x="389.0" y="466.7" width="9.0" height="2.25" fill="#F06060" />
<rect x="389.0" y="468.9" width="9.0" height="3.85" fill="#6A2828" />
<rect x="389.0" y="472.7" width="9.0" height="2.55" fill="#7A2C2C" />
<rect x="389.0" y="475.2" width="9.0" height="4.85" fill="#101418" />
<rect x="389.0" y="480" width="9.0" height="6.05" fill="#1E0A0A" />
<rect x="389.0" y="486" width="9.0" height="2.45" fill="#2E1010" />
<rect x="389.0" y="488.4" width="9.0" height="8.35" fill="#1E0A0A" />
<rect x="389.0" y="496.7" width="9.0" height="2.45" fill="#2E1010" />
<rect x="389.0" y="499.1" width="9.0" height="9.65" fill="#1E0A0A" />
<rect x="389.0" y="508.7" width="9.0" height="3.65" fill="#2A3A58" />
<rect x="398.9" y="407.8" width="9.1" height="3.45" fill="#141C28" />
<rect x="398.9" y="411.2" width="9.1" height="3.65" fill="#2A1414" />
<rect x="398.9" y="414.8" width="9.1" height="3.65" fill="#3A1818" />
<rect x="398.9" y="418.4" width="9.1" height="3.65" fill="#2A1414" />
<rect x="398.9" y="422" width="9.1" height="16.05" fill="#0C1018" />
<rect x="398.9" y="438" width="9.1" height="12.05" fill="#101820" />
<rect x="398.9" y="450" width="9.1" height="7.25" fill="#2A1010" />
<rect x="398.9" y="457.2" width="9.1" height="9.55" fill="#0C1018" />
<rect x="398.9" y="466.7" width="9.1" height="3.65" fill="#2A1414" />
<rect x="398.9" y="470.3" width="9.1" height="4.95" fill="#1E0E0E" />
<rect x="398.9" y="475.2" width="9.1" height="33.55" fill="#0C1018" />
<rect x="398.9" y="508.7" width="9.1" height="1.35" fill="#2A1414" />
<rect x="398.9" y="510" width="9.1" height="2.35" fill="#0C1018" />
<rect x="331.0" y="408.3" width="10.2" height="0.7" fill="rgba(120,160,230,0.18)" />
<rect x="331.0" y="423.26" width="10.2" height="0.7" fill="rgba(120,160,230,0.18)" />
<rect x="331.0" y="425.15" width="10.2" height="0.7" fill="rgba(0,0,0,0.25)" />
<rect x="331.0" y="430.59" width="10.2" height="0.7" fill="rgba(120,160,230,0.18)" />
<rect x="331.0" y="441.81" width="10.2" height="0.7" fill="rgba(0,0,0,0.25)" />
<rect x="331.0" y="443.85" width="10.2" height="0.7" fill="rgba(120,160,230,0.18)" />
<rect x="331.0" y="469.98" width="10.2" height="0.7" fill="rgba(0,0,0,0.25)" />
<rect x="331.0" y="478.68" width="10.2" height="0.7" fill="rgba(120,160,230,0.18)" />
<rect x="331.0" y="480.9" width="10.2" height="0.7" fill="rgba(120,160,230,0.18)" />
<rect x="331.0" y="485.76" width="10.2" height="0.7" fill="rgba(0,0,0,0.25)" />
<rect x="331.0" y="491.32" width="10.2" height="0.7" fill="rgba(255,120,120,0.18)" />
<rect x="331.0" y="493.06" width="10.2" height="0.7" fill="rgba(120,160,230,0.18)" />
<rect x="341.8" y="413.19" width="8.7" height="0.7" fill="rgba(255,120,120,0.18)" />
<rect x="341.8" y="431.29" width="8.7" height="0.7" fill="rgba(120,160,230,0.18)" />
<rect x="341.8" y="445.93" width="8.7" height="0.7" fill="rgba(255,120,120,0.18)" />
<rect x="341.8" y="448.2" width="8.7" height="0.7" fill="rgba(120,160,230,0.18)" />
<rect x="341.8" y="455.12" width="8.7" height="0.7" fill="rgba(255,120,120,0.18)" />
<rect x="341.8" y="457.53" width="8.7" height="0.7" fill="rgba(120,160,230,0.18)" />
<rect x="341.8" y="459.51" width="8.7" height="0.7" fill="rgba(0,0,0,0.25)" />
<rect x="341.8" y="499.6" width="8.7" height="0.7" fill="rgba(0,0,0,0.25)" />
<rect x="341.8" y="510.47" width="8.7" height="0.7" fill="rgba(120,160,230,0.18)" />
<rect x="351.0" y="411.15" width="9.1" height="0.7" fill="rgba(120,160,230,0.18)" />
<rect x="351.0" y="414.99" width="9.1" height="0.7" fill="rgba(120,160,230,0.18)" />
<rect x="351.0" y="417.63" width="9.1" height="0.7" fill="rgba(0,0,0,0.25)" />
<rect x="351.0" y="426.53" width="9.1" height="0.7" fill="rgba(255,120,120,0.18)" />
<rect x="351.0" y="430.28" width="9.1" height="0.7" fill="rgba(255,120,120,0.18)" />
<rect x="351.0" y="432.74" width="9.1" height="0.7" fill="rgba(0,0,0,0.25)" />
<rect x="351.0" y="435.21" width="9.1" height="0.7" fill="rgba(0,0,0,0.25)" />
<rect x="351.0" y="439.19" width="9.1" height="0.7" fill="rgba(120,160,230,0.18)" />
<rect x="351.0" y="441.23" width="9.1" height="0.7" fill="rgba(0,0,0,0.25)" />
<rect x="351.0" y="452.1" width="9.1" height="0.7" fill="rgba(255,120,120,0.18)" />
<rect x="351.0" y="465.44" width="9.1" height="0.7" fill="rgba(255,120,120,0.18)" />
<rect x="351.0" y="467.78" width="9.1" height="0.7" fill="rgba(255,120,120,0.18)" />
<rect x="351.0" y="469.42" width="9.1" height="0.7" fill="rgba(0,0,0,0.25)" />
<rect x="351.0" y="487.89" width="9.1" height="0.7" fill="rgba(255,120,120,0.18)" />
<rect x="351.0" y="489.26" width="9.1" height="0.7" fill="rgba(0,0,0,0.25)" />
<rect x="351.0" y="496.66" width="9.1" height="0.7" fill="rgba(0,0,0,0.25)" />
<rect x="351.0" y="504.19" width="9.1" height="0.7" fill="rgba(120,160,230,0.18)" />
<rect x="351.0" y="510.42" width="9.1" height="0.7" fill="rgba(255,120,120,0.18)" />
<rect x="360.6" y="408.3" width="8.7" height="0.7" fill="rgba(0,0,0,0.25)" />
<rect x="360.6" y="409.96" width="8.7" height="0.7" fill="rgba(0,0,0,0.25)" />
<rect x="360.6" y="414.66" width="8.7" height="0.7" fill="rgba(120,160,230,0.18)" />
<rect x="360.6" y="418.48" width="8.7" height="0.7" fill="rgba(120,160,230,0.18)" />
<rect x="360.6" y="429.12" width="8.7" height="0.7" fill="rgba(255,120,120,0.18)" />
<rect x="360.6" y="431.77" width="8.7" height="0.7" fill="rgba(0,0,0,0.25)" />
<rect x="360.6" y="455.21" width="8.7" height="0.7" fill="rgba(255,120,120,0.18)" />
<rect x="360.6" y="479.37" width="8.7" height="0.7" fill="rgba(0,0,0,0.25)" />
<rect x="360.6" y="481.95" width="8.7" height="0.7" fill="rgba(0,0,0,0.25)" />
<rect x="360.6" y="484.41" width="8.7" height="0.7" fill="rgba(120,160,230,0.18)" />
<rect x="360.6" y="489.42" width="8.7" height="0.7" fill="rgba(0,0,0,0.25)" />
<rect x="360.6" y="493.58" width="8.7" height="0.7" fill="rgba(0,0,0,0.25)" />
<rect x="360.6" y="502.25" width="8.7" height="0.7" fill="rgba(120,160,230,0.18)" />
<rect x="360.6" y="507.79" width="8.7" height="0.7" fill="rgba(120,160,230,0.18)" />
<rect x="369.9" y="408.3" width="9.0" height="0.7" fill="rgba(120,160,230,0.18)" />
<rect x="369.9" y="424.04" width="9.0" height="0.7" fill="rgba(255,120,120,0.18)" />
<rect x="369.9" y="426.1" width="9.0" height="0.7" fill="rgba(255,120,120,0.18)" />
<rect x="369.9" y="432.24" width="9.0" height="0.7" fill="rgba(120,160,230,0.18)" />
<rect x="369.9" y="434.22" width="9.0" height="0.7" fill="rgba(120,160,230,0.18)" />
<rect x="369.9" y="443.8" width="9.0" height="0.7" fill="rgba(120,160,230,0.18)" />
<rect x="369.9" y="448.98" width="9.0" height="0.7" fill="rgba(0,0,0,0.25)" />
<rect x="369.9" y="451.59" width="9.0" height="0.7" fill="rgba(120,160,230,0.18)" />
<rect x="369.9" y="460.6" width="9.0" height="0.7" fill="rgba(255,120,120,0.18)" />
<rect x="369.9" y="463.17" width="9.0" height="0.7" fill="rgba(255,120,120,0.18)" />
<rect x="369.9" y="479.21" width="9.0" height="0.7" fill="rgba(0,0,0,0.25)" />
<rect x="369.9" y="480.81" width="9.0" height="0.7" fill="rgba(255,120,120,0.18)" />
<rect x="369.9" y="497.77" width="9.0" height="0.7" fill="rgba(120,160,230,0.18)" />
<rect x="369.9" y="499.42" width="9.0" height="0.7" fill="rgba(120,160,230,0.18)" />
<rect x="369.9" y="501.42" width="9.0" height="0.7" fill="rgba(120,160,230,0.18)" />
<rect x="369.9" y="507.19" width="9.0" height="0.7" fill="rgba(120,160,230,0.18)" />
<rect x="369.9" y="509.83" width="9.0" height="0.7" fill="rgba(0,0,0,0.25)" />
<rect x="379.7" y="408.3" width="8.7" height="0.7" fill="rgba(255,120,120,0.18)" />
<rect x="379.7" y="412.58" width="8.7" height="0.7" fill="rgba(255,120,120,0.18)" />
<rect x="379.7" y="416.7" width="8.7" height="0.7" fill="rgba(120,160,230,0.18)" />
<rect x="379.7" y="419.17" width="8.7" height="0.7" fill="rgba(0,0,0,0.25)" />
<rect x="379.7" y="430.58" width="8.7" height="0.7" fill="rgba(0,0,0,0.25)" />
<rect x="379.7" y="443.7" width="8.7" height="0.7" fill="rgba(255,120,120,0.18)" />
<rect x="379.7" y="449.28" width="8.7" height="0.7" fill="rgba(0,0,0,0.25)" />
<rect x="379.7" y="455.09" width="8.7" height="0.7" fill="rgba(120,160,230,0.18)" />
<rect x="379.7" y="457.0" width="8.7" height="0.7" fill="rgba(0,0,0,0.25)" />
<rect x="379.7" y="460.47" width="8.7" height="0.7" fill="rgba(0,0,0,0.25)" />
<rect x="379.7" y="465.38" width="8.7" height="0.7" fill="rgba(255,120,120,0.18)" />
<rect x="379.7" y="468.35" width="8.7" height="0.7" fill="rgba(255,120,120,0.18)" />
<rect x="379.7" y="482.94" width="8.7" height="0.7" fill="rgba(255,120,120,0.18)" />
<rect x="379.7" y="490.68" width="8.7" height="0.7" fill="rgba(0,0,0,0.25)" />
<rect x="379.7" y="494.03" width="8.7" height="0.7" fill="rgba(120,160,230,0.18)" />
<rect x="379.7" y="496.68" width="8.7" height="0.7" fill="rgba(255,120,120,0.18)" />
<rect x="379.7" y="507.16" width="8.7" height="0.7" fill="rgba(255,120,120,0.18)" />
<rect x="389.0" y="408.3" width="9.0" height="0.7" fill="rgba(120,160,230,0.18)" />
<rect x="389.0" y="428.16" width="9.0" height="0.7" fill="rgba(0,0,0,0.25)" />
<rect x="389.0" y="430.7" width="9.0" height="0.7" fill="rgba(120,160,230,0.18)" />
<rect x="389.0" y="433.01" width="9.0" height="0.7" fill="rgba(0,0,0,0.25)" />
<rect x="389.0" y="443.37" width="9.0" height="0.7" fill="rgba(0,0,0,0.25)" />
<rect x="389.0" y="448.19" width="9.0" height="0.7" fill="rgba(120,160,230,0.18)" />
<rect x="389.0" y="455.55" width="9.0" height="0.7" fill="rgba(0,0,0,0.25)" />
<rect x="389.0" y="463.42" width="9.0" height="0.7" fill="rgba(0,0,0,0.25)" />
<rect x="389.0" y="465.66" width="9.0" height="0.7" fill="rgba(0,0,0,0.25)" />
<rect x="389.0" y="470.99" width="9.0" height="0.7" fill="rgba(255,120,120,0.18)" />
<rect x="389.0" y="481.08" width="9.0" height="0.7" fill="rgba(120,160,230,0.18)" />
<rect x="389.0" y="484.52" width="9.0" height="0.7" fill="rgba(255,120,120,0.18)" />
<rect x="389.0" y="486.91" width="9.0" height="0.7" fill="rgba(255,120,120,0.18)" />
<rect x="389.0" y="497.5" width="9.0" height="0.7" fill="rgba(255,120,120,0.18)" />
<rect x="389.0" y="498.92" width="9.0" height="0.7" fill="rgba(0,0,0,0.25)" />
<rect x="389.0" y="501.35" width="9.0" height="0.7" fill="rgba(0,0,0,0.25)" />
<rect x="398.9" y="416.87" width="9.1" height="0.7" fill="rgba(120,160,230,0.18)" />
<rect x="398.9" y="421.38" width="9.1" height="0.7" fill="rgba(255,120,120,0.18)" />
<rect x="398.9" y="427.47" width="9.1" height="0.7" fill="rgba(255,120,120,0.18)" />
<rect x="398.9" y="434.26" width="9.1" height="0.7" fill="rgba(255,120,120,0.18)" />
<rect x="398.9" y="438.89" width="9.1" height="0.7" fill="rgba(255,120,120,0.18)" />
<rect x="398.9" y="444.4" width="9.1" height="0.7" fill="rgba(255,120,120,0.18)" />
<rect x="398.9" y="450.5" width="9.1" height="0.7" fill="rgba(120,160,230,0.18)" />
<rect x="398.9" y="451.82" width="9.1" height="0.7" fill="rgba(120,160,230,0.18)" />
<rect x="398.9" y="453.34" width="9.1" height="0.7" fill="rgba(0,0,0,0.25)" />
<rect x="398.9" y="463.67" width="9.1" height="0.7" fill="rgba(255,120,120,0.18)" />
<rect x="398.9" y="474.29" width="9.1" height="0.7" fill="rgba(0,0,0,0.25)" />
<rect x="398.9" y="480.87" width="9.1" height="0.7" fill="rgba(255,120,120,0.18)" />
<rect x="398.9" y="485.06" width="9.1" height="0.7" fill="rgba(0,0,0,0.25)" />
<rect x="398.9" y="498.6" width="9.1" height="0.7" fill="rgba(0,0,0,0.25)" />
<rect x="379.4" y="406.3" width="28.9" height="108.4" fill="none" stroke="#1EB4EC" stroke-width="0.9" stroke-dasharray="1.6 0.9"/>
<rect x="330.7" y="425.3" width="77.6" height="5.3" fill="none" stroke="#E8B424" stroke-width="0.9" stroke-dasharray="1.5 1.0"/>
<rect x="330.0" y="508.3" width="78.3" height="3.8" fill="none" stroke="#70B040" stroke-width="0.8" stroke-dasharray="1.6 0.9"/>
<line x1="408.3" y1="424.0" x2="433.0" y2="401.5" stroke="#F0B030" stroke-width="0.6"/>
<line x1="408.3" y1="431.0" x2="432.5" y2="431.0" stroke="#F0B030" stroke-width="0.7" stroke-dasharray="1.3 0.9"/>
<line x1="408.8" y1="507.9" x2="411.7" y2="472.8" stroke="#70B040" stroke-width="0.5" stroke-dasharray="1.3 0.6"/>
<line x1="408.8" y1="514.3" x2="432.1" y2="531.8" stroke="#70B040" stroke-width="0.5"/>
<polyline points="494.6,353.0 494.6,321.4 595.1,321.4 595.1,346.4" fill="none" stroke="#444" stroke-width="0.6"/>
<polyline points="481.8,364.6 481.8,353.0 508.6,353.0 508.6,364.6" fill="none" stroke="#444" stroke-width="0.6"/>
<polyline points="554.8,361.1 554.8,346.4 635.5,346.4 635.5,356.6" fill="none" stroke="#444" stroke-width="0.6"/>
<polyline points="535.8,364.6 535.8,361.1 575.5,361.1" fill="none" stroke="#AAA" stroke-width="0.6"/>
<polyline points="562.4,364.8 562.4,363.1 589.6,363.1 589.6,364.8" fill="none" stroke="#AAA" stroke-width="0.6"/>
<polyline points="616.5,364.8 616.5,356.6 655.4,356.6 655.4,360.1" fill="none" stroke="#444" stroke-width="0.6"/>
<polyline points="643.0,364.8 643.0,360.1 669.5,360.1 669.5,364.8" fill="none" stroke="#444" stroke-width="0.6"/>
<text x="481.8" y="389.7" font-size="6.5" text-anchor="middle" font-weight="normal" font-style="normal" fill="#111" >B cell</text>
<text x="508.8" y="388.0" font-size="6.5" text-anchor="middle" font-weight="normal" font-style="normal" fill="#111" >Mono</text>
<text x="508.8" y="395.4" font-size="6.5" text-anchor="middle" font-weight="normal" font-style="normal" fill="#111" >DC</text>
<text x="535.8" y="389.7" font-size="6.5" text-anchor="middle" font-weight="normal" font-style="normal" fill="#111" >NK</text>
<text x="562.8" y="381.7" font-size="6.5" text-anchor="middle" font-weight="normal" font-style="normal" fill="#111" >Un-</text>
<text x="562.8" y="389.6" font-size="6.5" text-anchor="middle" font-weight="normal" font-style="normal" fill="#111" >infected</text>
<text x="562.8" y="397.0" font-size="6.5" text-anchor="middle" font-weight="normal" font-style="normal" fill="#111" >CD8</text>
<text x="589.8" y="381.7" font-size="6.5" text-anchor="middle" font-weight="normal" font-style="normal" fill="#111" >HTLV-1-</text>
<text x="589.8" y="389.6" font-size="6.5" text-anchor="middle" font-weight="normal" font-style="normal" fill="#111" >infected</text>
<text x="589.8" y="397.0" font-size="6.5" text-anchor="middle" font-weight="normal" font-style="normal" fill="#111" >CD8</text>
<text x="616.5" y="381.7" font-size="6.5" text-anchor="middle" font-weight="normal" font-style="normal" fill="#111" >Un-</text>
<text x="616.5" y="389.6" font-size="6.5" text-anchor="middle" font-weight="normal" font-style="normal" fill="#111" >infected</text>
<text x="616.5" y="397.0" font-size="6.5" text-anchor="middle" font-weight="normal" font-style="normal" fill="#111" >CD4</text>
<text x="643.2" y="374.5" font-size="6.5" text-anchor="middle" font-weight="normal" font-style="normal" fill="#111" >MAP3K8</text>
<text x="643.2" y="381.7" font-size="6.5" text-anchor="middle" font-weight="normal" font-style="normal" fill="#111" >low</text>
<text x="643.2" y="389.6" font-size="6.5" text-anchor="middle" font-weight="normal" font-style="normal" fill="#111" >HTLV-1⁺</text>
<text x="643.2" y="397.0" font-size="6.5" text-anchor="middle" font-weight="normal" font-style="normal" fill="#111" >CD4⁺</text>
<text x="671.6" y="374.5" font-size="6.5" text-anchor="middle" font-weight="normal" font-style="normal" fill="#111" >MAP3K8</text>
<text x="671.6" y="381.7" font-size="6.5" text-anchor="middle" font-weight="normal" font-style="normal" fill="#111" >high</text>
<text x="671.6" y="389.6" font-size="6.5" text-anchor="middle" font-weight="normal" font-style="normal" fill="#111" >HTLV-1⁺</text>
<text x="671.6" y="397.0" font-size="6.5" text-anchor="middle" font-weight="normal" font-style="normal" fill="#111" >CD4⁺</text>
<text x="481.8" y="459.0" font-size="6.5" text-anchor="middle" font-weight="normal" font-style="normal" fill="#111" >B cell</text>
<text x="508.8" y="457.3" font-size="6.5" text-anchor="middle" font-weight="normal" font-style="normal" fill="#111" >Mono</text>
<text x="508.8" y="464.7" font-size="6.5" text-anchor="middle" font-weight="normal" font-style="normal" fill="#111" >DC</text>
<text x="535.8" y="459.0" font-size="6.5" text-anchor="middle" font-weight="normal" font-style="normal" fill="#111" >NK</text>
<text x="562.8" y="451.0" font-size="6.5" text-anchor="middle" font-weight="normal" font-style="normal" fill="#111" >Un-</text>
<text x="562.8" y="458.9" font-size="6.5" text-anchor="middle" font-weight="normal" font-style="normal" fill="#111" >infected</text>
<text x="562.8" y="466.3" font-size="6.5" text-anchor="middle" font-weight="normal" font-style="normal" fill="#111" >CD8</text>
<text x="589.8" y="451.0" font-size="6.5" text-anchor="middle" font-weight="normal" font-style="normal" fill="#111" >HTLV-1-</text>
<text x="589.8" y="458.9" font-size="6.5" text-anchor="middle" font-weight="normal" font-style="normal" fill="#111" >infected</text>
<text x="589.8" y="466.3" font-size="6.5" text-anchor="middle" font-weight="normal" font-style="normal" fill="#111" >CD8</text>
<text x="616.5" y="451.0" font-size="6.5" text-anchor="middle" font-weight="normal" font-style="normal" fill="#111" >Un-</text>
<text x="616.5" y="458.9" font-size="6.5" text-anchor="middle" font-weight="normal" font-style="normal" fill="#111" >infected</text>
<text x="616.5" y="466.3" font-size="6.5" text-anchor="middle" font-weight="normal" font-style="normal" fill="#111" >CD4</text>
<text x="643.2" y="443.8" font-size="6.5" text-anchor="middle" font-weight="normal" font-style="normal" fill="#111" >MAP3K8</text>
<text x="643.2" y="451.0" font-size="6.5" text-anchor="middle" font-weight="normal" font-style="normal" fill="#111" >low</text>
<text x="643.2" y="458.9" font-size="6.5" text-anchor="middle" font-weight="normal" font-style="normal" fill="#111" >HTLV-1⁺</text>
<text x="643.2" y="466.3" font-size="6.5" text-anchor="middle" font-weight="normal" font-style="normal" fill="#111" >CD4⁺</text>
<text x="671.6" y="443.8" font-size="6.5" text-anchor="middle" font-weight="normal" font-style="normal" fill="#111" >MAP3K8</text>
<text x="671.6" y="451.0" font-size="6.5" text-anchor="middle" font-weight="normal" font-style="normal" fill="#111" >high</text>
<text x="671.6" y="458.9" font-size="6.5" text-anchor="middle" font-weight="normal" font-style="normal" fill="#111" >HTLV-1⁺</text>
<text x="671.6" y="466.3" font-size="6.5" text-anchor="middle" font-weight="normal" font-style="normal" fill="#111" >CD4⁺</text>
<rect x="468.4" y="400.1" width="26.9" height="6.55" fill="#5A86C5" />
<rect x="468.4" y="406.6" width="26.9" height="5.85" fill="#0E1520" />
<rect x="468.4" y="412.4" width="26.9" height="6.15" fill="#0E1520" />
<rect x="468.4" y="418.5" width="26.9" height="6.15" fill="#5A86C5" />
<rect x="468.4" y="424.6" width="26.9" height="7.25" fill="#5A86C5" />
<rect x="495.3" y="400.1" width="27.0" height="6.55" fill="#F56A6E" />
<rect x="495.3" y="406.6" width="27.0" height="5.85" fill="#5A1E20" />
<rect x="495.3" y="412.4" width="27.0" height="6.15" fill="#8A3538" />
<rect x="495.3" y="418.5" width="27.0" height="6.15" fill="#F56A6E" />
<rect x="495.3" y="424.6" width="27.0" height="7.25" fill="#F56A6E" />
<rect x="522.3" y="400.1" width="27.2" height="6.55" fill="#0B0F14" />
<rect x="522.3" y="406.6" width="27.2" height="5.85" fill="#0A0E14" />
<rect x="522.3" y="412.4" width="27.2" height="6.15" fill="#0C1018" />
<rect x="522.3" y="418.5" width="27.2" height="6.15" fill="#22344F" />
<rect x="522.3" y="424.6" width="27.2" height="7.25" fill="#22344F" />
<rect x="549.5" y="400.1" width="27.2" height="6.55" fill="#120808" />
<rect x="549.5" y="406.6" width="27.2" height="5.85" fill="#0A0505" />
<rect x="549.5" y="412.4" width="27.2" height="6.15" fill="#201010" />
<rect x="549.5" y="418.5" width="27.2" height="6.15" fill="#4A1C1C" />
<rect x="549.5" y="424.6" width="27.2" height="7.25" fill="#080505" />
<rect x="576.7" y="400.1" width="26.7" height="6.55" fill="#18243A" />
<rect x="576.7" y="406.6" width="26.7" height="5.85" fill="#0A0A0A" />
<rect x="576.7" y="412.4" width="26.7" height="6.15" fill="#0E1218" />
<rect x="576.7" y="418.5" width="26.7" height="6.15" fill="#1A2538" />
<rect x="576.7" y="424.6" width="26.7" height="7.25" fill="#1A2538" />
<rect x="603.4" y="400.1" width="26.6" height="6.55" fill="#5B8BD0" />
<rect x="603.4" y="406.6" width="26.6" height="5.85" fill="#1C2A40" />
<rect x="603.4" y="412.4" width="26.6" height="6.15" fill="#1C2A40" />
<rect x="603.4" y="418.5" width="26.6" height="6.15" fill="#5B8BD0" />
<rect x="603.4" y="424.6" width="26.6" height="7.25" fill="#5B8BD0" />
<rect x="630.0" y="400.1" width="26.9" height="6.55" fill="#5B8BD0" />
<rect x="630.0" y="406.6" width="26.9" height="5.85" fill="#0C1018" />
<rect x="630.0" y="412.4" width="26.9" height="6.15" fill="#141C28" />
<rect x="630.0" y="418.5" width="26.9" height="6.15" fill="#5B8BD0" />
<rect x="630.0" y="424.6" width="26.9" height="7.25" fill="#4C70A8" />
<rect x="656.9" y="400.1" width="27.1" height="6.55" fill="#B04848" />
<rect x="656.9" y="406.6" width="27.1" height="5.85" fill="#100808" />
<rect x="656.9" y="412.4" width="27.1" height="6.15" fill="#1C0C0C" />
<rect x="656.9" y="418.5" width="27.1" height="6.15" fill="#E05858" />
<rect x="656.9" y="424.6" width="27.1" height="7.25" fill="#8A3434" />
<line x1="495.3" y1="400.1" x2="495.3" y2="431.8" stroke="rgba(255,255,255,0.7)" stroke-width="0.4" />
<line x1="522.3" y1="400.1" x2="522.3" y2="431.8" stroke="rgba(255,255,255,0.7)" stroke-width="0.4" />
<line x1="549.5" y1="400.1" x2="549.5" y2="431.8" stroke="rgba(255,255,255,0.7)" stroke-width="0.4" />
<line x1="576.7" y1="400.1" x2="576.7" y2="431.8" stroke="rgba(255,255,255,0.7)" stroke-width="0.4" />
<line x1="603.4" y1="400.1" x2="603.4" y2="431.8" stroke="rgba(255,255,255,0.7)" stroke-width="0.4" />
<line x1="630.0" y1="400.1" x2="630.0" y2="431.8" stroke="rgba(255,255,255,0.7)" stroke-width="0.4" />
<line x1="656.9" y1="400.1" x2="656.9" y2="431.8" stroke="rgba(255,255,255,0.7)" stroke-width="0.4" />
<text x="464.3" y="405.2" font-size="5.3" text-anchor="end" font-weight="bold" font-style="italic" fill="#111" textLength="26.9" lengthAdjust="spacingAndGlyphs">FOSL2::JUN</text>
<text x="464.3" y="411.6" font-size="5.3" text-anchor="end" font-weight="bold" font-style="italic" fill="#111" textLength="13.4" lengthAdjust="spacingAndGlyphs">MEIS1</text>
<text x="464.3" y="416.90000000000003" font-size="5.3" text-anchor="end" font-weight="bold" font-style="italic" fill="#111" textLength="16.1" lengthAdjust="spacingAndGlyphs">Nkx3-1</text>
<text x="464.3" y="423.2" font-size="5.3" text-anchor="end" font-weight="bold" font-style="italic" fill="#111" textLength="24.2" lengthAdjust="spacingAndGlyphs">FOS::JUND</text>
<text x="464.3" y="429.8" font-size="5.3" text-anchor="end" font-weight="bold" font-style="italic" fill="#111" textLength="29.6" lengthAdjust="spacingAndGlyphs">FOSL1::JUNB</text>
<rect x="468.4" y="470.8" width="26.9" height="6.33" fill="#1A0808" />
<rect x="468.4" y="477.08" width="26.9" height="6.33" fill="#142030" />
<rect x="468.4" y="483.36" width="26.9" height="6.33" fill="#7A3030" />
<rect x="468.4" y="489.64" width="26.9" height="6.33" fill="#180A0A" />
<rect x="468.4" y="495.92" width="26.9" height="6.33" fill="#0A1016" />
<rect x="468.4" y="502.2" width="26.9" height="6.33" fill="#3A5C88" />
<rect x="468.4" y="508.48" width="26.9" height="6.33" fill="#0A0E16" />
<rect x="468.4" y="514.76" width="26.9" height="6.33" fill="#3A5C88" />
<rect x="468.4" y="521.04" width="26.9" height="6.33" fill="#34527C" />
<rect x="468.4" y="527.32" width="26.9" height="6.33" fill="#5A8ACF" />
<rect x="495.3" y="470.8" width="27.0" height="6.33" fill="#4A78B8" />
<rect x="495.3" y="477.08" width="27.0" height="6.33" fill="#5B8BD0" />
<rect x="495.3" y="483.36" width="27.0" height="6.33" fill="#5B8BD0" />
<rect x="495.3" y="489.64" width="27.0" height="6.33" fill="#26446A" />
<rect x="495.3" y="495.92" width="27.0" height="6.33" fill="#4A1A1A" />
<rect x="495.3" y="502.2" width="27.0" height="6.33" fill="#6A2424" />
<rect x="495.3" y="508.48" width="27.0" height="6.33" fill="#2A0C0C" />
<rect x="495.3" y="514.76" width="27.0" height="6.33" fill="#2A0C0C" />
<rect x="495.3" y="521.04" width="27.0" height="6.33" fill="#8A3A3A" />
<rect x="495.3" y="527.32" width="27.0" height="6.33" fill="#F56A6E" />
<rect x="522.3" y="470.8" width="27.2" height="6.33" fill="#F56A6E" />
<rect x="522.3" y="477.08" width="27.2" height="6.33" fill="#F56A6E" />
<rect x="522.3" y="483.36" width="27.2" height="6.33" fill="#F56A6E" />
<rect x="522.3" y="489.64" width="27.2" height="6.33" fill="#F56A6E" />
<rect x="522.3" y="495.92" width="27.2" height="6.33" fill="#4A1A1A" />
<rect x="522.3" y="502.2" width="27.2" height="6.33" fill="#F56A6E" />
<rect x="522.3" y="508.48" width="27.2" height="6.33" fill="#F56A6E" />
<rect x="522.3" y="514.76" width="27.2" height="6.33" fill="#F56A6E" />
<rect x="522.3" y="521.04" width="27.2" height="6.33" fill="#F56A6E" />
<rect x="522.3" y="527.32" width="27.2" height="6.33" fill="#F56A6E" />
<rect x="549.5" y="470.8" width="27.2" height="6.33" fill="#F56A6E" />
<rect x="549.5" y="477.08" width="27.2" height="6.33" fill="#F56A6E" />
<rect x="549.5" y="483.36" width="27.2" height="6.33" fill="#F56A6E" />
<rect x="549.5" y="489.64" width="27.2" height="6.33" fill="#F56A6E" />
<rect x="549.5" y="495.92" width="27.2" height="6.33" fill="#7A2C2C" />
<rect x="549.5" y="502.2" width="27.2" height="6.33" fill="#E05A5A" />
<rect x="549.5" y="508.48" width="27.2" height="6.33" fill="#C45050" />
<rect x="549.5" y="514.76" width="27.2" height="6.33" fill="#F56A6E" />
<rect x="549.5" y="521.04" width="27.2" height="6.33" fill="#F56A6E" />
<rect x="549.5" y="527.32" width="27.2" height="6.33" fill="#F56A6E" />
<rect x="576.7" y="470.8" width="26.7" height="6.33" fill="#F56A6E" />
<rect x="576.7" y="477.08" width="26.7" height="6.33" fill="#F56A6E" />
<rect x="576.7" y="483.36" width="26.7" height="6.33" fill="#F56A6E" />
<rect x="576.7" y="489.64" width="26.7" height="6.33" fill="#F56A6E" />
<rect x="576.7" y="495.92" width="26.7" height="6.33" fill="#501818" />
<rect x="576.7" y="502.2" width="26.7" height="6.33" fill="#A84040" />
<rect x="576.7" y="508.48" width="26.7" height="6.33" fill="#A04040" />
<rect x="576.7" y="514.76" width="26.7" height="6.33" fill="#F56A6E" />
<rect x="576.7" y="521.04" width="26.7" height="6.33" fill="#F56A6E" />
<rect x="576.7" y="527.32" width="26.7" height="6.33" fill="#F56A6E" />
<rect x="603.4" y="470.8" width="26.6" height="6.33" fill="#5B8BD0" />
<rect x="603.4" y="477.08" width="26.6" height="6.33" fill="#3E6298" />
<rect x="603.4" y="483.36" width="26.6" height="6.33" fill="#5B8BD0" />
<rect x="603.4" y="489.64" width="26.6" height="6.33" fill="#142030" />
<rect x="603.4" y="495.92" width="26.6" height="6.33" fill="#050505" />
<rect x="603.4" y="502.2" width="26.6" height="6.33" fill="#5A2020" />
<rect x="603.4" y="508.48" width="26.6" height="6.33" fill="#050505" />
<rect x="603.4" y="514.76" width="26.6" height="6.33" fill="#5B8BD0" />
<rect x="603.4" y="521.04" width="26.6" height="6.33" fill="#101820" />
<rect x="603.4" y="527.32" width="26.6" height="6.33" fill="#F56A6E" />
<rect x="630.0" y="470.8" width="26.9" height="6.33" fill="#3E6298" />
<rect x="630.0" y="477.08" width="26.9" height="6.33" fill="#5B8BD0" />
<rect x="630.0" y="483.36" width="26.9" height="6.33" fill="#5B8BD0" />
<rect x="630.0" y="489.64" width="26.9" height="6.33" fill="#3E6298" />
<rect x="630.0" y="495.92" width="26.9" height="6.33" fill="#1A2838" />
<rect x="630.0" y="502.2" width="26.9" height="6.33" fill="#3E6298" />
<rect x="630.0" y="508.48" width="26.9" height="6.33" fill="#30507A" />
<rect x="630.0" y="514.76" width="26.9" height="6.33" fill="#5B8BD0" />
<rect x="630.0" y="521.04" width="26.9" height="6.33" fill="#5B8BD0" />
<rect x="630.0" y="527.32" width="26.9" height="6.33" fill="#5B8BD0" />
<rect x="656.9" y="470.8" width="27.1" height="6.33" fill="#E05A5A" />
<rect x="656.9" y="477.08" width="27.1" height="6.33" fill="#F56A6E" />
<rect x="656.9" y="483.36" width="27.1" height="6.33" fill="#F56A6E" />
<rect x="656.9" y="489.64" width="27.1" height="6.33" fill="#080808" />
<rect x="656.9" y="495.92" width="27.1" height="6.33" fill="#101820" />
<rect x="656.9" y="502.2" width="27.1" height="6.33" fill="#101820" />
<rect x="656.9" y="508.48" width="27.1" height="6.33" fill="#5A2020" />
<rect x="656.9" y="514.76" width="27.1" height="6.33" fill="#F56A6E" />
<rect x="656.9" y="521.04" width="27.1" height="6.33" fill="#7A2C2C" />
<rect x="656.9" y="527.32" width="27.1" height="6.33" fill="#C85050" />
<line x1="495.3" y1="470.8" x2="495.3" y2="533.6" stroke="rgba(255,255,255,0.7)" stroke-width="0.4" />
<line x1="522.3" y1="470.8" x2="522.3" y2="533.6" stroke="rgba(255,255,255,0.7)" stroke-width="0.4" />
<line x1="549.5" y1="470.8" x2="549.5" y2="533.6" stroke="rgba(255,255,255,0.7)" stroke-width="0.4" />
<line x1="576.7" y1="470.8" x2="576.7" y2="533.6" stroke="rgba(255,255,255,0.7)" stroke-width="0.4" />
<line x1="603.4" y1="470.8" x2="603.4" y2="533.6" stroke="rgba(255,255,255,0.7)" stroke-width="0.4" />
<line x1="630.0" y1="470.8" x2="630.0" y2="533.6" stroke="rgba(255,255,255,0.7)" stroke-width="0.4" />
<line x1="656.9" y1="470.8" x2="656.9" y2="533.6" stroke="rgba(255,255,255,0.7)" stroke-width="0.4" />
<text x="467.3" y="475.5" font-size="5.3" text-anchor="end" font-weight="bold" font-style="italic" fill="#111" textLength="53.6" lengthAdjust="spacingAndGlyphs">SMAD2::SMAD3::SMAD4</text>
<text x="467.3" y="481.78" font-size="5.3" text-anchor="end" font-weight="bold" font-style="italic" fill="#111" textLength="11.3" lengthAdjust="spacingAndGlyphs">TBR1</text>
<text x="467.3" y="488.06" font-size="5.3" text-anchor="end" font-weight="bold" font-style="italic" fill="#111" textLength="11.3" lengthAdjust="spacingAndGlyphs">TBX2</text>
<text x="467.3" y="494.34" font-size="5.3" text-anchor="end" font-weight="bold" font-style="italic" fill="#111" textLength="2.8" lengthAdjust="spacingAndGlyphs">T</text>
<text x="467.3" y="500.62" font-size="5.3" text-anchor="end" font-weight="bold" font-style="italic" fill="#111" textLength="11.3" lengthAdjust="spacingAndGlyphs">TFEC</text>
<text x="467.3" y="506.9" font-size="5.3" text-anchor="end" font-weight="bold" font-style="italic" fill="#111" textLength="11.3" lengthAdjust="spacingAndGlyphs">Spi1</text>
<text x="467.3" y="513.18" font-size="5.3" text-anchor="end" font-weight="bold" font-style="italic" fill="#111" textLength="14.1" lengthAdjust="spacingAndGlyphs">SCRT1</text>
<text x="467.3" y="519.46" font-size="5.3" text-anchor="end" font-weight="bold" font-style="italic" fill="#111" textLength="14.1" lengthAdjust="spacingAndGlyphs">TBX21</text>
<text x="467.3" y="525.74" font-size="5.3" text-anchor="end" font-weight="bold" font-style="italic" fill="#111" textLength="14.1" lengthAdjust="spacingAndGlyphs">TBX20</text>
<text x="467.3" y="532.02" font-size="5.3" text-anchor="end" font-weight="bold" font-style="italic" fill="#111" textLength="14.1" lengthAdjust="spacingAndGlyphs">CENPB</text>
<text x="47.1" y="523.1" font-size="9.1" text-anchor="start" font-weight="normal" font-style="normal" fill="#000" >First: Detection of expressed genes in HAM</text>
<rect x="45.9" y="528.9" width="131.3" height="27.1" fill="#fff" stroke="#70AD47" stroke-width="1.2"/>
<text x="54.9" y="540.8" font-size="7.78" text-anchor="start" font-weight="bold" font-style="normal" fill="#000" >RNA-seq (HAM n = 13)</text>
<text x="54.9" y="549.3" font-size="7.78" text-anchor="start" font-weight="bold" font-style="normal" fill="#000" >HAM TPM &gt; 10</text>
<polygon points="103.9,560.5 110.1,560.5 110.1,566.2 113.85,566.2 107.0,572.0 100.15,566.2 103.9,566.2" fill="#000"/>
<line x1="177.6" y1="542.9" x2="259.7" y2="542.9" stroke="#000" stroke-width="0.7" />
<polygon points="258.7,541.1999999999999 262.7,542.9 258.7,544.6" fill="#000"/>
<text x="275.3" y="547.3" font-size="10.35" text-anchor="start" font-weight="normal" font-style="normal" fill="#000" >7919 genes</text>
<line x1="275.3" y1="549.1" x2="329.6" y2="549.1" stroke="#000" stroke-width="0.7" />
<text x="47.4" y="582.0" font-size="9.1" text-anchor="start" font-weight="normal" font-style="normal" fill="#000" >Second: Analysis using scRNA-seq (gene expression)</text>
<polygon points="297.9,582.5 304.1,582.5 304.1,588.4000000000001 307.85,588.4000000000001 301,594.2 294.15,588.4000000000001 297.9,588.4000000000001" fill="#000"/>
<rect x="45.8" y="587.4" width="125.8" height="27.6" fill="#fff" stroke="#70AD47" stroke-width="1.2"/>
<rect x="46.8" y="618.1" width="120.6" height="27.8" fill="#fff" stroke="#70AD47" stroke-width="1.2"/>
<text x="54.8" y="599.9" font-size="7.78" font-weight="bold">MAP3K8<tspan font-size="5.3" dy="-3.0">high</tspan><tspan dy="3.0"> HTLV-1</tspan><tspan font-size="5.3" dy="-3.0">+</tspan><tspan dy="3.0"> CD4</tspan><tspan font-size="5.3" dy="-3.0">+</tspan></text>
<text x="54.8" y="608.6" font-size="7.78" font-weight="bold">&gt; MAP3K8 <tspan font-size="5.3" dy="-3.0">low</tspan><tspan dy="3.0"> HTLV-1</tspan><tspan font-size="5.3" dy="-3.0">+</tspan><tspan dy="3.0"> CD4</tspan><tspan font-size="5.3" dy="-3.0">+</tspan></text>
<text x="56.0" y="629.7" font-size="7.78" font-weight="bold">MAP3K8<tspan font-size="5.3" dy="-3.0">high</tspan><tspan dy="3.0"> HTLV-1</tspan><tspan font-size="5.3" dy="-3.0">+</tspan><tspan dy="3.0"> CD4</tspan><tspan font-size="5.3" dy="-3.0">+</tspan></text>
<text x="56.0" y="639.6" font-size="7.78" font-weight="bold">&gt; uninfected CD4<tspan font-size="5.3" dy="-3.0">+</tspan><tspan dy="3.0">T cells</tspan></text>
<line x1="171.3" y1="601.1" x2="243.7" y2="614.3" stroke="#000" stroke-width="0.6" />
<line x1="167.6" y1="631.3" x2="243.7" y2="614.3" stroke="#000" stroke-width="0.6" />
<line x1="243.7" y1="614.3" x2="258.3" y2="614.3" stroke="#000" stroke-width="0.7" />
<polygon points="257.3,612.5999999999999 261.3,614.3 257.3,616.0" fill="#000"/>
<text x="275.6" y="617.0" font-size="10.35" text-anchor="start" font-weight="normal" font-style="normal" fill="#000" >2550 genes</text>
<line x1="275.6" y1="618.8" x2="330.1" y2="618.8" stroke="#000" stroke-width="0.7" />
<polygon points="103.30000000000001,647.3 109.5,647.3 109.5,653.2 113.25,653.2 106.4,659.0 99.55000000000001,653.2 103.30000000000001,653.2" fill="#000"/>
<text x="48.6" y="668.3" font-size="9.1" text-anchor="start" font-weight="normal" font-style="normal" fill="#000" >Third: Analysis using scATAC-seq (Chromatin accessibility)</text>
<polygon points="297.9,662.6 304.1,662.6 304.1,668.7 307.85,668.7 301,674.5 294.15,668.7 297.9,668.7" fill="#000"/>
<rect x="47.6" y="675.1" width="123.1" height="28.4" fill="#fff" stroke="#5B9BD5" stroke-width="1.2"/>
<rect x="47.6" y="706.2" width="123.1" height="28.4" fill="#fff" stroke="#5B9BD5" stroke-width="1.2"/>
<text x="56.8" y="686.9" font-size="7.78" font-weight="bold">MAP3K8<tspan font-size="5.3" dy="-3.0">high</tspan><tspan dy="3.0"> HTLV-1</tspan><tspan font-size="5.3" dy="-3.0">+</tspan><tspan dy="3.0"> CD4</tspan><tspan font-size="5.3" dy="-3.0">+</tspan></text>
<text x="56.8" y="696.0" font-size="7.78" font-weight="bold">&gt; MAP3K8 <tspan font-size="5.3" dy="-3.0">low</tspan><tspan dy="3.0"> HTLV-1</tspan><tspan font-size="5.3" dy="-3.0">+</tspan><tspan dy="3.0"> CD4</tspan><tspan font-size="5.3" dy="-3.0">+</tspan></text>
<text x="56.8" y="718.4" font-size="7.78" font-weight="bold">MAP3K8<tspan font-size="5.3" dy="-3.0">high</tspan><tspan dy="3.0"> HTLV-1</tspan><tspan font-size="5.3" dy="-3.0">+</tspan><tspan dy="3.0"> CD4</tspan><tspan font-size="5.3" dy="-3.0">+</tspan></text>
<text x="58.5" y="727.8" font-size="7.78" font-weight="bold">&gt; uninfected CD4<tspan font-size="5.3" dy="-3.0">+</tspan><tspan dy="3.0">T cells</tspan></text>
<line x1="170.7" y1="687.8" x2="220" y2="699.8" stroke="#000" stroke-width="0.6" />
<line x1="170.7" y1="719.1" x2="220" y2="699.8" stroke="#000" stroke-width="0.6" />
<line x1="220" y1="699.8" x2="260" y2="699.8" stroke="#000" stroke-width="0.7" />
<polygon points="259,698.0999999999999 263,699.8 259,701.5" fill="#000"/>
<text x="281.1" y="703.5" font-size="10.35" text-anchor="start" font-weight="normal" font-style="normal" fill="#000" >14 genes</text>
<line x1="281.1" y1="705.3" x2="323.2" y2="705.3" stroke="#000" stroke-width="0.7" />
<line x1="62.5" y1="790.7" x2="62.5" y2="901.2" stroke="#BFBFBF" stroke-width="0.7" />
<line x1="62.5" y1="901.2" x2="179.6" y2="901.2" stroke="#BFBFBF" stroke-width="0.7" />
<text x="56.5" y="903.5" font-size="7.0" text-anchor="end" font-weight="bold" font-style="normal" fill="#5a5a5a" textLength="4.0" lengthAdjust="spacing">0</text>
<text x="56.5" y="887.7" font-size="7.0" text-anchor="end" font-weight="bold" font-style="normal" fill="#5a5a5a" textLength="12.6" lengthAdjust="spacing">100</text>
<text x="56.5" y="871.9" font-size="7.0" text-anchor="end" font-weight="bold" font-style="normal" fill="#5a5a5a" textLength="12.6" lengthAdjust="spacing">200</text>
<text x="56.5" y="856.1" font-size="7.0" text-anchor="end" font-weight="bold" font-style="normal" fill="#5a5a5a" textLength="12.6" lengthAdjust="spacing">300</text>
<text x="56.5" y="840.3" font-size="7.0" text-anchor="end" font-weight="bold" font-style="normal" fill="#5a5a5a" textLength="12.6" lengthAdjust="spacing">400</text>
<text x="56.5" y="824.5" font-size="7.0" text-anchor="end" font-weight="bold" font-style="normal" fill="#5a5a5a" textLength="12.6" lengthAdjust="spacing">500</text>
<text x="56.5" y="808.7" font-size="7.0" text-anchor="end" font-weight="bold" font-style="normal" fill="#5a5a5a" textLength="12.6" lengthAdjust="spacing">600</text>
<text x="56.5" y="792.9" font-size="7.0" text-anchor="end" font-weight="bold" font-style="normal" fill="#5a5a5a" textLength="12.6" lengthAdjust="spacing">700</text>
<text x="62.2" y="912.7" font-size="7.0" text-anchor="middle" font-weight="bold" font-style="normal" fill="#5a5a5a" textLength="4.0" lengthAdjust="spacing">0</text>
<text x="101.8" y="912.7" font-size="7.0" text-anchor="middle" font-weight="bold" font-style="normal" fill="#5a5a5a" textLength="8.3" lengthAdjust="spacing">50</text>
<text x="141.4" y="912.7" font-size="7.0" text-anchor="middle" font-weight="bold" font-style="normal" fill="#5a5a5a" textLength="12.6" lengthAdjust="spacing">100</text>
<text x="181.0" y="912.7" font-size="7.0" text-anchor="middle" font-weight="bold" font-style="normal" fill="#5a5a5a" textLength="12.6" lengthAdjust="spacing">150</text>
<line x1="69.6" y1="879.3" x2="150.2" y2="804" stroke="#000" stroke-width="1.5" stroke-dasharray="1.5 1.25"/>
<circle cx="105.2" cy="832" r="2.3" fill="#000"/>
<circle cx="88" cy="839.9" r="2.3" fill="#000"/>
<circle cx="92.4" cy="849" r="2.3" fill="#000"/>
<circle cx="98.5" cy="849" r="2.3" fill="#000"/>
<circle cx="85.8" cy="855.7" r="2.3" fill="#000"/>
<circle cx="76.6" cy="870.6" r="2.3" fill="#000"/>
<circle cx="70.5" cy="882.9" r="2.3" fill="#000"/>
<circle cx="76.1" cy="885.8" r="2.3" fill="#000"/>
<circle cx="74.5" cy="887.5" r="2.3" fill="#000"/>
<circle cx="70.2" cy="889.9" r="2.3" fill="#000"/>
<circle cx="74.9" cy="891.3" r="2.3" fill="#000"/>
<circle cx="148.5" cy="811.9" r="2.3" fill="#000"/>
<circle cx="150.2" cy="814.2" r="2.3" fill="#000"/>
<text x="0" y="0" font-size="7.73" font-weight="bold" text-anchor="middle" transform="translate(30.5,838.5) rotate(-90)"><tspan font-style="italic">FOSL2</tspan> RNA-seq TPM</text>
<text x="109.5" y="927.8" font-size="7.73" font-weight="bold" text-anchor="middle"><tspan font-style="italic">MAP3K8</tspan> RNA-seq TPM</text>
<polyline points="449.2,597.7 449.2,593.0 501.2,593.0 501.2,597.7" fill="none" stroke="#5B6E94" stroke-width="1.0"/>
<text x="475.2" y="595.1" font-size="8.5" text-anchor="middle" font-weight="bold" font-style="normal" fill="#000" >***</text>
<polyline points="475.3,607.9 475.3,603.9 501.0,603.9 501.0,607.9" fill="none" stroke="#5B6E94" stroke-width="1.0"/>
<text x="488.2" y="606.0" font-size="8.5" text-anchor="middle" font-weight="bold" font-style="normal" fill="#000" >*</text>
<polyline points="506.1,575.3 506.1,571.2 609.7,571.2 609.7,575.3" fill="none" stroke="#5B6E94" stroke-width="1.0"/>
<text x="557.0" y="573.3" font-size="8.5" text-anchor="middle" font-weight="bold" font-style="normal" fill="#000" >***</text>
<polyline points="506.1,586.6 506.1,581.9 583.4,581.9 583.4,586.6" fill="none" stroke="#5B6E94" stroke-width="1.0"/>
<text x="544.6" y="584.0" font-size="8.5" text-anchor="middle" font-weight="bold" font-style="normal" fill="#000" >***</text>
<polyline points="506.1,597.2 506.1,592.7 557.6,592.7 557.6,597.2" fill="none" stroke="#5B6E94" stroke-width="1.0"/>
<text x="531.7" y="594.8" font-size="8.5" text-anchor="middle" font-weight="bold" font-style="normal" fill="#000" >**</text>
<polyline points="506.1,608.0 506.1,603.5 527.6,603.5 527.6,608.0" fill="none" stroke="#5B6E94" stroke-width="1.0"/>
<text x="517.4" y="605.6" font-size="8.5" text-anchor="middle" font-weight="bold" font-style="normal" fill="#000" >**</text>
<rect x="426.4" y="621.2" width="207.0" height="112.0" fill="none" stroke="#555" stroke-width="0.7"/>
<line x1="424.1" y1="728.9" x2="426.4" y2="728.9" stroke="#555" stroke-width="0.6" />
<text x="0" y="0" font-size="4.9" text-anchor="middle" fill="#222" transform="translate(419.3,728.9) rotate(-90)">0</text>
<line x1="424.1" y1="712.97" x2="426.4" y2="712.97" stroke="#555" stroke-width="0.6" />
<text x="0" y="0" font-size="4.9" text-anchor="middle" fill="#222" transform="translate(419.3,712.97) rotate(-90)">100</text>
<line x1="424.1" y1="697.04" x2="426.4" y2="697.04" stroke="#555" stroke-width="0.6" />
<text x="0" y="0" font-size="4.9" text-anchor="middle" fill="#222" transform="translate(419.3,697.04) rotate(-90)">200</text>
<line x1="424.1" y1="681.11" x2="426.4" y2="681.11" stroke="#555" stroke-width="0.6" />
<text x="0" y="0" font-size="4.9" text-anchor="middle" fill="#222" transform="translate(419.3,681.11) rotate(-90)">300</text>
<line x1="424.1" y1="665.18" x2="426.4" y2="665.18" stroke="#555" stroke-width="0.6" />
<text x="0" y="0" font-size="4.9" text-anchor="middle" fill="#222" transform="translate(419.3,665.18) rotate(-90)">400</text>
<line x1="424.1" y1="649.25" x2="426.4" y2="649.25" stroke="#555" stroke-width="0.6" />
<text x="0" y="0" font-size="4.9" text-anchor="middle" fill="#222" transform="translate(419.3,649.25) rotate(-90)">500</text>
<line x1="424.1" y1="633.32" x2="426.4" y2="633.32" stroke="#555" stroke-width="0.6" />
<text x="0" y="0" font-size="4.9" text-anchor="middle" fill="#222" transform="translate(419.3,633.32) rotate(-90)">600</text>
<text x="0" y="0" font-size="6.46" text-anchor="middle" fill="#222" transform="translate(396.8,680.8) rotate(-90)">Normalized <tspan font-style="italic">FOSL2</tspan> expression by RNA-seq</text>
<line x1="447.6" y1="733.2" x2="447.6" y2="735.4" stroke="#555" stroke-width="0.6" />
<text x="0" y="0" font-size="7.6" text-anchor="end" fill="#111" transform="translate(450.40000000000003,743.0) rotate(-45)">AC_P</text>
<line x1="447.6" y1="712.97" x2="447.6" y2="716.79" stroke="#000000" stroke-width="0.5" stroke-dasharray="0.8 0.6" opacity="0.7"/>
<line x1="447.6" y1="722.37" x2="447.6" y2="724.12" stroke="#000000" stroke-width="0.5" stroke-dasharray="0.8 0.6" opacity="0.7"/>
<line x1="445.1" y1="712.97" x2="450.1" y2="712.97" stroke="#000000" stroke-width="0.5" />
<line x1="445.1" y1="724.12" x2="450.1" y2="724.12" stroke="#000000" stroke-width="0.5" />
<rect x="440.6" y="716.79" width="14.0" height="5.58" fill="none" stroke="#000000" stroke-width="0.6" opacity="0.85"/>
<line x1="440.6" y1="719.34" x2="454.6" y2="719.34" stroke="#000000" stroke-width="1.0" />
<line x1="475.0" y1="733.2" x2="475.0" y2="735.4" stroke="#555" stroke-width="0.6" />
<text x="0" y="0" font-size="7.6" text-anchor="end" fill="#111" transform="translate(477.8,743.0) rotate(-45)">AC_D</text>
<line x1="475.0" y1="689.71" x2="475.0" y2="694.17" stroke="#FF8C00" stroke-width="0.5" stroke-dasharray="0.8 0.6" opacity="0.7"/>
<line x1="475.0" y1="708.51" x2="475.0" y2="713.77" stroke="#FF8C00" stroke-width="0.5" stroke-dasharray="0.8 0.6" opacity="0.7"/>
<line x1="472.5" y1="689.71" x2="477.5" y2="689.71" stroke="#FF8C00" stroke-width="0.5" />
<line x1="472.5" y1="713.77" x2="477.5" y2="713.77" stroke="#FF8C00" stroke-width="0.5" />
<rect x="468.0" y="694.17" width="14.0" height="14.34" fill="none" stroke="#FF8C00" stroke-width="0.6" opacity="0.85"/>
<line x1="468.0" y1="702.46" x2="482.0" y2="702.46" stroke="#FF8C00" stroke-width="1.0" />
<line x1="502.2" y1="733.2" x2="502.2" y2="735.4" stroke="#555" stroke-width="0.6" />
<text x="0" y="0" font-size="7.6" text-anchor="end" fill="#111" transform="translate(505.0,743.0) rotate(-45)">HAM_D</text>
<line x1="502.2" y1="632.52" x2="502.2" y2="657.37" stroke="#F0606A" stroke-width="0.5" stroke-dasharray="0.8 0.6" opacity="0.7"/>
<line x1="502.2" y1="704.05" x2="502.2" y2="712.65" stroke="#F0606A" stroke-width="0.5" stroke-dasharray="0.8 0.6" opacity="0.7"/>
<line x1="499.7" y1="632.52" x2="504.7" y2="632.52" stroke="#F0606A" stroke-width="0.5" />
<line x1="499.7" y1="712.65" x2="504.7" y2="712.65" stroke="#F0606A" stroke-width="0.5" />
<rect x="495.2" y="657.37" width="14.0" height="46.68" fill="none" stroke="#F0606A" stroke-width="0.6" opacity="0.85"/>
<line x1="495.2" y1="680.15" x2="509.2" y2="680.15" stroke="#F0606A" stroke-width="1.0" />
<line x1="529.4" y1="733.2" x2="529.4" y2="735.4" stroke="#555" stroke-width="0.6" />
<text x="0" y="0" font-size="7.6" text-anchor="end" fill="#111" transform="translate(532.1999999999999,743.0) rotate(-45)">iATL_D</text>
<line x1="529.4" y1="706.12" x2="529.4" y2="706.12" stroke="#A8A8A8" stroke-width="0.5" stroke-dasharray="0.8 0.6" opacity="0.7"/>
<line x1="529.4" y1="710.58" x2="529.4" y2="710.58" stroke="#A8A8A8" stroke-width="0.5" stroke-dasharray="0.8 0.6" opacity="0.7"/>
<line x1="526.9" y1="706.12" x2="531.9" y2="706.12" stroke="#A8A8A8" stroke-width="0.5" />
<line x1="526.9" y1="710.58" x2="531.9" y2="710.58" stroke="#A8A8A8" stroke-width="0.5" />
<rect x="522.4" y="706.12" width="14.0" height="4.46" fill="none" stroke="#A8A8A8" stroke-width="0.6" opacity="0.85"/>
<line x1="522.4" y1="709.15" x2="536.4" y2="709.15" stroke="#A8A8A8" stroke-width="1.0" />
<line x1="557.0" y1="733.2" x2="557.0" y2="735.4" stroke="#555" stroke-width="0.6" />
<text x="0" y="0" font-size="7.6" text-anchor="end" fill="#111" transform="translate(559.8,743.0) rotate(-45)">AC_N</text>
<line x1="557.0" y1="697.04" x2="557.0" y2="697.04" stroke="#1DBE4C" stroke-width="0.5" stroke-dasharray="0.8 0.6" opacity="0.7"/>
<line x1="557.0" y1="709.78" x2="557.0" y2="719.98" stroke="#1DBE4C" stroke-width="0.5" stroke-dasharray="0.8 0.6" opacity="0.7"/>
<line x1="554.5" y1="697.04" x2="559.5" y2="697.04" stroke="#1DBE4C" stroke-width="0.5" />
<line x1="554.5" y1="719.98" x2="559.5" y2="719.98" stroke="#1DBE4C" stroke-width="0.5" />
<rect x="550.0" y="697.04" width="14.0" height="12.74" fill="none" stroke="#1DBE4C" stroke-width="0.6" opacity="0.85"/>
<line x1="550.0" y1="709.78" x2="564.0" y2="709.78" stroke="#1DBE4C" stroke-width="1.0" />
<line x1="584.4" y1="733.2" x2="584.4" y2="735.4" stroke="#555" stroke-width="0.6" />
<text x="0" y="0" font-size="7.6" text-anchor="end" fill="#111" transform="translate(587.1999999999999,743.0) rotate(-45)">iATL_N</text>
<line x1="584.4" y1="698.31" x2="584.4" y2="706.12" stroke="#1010F0" stroke-width="0.5" stroke-dasharray="0.8 0.6" opacity="0.7"/>
<line x1="584.4" y1="722.37" x2="584.4" y2="727.47" stroke="#1010F0" stroke-width="0.5" stroke-dasharray="0.8 0.6" opacity="0.7"/>
<line x1="581.9" y1="698.31" x2="586.9" y2="698.31" stroke="#1010F0" stroke-width="0.5" />
<line x1="581.9" y1="727.47" x2="586.9" y2="727.47" stroke="#1010F0" stroke-width="0.5" />
<rect x="577.4" y="706.12" width="14.0" height="16.25" fill="none" stroke="#1010F0" stroke-width="0.6" opacity="0.85"/>
<line x1="577.4" y1="713.29" x2="591.4" y2="713.29" stroke="#1010F0" stroke-width="1.0" />
<line x1="611.6" y1="733.2" x2="611.6" y2="735.4" stroke="#555" stroke-width="0.6" />
<text x="0" y="0" font-size="7.6" text-anchor="end" fill="#111" transform="translate(614.4,743.0) rotate(-45)">aATL_N</text>
<line x1="611.6" y1="699.27" x2="611.6" y2="708.19" stroke="#5B0F80" stroke-width="0.5" stroke-dasharray="0.8 0.6" opacity="0.7"/>
<line x1="611.6" y1="724.44" x2="611.6" y2="724.92" stroke="#5B0F80" stroke-width="0.5" stroke-dasharray="0.8 0.6" opacity="0.7"/>
<line x1="609.1" y1="699.27" x2="614.1" y2="699.27" stroke="#5B0F80" stroke-width="0.5" />
<line x1="609.1" y1="724.92" x2="614.1" y2="724.92" stroke="#5B0F80" stroke-width="0.5" />
<rect x="604.6" y="708.19" width="14.0" height="16.25" fill="none" stroke="#5B0F80" stroke-width="0.6" opacity="0.85"/>
<line x1="604.6" y1="715.36" x2="618.6" y2="715.36" stroke="#5B0F80" stroke-width="1.0" />
<circle cx="447.6" cy="712.97" r="1.35" fill="#000000"/>
<circle cx="445.6" cy="713.77" r="1.35" fill="#000000"/>
<circle cx="449.1" cy="714.24" r="1.35" fill="#000000"/>
<circle cx="444.6" cy="716.16" r="1.35" fill="#000000"/>
<circle cx="450.6" cy="716.47" r="1.35" fill="#000000"/>
<circle cx="446.6" cy="716.95" r="1.35" fill="#000000"/>
<circle cx="450.1" cy="717.75" r="1.35" fill="#000000"/>
<circle cx="445.1" cy="718.39" r="1.35" fill="#000000"/>
<circle cx="447.6" cy="719.34" r="1.35" fill="#000000"/>
<circle cx="450.6" cy="720.14" r="1.35" fill="#000000"/>
<circle cx="444.6" cy="720.62" r="1.35" fill="#000000"/>
<circle cx="448.6" cy="721.57" r="1.35" fill="#000000"/>
<circle cx="446.1" cy="722.85" r="1.35" fill="#000000"/>
<circle cx="449.6" cy="723.48" r="1.35" fill="#000000"/>
<circle cx="445.6" cy="724.12" r="1.35" fill="#000000"/>
<circle cx="448.1" cy="724.44" r="1.35" fill="#000000"/>
<circle cx="475.0" cy="689.71" r="1.35" fill="#FF8C00"/>
<circle cx="477.5" cy="692.58" r="1.35" fill="#FF8C00"/>
<circle cx="474.0" cy="693.54" r="1.35" fill="#FF8C00"/>
<circle cx="475.0" cy="699.27" r="1.35" fill="#FF8C00"/>
<circle cx="477.0" cy="705.0" r="1.35" fill="#FF8C00"/>
<circle cx="474.5" cy="706.6" r="1.35" fill="#FF8C00"/>
<circle cx="475.0" cy="709.78" r="1.35" fill="#FF8C00"/>
<circle cx="474.5" cy="713.77" r="1.35" fill="#FF8C00"/>
<circle cx="502.2" cy="632.52" r="1.35" fill="#F0606A"/>
<circle cx="502.2" cy="646.86" r="1.35" fill="#F0606A"/>
<circle cx="505.2" cy="646.38" r="1.35" fill="#F0606A"/>
<circle cx="502.2" cy="657.37" r="1.35" fill="#F0606A"/>
<circle cx="502.2" cy="670.76" r="1.35" fill="#F0606A"/>
<circle cx="504.7" cy="669.96" r="1.35" fill="#F0606A"/>
<circle cx="502.2" cy="680.15" r="1.35" fill="#F0606A"/>
<circle cx="502.2" cy="683.5" r="1.35" fill="#F0606A"/>
<circle cx="502.2" cy="699.75" r="1.35" fill="#F0606A"/>
<circle cx="502.7" cy="703.41" r="1.35" fill="#F0606A"/>
<circle cx="504.2" cy="705.0" r="1.35" fill="#F0606A"/>
<circle cx="502.7" cy="705.8" r="1.35" fill="#F0606A"/>
<circle cx="503.7" cy="710.1" r="1.35" fill="#F0606A"/>
<circle cx="502.2" cy="712.17" r="1.35" fill="#F0606A"/>
<circle cx="529.4" cy="699.43" r="1.35" fill="#A8A8A8"/>
<circle cx="529.4" cy="706.6" r="1.35" fill="#A8A8A8"/>
<circle cx="529.4" cy="708.99" r="1.35" fill="#A8A8A8"/>
<circle cx="531.9" cy="709.78" r="1.35" fill="#A8A8A8"/>
<circle cx="529.4" cy="716.95" r="1.35" fill="#A8A8A8"/>
<circle cx="557.0" cy="675.06" r="1.35" fill="#1DBE4C"/>
<circle cx="557.0" cy="696.24" r="1.35" fill="#1DBE4C"/>
<circle cx="560.0" cy="695.77" r="1.35" fill="#1DBE4C"/>
<circle cx="555.0" cy="696.56" r="1.35" fill="#1DBE4C"/>
<circle cx="554.0" cy="709.62" r="1.35" fill="#1DBE4C"/>
<circle cx="556.0" cy="709.78" r="1.35" fill="#1DBE4C"/>
<circle cx="558.5" cy="710.1" r="1.35" fill="#1DBE4C"/>
<circle cx="561.0" cy="709.47" r="1.35" fill="#1DBE4C"/>
<circle cx="557.0" cy="715.2" r="1.35" fill="#1DBE4C"/>
<circle cx="557.0" cy="719.98" r="1.35" fill="#1DBE4C"/>
<circle cx="585.4" cy="698.31" r="1.35" fill="#1010F0"/>
<circle cx="584.4" cy="699.43" r="1.35" fill="#1010F0"/>
<circle cx="583.4" cy="700.54" r="1.35" fill="#1010F0"/>
<circle cx="585.4" cy="706.12" r="1.35" fill="#1010F0"/>
<circle cx="582.9" cy="706.6" r="1.35" fill="#1010F0"/>
<circle cx="584.4" cy="713.29" r="1.35" fill="#1010F0"/>
<circle cx="584.4" cy="717.75" r="1.35" fill="#1010F0"/>
<circle cx="583.4" cy="721.73" r="1.35" fill="#1010F0"/>
<circle cx="585.4" cy="722.53" r="1.35" fill="#1010F0"/>
<circle cx="584.4" cy="727.31" r="1.35" fill="#1010F0"/>
<circle cx="613.1" cy="699.27" r="1.35" fill="#5B0F80"/>
<circle cx="611.6" cy="701.02" r="1.35" fill="#5B0F80"/>
<circle cx="612.6" cy="705.0" r="1.35" fill="#5B0F80"/>
<circle cx="610.6" cy="708.19" r="1.35" fill="#5B0F80"/>
<circle cx="609.6" cy="713.77" r="1.35" fill="#5B0F80"/>
<circle cx="613.6" cy="714.24" r="1.35" fill="#5B0F80"/>
<circle cx="608.6" cy="714.88" r="1.35" fill="#5B0F80"/>
<circle cx="614.6" cy="715.36" r="1.35" fill="#5B0F80"/>
<circle cx="611.6" cy="716.16" r="1.35" fill="#5B0F80"/>
<circle cx="607.6" cy="722.53" r="1.35" fill="#5B0F80"/>
<circle cx="609.6" cy="723.32" r="1.35" fill="#5B0F80"/>
<circle cx="611.6" cy="723.8" r="1.35" fill="#5B0F80"/>
<circle cx="614.6" cy="724.12" r="1.35" fill="#5B0F80"/>
<circle cx="612.6" cy="724.6" r="1.35" fill="#5B0F80"/>
<line x1="393.3" y1="817.0" x2="393.3" y2="913.2" stroke="#BFBFBF" stroke-width="0.7" />
<line x1="393.3" y1="913.2" x2="493.4" y2="913.2" stroke="#BFBFBF" stroke-width="0.7" />
<text x="386.5" y="915.2" font-size="7.0" text-anchor="end" font-weight="bold" font-style="normal" fill="#5a5a5a" textLength="4.0" lengthAdjust="spacing">0</text>
<text x="386.5" y="899.2" font-size="7.0" text-anchor="end" font-weight="bold" font-style="normal" fill="#5a5a5a" textLength="12.6" lengthAdjust="spacing">100</text>
<text x="386.5" y="883.2" font-size="7.0" text-anchor="end" font-weight="bold" font-style="normal" fill="#5a5a5a" textLength="12.6" lengthAdjust="spacing">200</text>
<text x="386.5" y="867.2" font-size="7.0" text-anchor="end" font-weight="bold" font-style="normal" fill="#5a5a5a" textLength="12.6" lengthAdjust="spacing">300</text>
<text x="386.5" y="851.2" font-size="7.0" text-anchor="end" font-weight="bold" font-style="normal" fill="#5a5a5a" textLength="12.6" lengthAdjust="spacing">400</text>
<text x="386.5" y="835.2" font-size="7.0" text-anchor="end" font-weight="bold" font-style="normal" fill="#5a5a5a" textLength="12.6" lengthAdjust="spacing">500</text>
<text x="386.5" y="819.2" font-size="7.0" text-anchor="end" font-weight="bold" font-style="normal" fill="#5a5a5a" textLength="12.6" lengthAdjust="spacing">600</text>
<text x="393.4" y="923.8" font-size="7.0" text-anchor="middle" font-weight="bold" font-style="normal" fill="#5a5a5a" textLength="4.0" lengthAdjust="spacing">0</text>
<text x="417.8" y="923.8" font-size="7.0" text-anchor="middle" font-weight="bold" font-style="normal" fill="#5a5a5a" textLength="15.6" lengthAdjust="spacing">2000</text>
<text x="443.0" y="923.8" font-size="7.0" text-anchor="middle" font-weight="bold" font-style="normal" fill="#5a5a5a" textLength="15.6" lengthAdjust="spacing">4000</text>
<text x="468.2" y="923.8" font-size="7.0" text-anchor="middle" font-weight="bold" font-style="normal" fill="#5a5a5a" textLength="15.6" lengthAdjust="spacing">6000</text>
<text x="493.4" y="923.8" font-size="7.0" text-anchor="middle" font-weight="bold" font-style="normal" fill="#5a5a5a" textLength="15.6" lengthAdjust="spacing">8000</text>
<line x1="398.4" y1="896.6" x2="478.5" y2="833.3" stroke="#000" stroke-width="1.5" stroke-dasharray="1.5 1.25"/>
<circle cx="398.4" cy="894.8" r="2.3" fill="#000"/>
<circle cx="399.6" cy="901.5" r="2.3" fill="#000"/>
<circle cx="409" cy="860.6" r="2.3" fill="#000"/>
<circle cx="418" cy="882.2" r="2.3" fill="#000"/>
<circle cx="420" cy="897.3" r="2.3" fill="#000"/>
<circle cx="425.7" cy="851.2" r="2.3" fill="#000"/>
<circle cx="426.4" cy="867.3" r="2.3" fill="#000"/>
<circle cx="426.2" cy="899.1" r="2.3" fill="#000"/>
<circle cx="431.1" cy="903.3" r="2.3" fill="#000"/>
<circle cx="451.7" cy="843.2" r="2.3" fill="#000"/>
<circle cx="466.6" cy="860.6" r="2.3" fill="#000"/>
<circle cx="474.8" cy="825.1" r="2.3" fill="#000"/>
<circle cx="478.5" cy="822.9" r="2.3" fill="#000"/>
<text x="0" y="0" font-size="7.73" font-weight="bold" text-anchor="middle" transform="translate(363.0,862.5) rotate(-90)"><tspan font-style="italic">FOSL2</tspan> RNA-seq TPM</text>
<text x="449.2" y="936.4" font-size="7.73" text-anchor="middle" font-weight="bold" font-style="normal" fill="#000" >CSF CXCL10 (pg/ml)</text>
<line x1="558.4" y1="815.9" x2="558.4" y2="912.2" stroke="#BFBFBF" stroke-width="0.7" />
<line x1="558.4" y1="912.2" x2="661.0" y2="912.2" stroke="#BFBFBF" stroke-width="0.7" />
<text x="552.7" y="914.5" font-size="7.0" text-anchor="end" font-weight="bold" font-style="normal" fill="#5a5a5a" textLength="4.0" lengthAdjust="spacing">0</text>
<text x="552.7" y="898.4" font-size="7.0" text-anchor="end" font-weight="bold" font-style="normal" fill="#5a5a5a" textLength="12.6" lengthAdjust="spacing">100</text>
<text x="552.7" y="882.3" font-size="7.0" text-anchor="end" font-weight="bold" font-style="normal" fill="#5a5a5a" textLength="12.6" lengthAdjust="spacing">200</text>
<text x="552.7" y="866.2" font-size="7.0" text-anchor="end" font-weight="bold" font-style="normal" fill="#5a5a5a" textLength="12.6" lengthAdjust="spacing">300</text>
<text x="552.7" y="850.1" font-size="7.0" text-anchor="end" font-weight="bold" font-style="normal" fill="#5a5a5a" textLength="12.6" lengthAdjust="spacing">400</text>
<text x="552.7" y="834.0" font-size="7.0" text-anchor="end" font-weight="bold" font-style="normal" fill="#5a5a5a" textLength="12.6" lengthAdjust="spacing">500</text>
<text x="552.7" y="817.9" font-size="7.0" text-anchor="end" font-weight="bold" font-style="normal" fill="#5a5a5a" textLength="12.6" lengthAdjust="spacing">600</text>
<text x="558.4" y="923.6" font-size="7.0" text-anchor="middle" font-weight="bold" font-style="normal" fill="#5a5a5a" textLength="4.0" lengthAdjust="spacing">0</text>
<text x="584.0" y="923.6" font-size="7.0" text-anchor="middle" font-weight="bold" font-style="normal" fill="#5a5a5a" textLength="8.3" lengthAdjust="spacing">10</text>
<text x="609.6" y="923.6" font-size="7.0" text-anchor="middle" font-weight="bold" font-style="normal" fill="#5a5a5a" textLength="8.3" lengthAdjust="spacing">20</text>
<text x="635.2" y="923.6" font-size="7.0" text-anchor="middle" font-weight="bold" font-style="normal" fill="#5a5a5a" textLength="8.3" lengthAdjust="spacing">30</text>
<text x="660.8" y="923.6" font-size="7.0" text-anchor="middle" font-weight="bold" font-style="normal" fill="#5a5a5a" textLength="8.3" lengthAdjust="spacing">40</text>
<line x1="568.4" y1="899.6" x2="645.3" y2="830.8" stroke="#000" stroke-width="1.5" stroke-dasharray="1.5 1.25"/>
<circle cx="568.4" cy="894.1" r="2.3" fill="#000"/>
<circle cx="573.8" cy="900.8" r="2.3" fill="#000"/>
<circle cx="584" cy="881.2" r="2.3" fill="#000"/>
<circle cx="586.5" cy="866.3" r="2.3" fill="#000"/>
<circle cx="589" cy="859.4" r="2.3" fill="#000"/>
<circle cx="589" cy="898.3" r="2.3" fill="#000"/>
<circle cx="594.4" cy="896.6" r="2.3" fill="#000"/>
<circle cx="604.4" cy="842" r="2.3" fill="#000"/>
<circle cx="612.5" cy="902" r="2.3" fill="#000"/>
<circle cx="625" cy="849.9" r="2.3" fill="#000"/>
<circle cx="630.4" cy="859.4" r="2.3" fill="#000"/>
<circle cx="632.9" cy="824.1" r="2.3" fill="#000"/>
<circle cx="645.3" cy="822.1" r="2.3" fill="#000"/>
<text x="0" y="0" font-size="7.73" font-weight="bold" text-anchor="middle" transform="translate(531.3,862.5) rotate(-90)"><tspan font-style="italic">FOSL2</tspan> RNA-seq TPM</text>
<text x="613.4" y="935.9" font-size="7.73" text-anchor="middle" font-weight="bold" font-style="normal" fill="#000" >CSF neopterin (pmol/ml)</text>
</svg></body></html>
